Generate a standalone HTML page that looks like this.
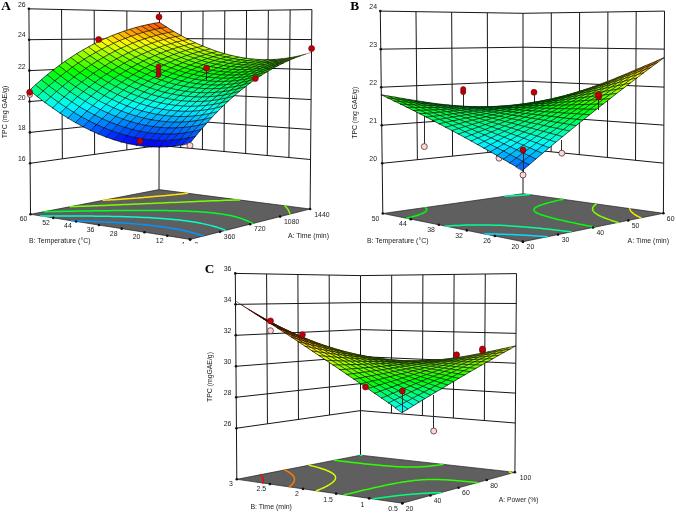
<!DOCTYPE html>
<html><head><meta charset="utf-8"><title>Response surface plots</title>
<style>html,body{margin:0;padding:0;background:#fff}svg{display:block;filter:blur(0.35px)}text{font-family:"Liberation Sans", sans-serif}</style>
</head><body>
<svg width="676" height="513" viewBox="0 0 676 513">
<rect width="676" height="513" fill="#fff"/>
<g><line x1="30.50" y1="214.30" x2="28.90" y2="8.80" stroke="#161616" stroke-width="1.00"/><line x1="62.36" y1="158.85" x2="61.55" y2="9.53" stroke="#161616" stroke-width="1.00"/><line x1="94.61" y1="154.39" x2="94.20" y2="10.25" stroke="#161616" stroke-width="1.00"/><line x1="126.87" y1="149.92" x2="126.85" y2="10.97" stroke="#161616" stroke-width="1.00"/><line x1="159.00" y1="189.60" x2="159.50" y2="11.70" stroke="#161616" stroke-width="1.00"/><line x1="180.76" y1="147.47" x2="181.27" y2="11.40" stroke="#161616" stroke-width="1.00"/><line x1="202.39" y1="149.48" x2="203.04" y2="11.10" stroke="#161616" stroke-width="1.00"/><line x1="224.02" y1="151.49" x2="224.81" y2="10.80" stroke="#161616" stroke-width="1.00"/><line x1="245.65" y1="153.50" x2="246.59" y2="10.50" stroke="#161616" stroke-width="1.00"/><line x1="267.28" y1="155.51" x2="268.36" y2="10.20" stroke="#161616" stroke-width="1.00"/><line x1="288.91" y1="157.52" x2="290.13" y2="9.90" stroke="#161616" stroke-width="1.00"/><line x1="310.10" y1="209.00" x2="311.90" y2="9.60" stroke="#161616" stroke-width="1.00"/><line x1="30.10" y1="163.31" x2="159.12" y2="145.46" stroke="#161616" stroke-width="1.00"/><line x1="159.12" y1="145.46" x2="310.55" y2="159.52" stroke="#161616" stroke-width="1.00"/><line x1="29.86" y1="132.41" x2="159.20" y2="118.71" stroke="#161616" stroke-width="1.00"/><line x1="159.20" y1="118.71" x2="310.82" y2="129.54" stroke="#161616" stroke-width="1.00"/><line x1="29.62" y1="101.51" x2="159.27" y2="91.96" stroke="#161616" stroke-width="1.00"/><line x1="159.27" y1="91.96" x2="311.09" y2="99.55" stroke="#161616" stroke-width="1.00"/><line x1="29.38" y1="70.60" x2="159.35" y2="65.20" stroke="#161616" stroke-width="1.00"/><line x1="159.35" y1="65.20" x2="311.36" y2="69.57" stroke="#161616" stroke-width="1.00"/><line x1="29.14" y1="39.70" x2="159.42" y2="38.45" stroke="#161616" stroke-width="1.00"/><line x1="159.42" y1="38.45" x2="311.63" y2="39.58" stroke="#161616" stroke-width="1.00"/><line x1="28.90" y1="8.80" x2="159.50" y2="11.70" stroke="#161616" stroke-width="1.00"/><line x1="159.50" y1="11.70" x2="311.90" y2="9.60" stroke="#161616" stroke-width="1.00"/></g>
<polygon points="30.50,214.30 159.00,189.60 310.10,209.00 190.10,239.40" fill="#5f5f5f" stroke="#222" stroke-width="0.7"/>
<polyline points="203.39,236.03 201.82,235.50 201.57,235.42 199.72,234.81 197.81,234.22 196.78,233.92 195.86,233.64 193.87,233.08 191.83,232.52 190.13,232.09 189.73,231.99 187.59,231.46 185.40,230.95 183.16,230.45 180.86,229.96 178.87,229.56 178.51,229.49 176.11,229.03 173.65,228.59 171.14,228.16 168.57,227.74 165.94,227.34 163.26,226.94 160.52,226.57 157.72,226.20 154.87,225.85 153.47,225.69 151.96,225.51 148.99,225.18 145.96,224.87 142.88,224.57 139.74,224.28 138.36,224.16 136.54,224.00 133.28,223.73 129.97,223.48 127.86,223.33 126.59,223.24 123.17,223.00 119.68,222.78 118.99,222.74 116.15,222.57 112.56,222.37 111.05,222.29 108.91,222.18 105.21,222.00 103.70,221.93 101.46,221.82 97.65,221.66 96.78,221.62 93.80,221.50 90.18,221.37 89.89,221.36 85.94,221.22 83.86,221.15 81.93,221.09 77.88,220.96 77.72,220.96 73.78,220.84 71.78,220.79" fill="none" stroke="#0094ff" stroke-width="1.50" stroke-linecap="round"/>
<polyline points="225.66,230.39 224.95,230.11 224.05,229.75 222.39,229.12 221.47,228.79 220.68,228.50 218.92,227.90 217.24,227.36 217.10,227.32 215.23,226.75 213.31,226.19 211.65,225.74 211.32,225.65 209.28,225.13 207.18,224.62 205.02,224.13 202.79,223.66 202.67,223.63 200.50,223.20 198.14,222.75 195.72,222.32 193.24,221.91 190.68,221.52 188.06,221.14 185.36,220.78 182.60,220.43 179.77,220.10 176.87,219.78 175.69,219.67 173.90,219.48 170.86,219.20 167.75,218.93 164.57,218.67 162.84,218.54 161.32,218.43 158.01,218.20 154.62,217.99 153.42,217.92 151.18,217.79 147.66,217.60 145.34,217.49 144.08,217.42 140.43,217.26 138.02,217.16 136.72,217.11 132.95,216.97 131.23,216.91 129.12,216.84 125.23,216.72 124.78,216.71 121.28,216.61 118.64,216.55 117.27,216.51 113.21,216.42 112.70,216.41 109.09,216.34 106.96,216.30 104.92,216.27 101.35,216.21 100.69,216.20 96.41,216.14 95.88,216.14 92.09,216.09 90.52,216.08 87.72,216.05 85.25,216.03 83.29,216.01 80.06,215.99 78.83,215.98 74.94,215.95 74.31,215.95 69.88,215.93 69.76,215.93 65.16,215.91 64.89,215.91 60.52,215.90 59.95,215.90 55.84,215.89 55.06,215.89 51.12,215.89 50.21,215.89 46.37,215.89 45.39,215.89 41.57,215.89 40.61,215.89" fill="none" stroke="#00ffc9" stroke-width="1.50" stroke-linecap="round"/>
<polyline points="44.17,211.67 46.86,211.63 49.39,211.58 51.20,211.56 54.57,211.50 55.56,211.48 59.72,211.41 59.94,211.41 64.33,211.34 64.85,211.33 68.74,211.26 69.94,211.24 73.17,211.19 75.00,211.16 77.62,211.12 80.02,211.08 82.09,211.05 85.01,211.00 86.58,210.98 89.96,210.93 91.09,210.92 94.87,210.86 95.64,210.85 99.74,210.79 100.21,210.79 104.57,210.73 104.82,210.73 109.36,210.67 109.47,210.67 114.10,210.62 114.17,210.62 118.79,210.57 118.91,210.57 123.44,210.53 123.71,210.53 128.03,210.49 128.57,210.49 132.57,210.47 133.50,210.46 137.05,210.45 138.51,210.45 141.48,210.44 143.62,210.44 145.85,210.43 148.84,210.44 150.15,210.44 154.18,210.46 154.38,210.46 158.55,210.49 159.70,210.50 162.65,210.53 165.43,210.57 166.68,210.59 170.63,210.66 171.42,210.67 174.51,210.74 177.77,210.82 178.30,210.84 182.02,210.95 184.65,211.04 185.65,211.08 189.19,211.22 192.37,211.38 192.64,211.39 196.02,211.57 199.29,211.77 201.88,211.95 202.47,211.99 205.56,212.23 208.56,212.50 211.46,212.78 214.27,213.08 216.98,213.41 219.60,213.75 222.13,214.12 224.56,214.51 226.91,214.93 229.16,215.36 231.33,215.82 233.41,216.29 234.03,216.45 235.41,216.79 237.33,217.31 239.17,217.85 239.68,218.01 240.93,218.41 242.63,218.99 243.57,219.34 244.25,219.58 245.80,220.20 246.61,220.55 247.29,220.84 248.72,221.49 249.13,221.69 250.10,222.16 251.29,222.79 251.41,222.85 252.67,223.55" fill="none" stroke="#00ff27" stroke-width="1.50" stroke-linecap="round"/>
<polyline points="70.14,206.68 72.09,206.61 75.83,206.48 76.05,206.47 80.02,206.32 81.50,206.27 83.98,206.18 87.16,206.06 87.93,206.03 91.89,205.88 92.81,205.84 95.86,205.73 98.44,205.63 99.82,205.58 103.77,205.42 104.06,205.41 107.74,205.26 109.67,205.18 111.70,205.11 115.25,204.96 115.65,204.94 119.62,204.78 120.82,204.73 123.59,204.62 126.37,204.50 127.55,204.45 131.52,204.29 131.90,204.27 135.50,204.12 137.42,204.04 139.47,203.95 142.90,203.80 143.44,203.78 147.43,203.61 148.38,203.57 151.42,203.44 153.82,203.33 155.41,203.26 159.24,203.09 159.40,203.09 163.41,202.91 164.63,202.86 167.43,202.74 169.99,202.62 171.45,202.56 175.32,202.39 175.47,202.38 179.53,202.20 180.62,202.15 183.59,202.03 185.87,201.92 187.66,201.85 191.08,201.70 191.75,201.67 195.86,201.49 196.25,201.47 200.01,201.32 201.37,201.26 204.18,201.15 206.43,201.05 208.38,200.97 211.42,200.85 212.62,200.81 216.34,200.66 216.91,200.64 221.18,200.49 221.25,200.48 225.68,200.33 225.93,200.32 230.21,200.19 230.58,200.18 234.86,200.07 235.12,200.06 239.53,199.96 239.67,199.96" fill="none" stroke="#7aff00" stroke-width="1.50" stroke-linecap="round"/>
<polyline points="284.76,205.75 284.82,205.79 285.64,206.53 285.72,206.62 286.37,207.29 286.51,207.48 287.02,208.08 287.18,208.32 287.60,208.88 287.76,209.16 288.13,209.71 288.26,209.98 288.60,210.55 288.70,210.80 289.02,211.41 289.09,211.62 289.40,212.29 289.45,212.44 289.75,213.17 289.77,213.25 290.07,214.06 290.07,214.07" fill="none" stroke="#7aff00" stroke-width="1.50" stroke-linecap="round"/>
<polyline points="103.16,200.33 103.42,200.32 106.90,200.10 109.88,199.90 110.36,199.87 113.82,199.64 116.67,199.44 117.24,199.40 120.67,199.17 123.54,198.96 124.06,198.93 127.45,198.68 130.50,198.46 130.81,198.43 134.16,198.18 137.48,197.93 137.57,197.92 140.80,197.67 144.08,197.40 144.79,197.34 147.35,197.14 150.60,196.87 152.17,196.73 153.82,196.59 157.02,196.31 159.75,196.06 160.19,196.03 163.35,195.74 166.46,195.44 167.61,195.33 169.56,195.15 172.63,194.85 175.66,194.54 175.82,194.52 178.68,194.23 181.66,193.91 184.56,193.59 184.60,193.59 187.52,193.26" fill="none" stroke="#ffe200" stroke-width="1.50" stroke-linecap="round"/>
<g fill="#111"><circle cx="30.50" cy="214.30" r="1.3"/><circle cx="53.30" cy="217.89" r="1.3"/><circle cx="76.10" cy="221.47" r="1.3"/><circle cx="98.90" cy="225.06" r="1.3"/><circle cx="121.70" cy="228.64" r="1.3"/><circle cx="144.50" cy="232.23" r="1.3"/><circle cx="167.30" cy="235.81" r="1.3"/><circle cx="190.10" cy="239.40" r="1.3"/><circle cx="190.10" cy="239.40" r="1.3"/><circle cx="220.10" cy="231.80" r="1.3"/><circle cx="250.10" cy="224.20" r="1.3"/><circle cx="280.10" cy="216.60" r="1.3"/><circle cx="310.10" cy="209.00" r="1.3"/><circle cx="30.10" cy="163.31" r="1.3"/><circle cx="29.86" cy="132.41" r="1.3"/><circle cx="29.62" cy="101.51" r="1.3"/><circle cx="29.38" cy="70.60" r="1.3"/><circle cx="29.14" cy="39.70" r="1.3"/><circle cx="28.90" cy="8.80" r="1.3"/></g>
<circle cx="29.9" cy="94.8" r="2.6" fill="#ffd6d6" stroke="#3a2020" stroke-width="0.7"/>
<g fill="none" stroke="#000" stroke-width="0.68" stroke-linejoin="round" stroke-linecap="round"><path d="M153.5 23.4L159.5 22.4L166.7 27.1L160.8 28.2Z" fill="#ff5d00" stroke="none"/><path d="M153.5 23.4L159.5 22.4L166.7 27.1"/><path d="M147.6 24.6L153.5 23.4L160.8 28.2L154.9 29.4Z" fill="#ff6800" stroke="none"/><path d="M147.6 24.6L153.5 23.4L160.8 28.2"/><path d="M160.8 28.2L166.7 27.1L173.9 31.5L168.1 32.6Z" fill="#ff8900" stroke="none"/><path d="M160.8 28.2L166.7 27.1L173.9 31.5"/><path d="M141.7 26.0L147.6 24.6L154.9 29.4L149.0 30.8Z" fill="#ff7500" stroke="none"/><path d="M141.7 26.0L147.6 24.6L154.9 29.4"/><path d="M154.9 29.4L160.8 28.2L168.1 32.6L162.2 33.9Z" fill="#ff9500" stroke="none"/><path d="M154.9 29.4L160.8 28.2L168.1 32.6"/><path d="M168.1 32.6L173.9 31.5L181.2 35.6L175.3 36.7Z" fill="#ffb200" stroke="none"/><path d="M168.1 32.6L173.9 31.5L181.2 35.6"/><path d="M135.7 27.5L141.7 26.0L149.0 30.8L143.1 32.4Z" fill="#ff8300" stroke="none"/><path d="M135.7 27.5L141.7 26.0L149.0 30.8"/><path d="M149.0 30.8L154.9 29.4L162.2 33.9L156.3 35.4Z" fill="#ffa100" stroke="none"/><path d="M149.0 30.8L154.9 29.4L162.2 33.9"/><path d="M162.2 33.9L168.1 32.6L175.3 36.7L169.4 38.1Z" fill="#ffbd00" stroke="none"/><path d="M162.2 33.9L168.1 32.6L175.3 36.7"/><path d="M175.3 36.7L181.2 35.6L188.4 39.4L182.6 40.6Z" fill="#ffd700" stroke="none"/><path d="M175.3 36.7L181.2 35.6L188.4 39.4"/><path d="M129.8 29.3L135.7 27.5L143.1 32.4L137.2 34.2Z" fill="#ff9300" stroke="none"/><path d="M129.8 29.3L135.7 27.5L143.1 32.4"/><path d="M143.1 32.4L149.0 30.8L156.3 35.4L150.4 37.0Z" fill="#ffb000" stroke="none"/><path d="M143.1 32.4L149.0 30.8L156.3 35.4"/><path d="M156.3 35.4L162.2 33.9L169.4 38.1L163.6 39.6Z" fill="#ffca00" stroke="none"/><path d="M156.3 35.4L162.2 33.9L169.4 38.1"/><path d="M169.4 38.1L175.3 36.7L182.6 40.6L176.7 42.0Z" fill="#ffe300" stroke="none"/><path d="M169.4 38.1L175.3 36.7L182.6 40.6"/><path d="M182.6 40.6L188.4 39.4L195.6 42.9L189.8 44.1Z" fill="#fffa00" stroke="none"/><path d="M182.6 40.6L188.4 39.4L195.6 42.9"/><path d="M123.9 31.2L129.8 29.3L137.2 34.2L131.3 36.2Z" fill="#ffa400" stroke="none"/><path d="M123.9 31.2L129.8 29.3L137.2 34.2"/><path d="M137.2 34.2L143.1 32.4L150.4 37.0L144.5 38.9Z" fill="#ffc000" stroke="none"/><path d="M137.2 34.2L143.1 32.4L150.4 37.0"/><path d="M150.4 37.0L156.3 35.4L163.6 39.6L157.7 41.3Z" fill="#ffd900" stroke="none"/><path d="M150.4 37.0L156.3 35.4L163.6 39.6"/><path d="M163.6 39.6L169.4 38.1L176.7 42.0L170.9 43.6Z" fill="#fff000" stroke="none"/><path d="M163.6 39.6L169.4 38.1L176.7 42.0"/><path d="M176.7 42.0L182.6 40.6L189.8 44.1L184.0 45.6Z" fill="#f9ff00" stroke="none"/><path d="M176.7 42.0L182.6 40.6L189.8 44.1"/><path d="M189.8 44.1L195.6 42.9L202.9 46.1L197.1 47.4Z" fill="#e6ff00" stroke="none"/><path d="M189.8 44.1L195.6 42.9L202.9 46.1"/><path d="M118.0 33.3L123.9 31.2L131.3 36.2L125.3 38.4Z" fill="#ffb700" stroke="none"/><path d="M118.0 33.3L123.9 31.2L131.3 36.2"/><path d="M131.3 36.2L137.2 34.2L144.5 38.9L138.6 40.9Z" fill="#ffd100" stroke="none"/><path d="M131.3 36.2L137.2 34.2L144.5 38.9"/><path d="M144.5 38.9L150.4 37.0L157.7 41.3L151.8 43.2Z" fill="#ffe900" stroke="none"/><path d="M144.5 38.9L150.4 37.0L157.7 41.3"/><path d="M157.7 41.3L163.6 39.6L170.9 43.6L165.0 45.3Z" fill="#ffff00" stroke="none"/><path d="M157.7 41.3L163.6 39.6L170.9 43.6"/><path d="M170.9 43.6L176.7 42.0L184.0 45.6L178.2 47.2Z" fill="#ebff00" stroke="none"/><path d="M170.9 43.6L176.7 42.0L184.0 45.6"/><path d="M184.0 45.6L189.8 44.1L197.1 47.4L191.3 48.8Z" fill="#daff00" stroke="none"/><path d="M184.0 45.6L189.8 44.1L197.1 47.4"/><path d="M197.1 47.4L202.9 46.1L210.1 48.9L204.3 50.3Z" fill="#caff00" stroke="none"/><path d="M197.1 47.4L202.9 46.1L210.1 48.9"/><path d="M112.0 35.6L118.0 33.3L125.3 38.4L119.4 40.7Z" fill="#ffcc00" stroke="none"/><path d="M112.0 35.6L118.0 33.3L125.3 38.4"/><path d="M125.3 38.4L131.3 36.2L138.6 40.9L132.7 43.1Z" fill="#ffe400" stroke="none"/><path d="M125.3 38.4L131.3 36.2L138.6 40.9"/><path d="M138.6 40.9L144.5 38.9L151.8 43.2L146.0 45.3Z" fill="#fffb00" stroke="none"/><path d="M138.6 40.9L144.5 38.9L151.8 43.2"/><path d="M151.8 43.2L157.7 41.3L165.0 45.3L159.2 47.3Z" fill="#efff00" stroke="none"/><path d="M151.8 43.2L157.7 41.3L165.0 45.3"/><path d="M165.0 45.3L170.9 43.6L178.2 47.2L172.3 49.0Z" fill="#ddff00" stroke="none"/><path d="M165.0 45.3L170.9 43.6L178.2 47.2"/><path d="M178.2 47.2L184.0 45.6L191.3 48.8L185.4 50.5Z" fill="#ccff00" stroke="none"/><path d="M178.2 47.2L184.0 45.6L191.3 48.8"/><path d="M191.3 48.8L197.1 47.4L204.3 50.3L198.5 51.8Z" fill="#beff00" stroke="none"/><path d="M191.3 48.8L197.1 47.4L204.3 50.3"/><path d="M204.3 50.3L210.1 48.9L217.3 51.5L211.6 52.8Z" fill="#b2ff00" stroke="none"/><path d="M204.3 50.3L210.1 48.9L217.3 51.5"/><path d="M106.1 38.1L112.0 35.6L119.4 40.7L113.5 43.3Z" fill="#ffe100" stroke="none"/><path d="M106.1 38.1L112.0 35.6L119.4 40.7"/><path d="M119.4 40.7L125.3 38.4L132.7 43.1L126.8 45.6Z" fill="#fff900" stroke="none"/><path d="M119.4 40.7L125.3 38.4L132.7 43.1"/><path d="M132.7 43.1L138.6 40.9L146.0 45.3L140.1 47.6Z" fill="#f0ff00" stroke="none"/><path d="M132.7 43.1L138.6 40.9L146.0 45.3"/><path d="M146.0 45.3L151.8 43.2L159.2 47.3L153.3 49.4Z" fill="#ddff00" stroke="none"/><path d="M146.0 45.3L151.8 43.2L159.2 47.3"/><path d="M159.2 47.3L165.0 45.3L172.3 49.0L166.5 51.0Z" fill="#ccff00" stroke="none"/><path d="M159.2 47.3L165.0 45.3L172.3 49.0"/><path d="M172.3 49.0L178.2 47.2L185.4 50.5L179.6 52.4Z" fill="#bdff00" stroke="none"/><path d="M172.3 49.0L178.2 47.2L185.4 50.5"/><path d="M185.4 50.5L191.3 48.8L198.5 51.8L192.7 53.5Z" fill="#b0ff00" stroke="none"/><path d="M185.4 50.5L191.3 48.8L198.5 51.8"/><path d="M198.5 51.8L204.3 50.3L211.6 52.8L205.8 54.4Z" fill="#a6ff00" stroke="none"/><path d="M198.5 51.8L204.3 50.3L211.6 52.8"/><path d="M211.6 52.8L217.3 51.5L224.6 53.7L218.8 55.1Z" fill="#9dff00" stroke="none"/><path d="M211.6 52.8L217.3 51.5L224.6 53.7"/><path d="M100.2 40.8L106.1 38.1L113.5 43.3L107.7 46.1Z" fill="#fff900" stroke="none"/><path d="M100.2 40.8L106.1 38.1L113.5 43.3"/><path d="M113.5 43.3L119.4 40.7L126.8 45.6L121.0 48.2Z" fill="#efff00" stroke="none"/><path d="M113.5 43.3L119.4 40.7L126.8 45.6"/><path d="M126.8 45.6L132.7 43.1L140.1 47.6L134.2 50.1Z" fill="#dcff00" stroke="none"/><path d="M126.8 45.6L132.7 43.1L140.1 47.6"/><path d="M140.1 47.6L146.0 45.3L153.3 49.4L147.5 51.8Z" fill="#caff00" stroke="none"/><path d="M140.1 47.6L146.0 45.3L153.3 49.4"/><path d="M153.3 49.4L159.2 47.3L166.5 51.0L160.7 53.2Z" fill="#baff00" stroke="none"/><path d="M153.3 49.4L159.2 47.3L166.5 51.0"/><path d="M166.5 51.0L172.3 49.0L179.6 52.4L173.8 54.4Z" fill="#adff00" stroke="none"/><path d="M166.5 51.0L172.3 49.0L179.6 52.4"/><path d="M179.6 52.4L185.4 50.5L192.7 53.5L186.9 55.4Z" fill="#a1ff00" stroke="none"/><path d="M179.6 52.4L185.4 50.5L192.7 53.5"/><path d="M192.7 53.5L198.5 51.8L205.8 54.4L200.0 56.2Z" fill="#98ff00" stroke="none"/><path d="M192.7 53.5L198.5 51.8L205.8 54.4"/><path d="M205.8 54.4L211.6 52.8L218.8 55.1L213.1 56.7Z" fill="#90ff00" stroke="none"/><path d="M205.8 54.4L211.6 52.8L218.8 55.1"/><path d="M218.8 55.1L224.6 53.7L231.8 55.5L226.1 57.0Z" fill="#8bff00" stroke="none"/><path d="M218.8 55.1L224.6 53.7L231.8 55.5"/><path d="M94.3 43.7L100.2 40.8L107.7 46.1L101.8 49.1Z" fill="#ecff00" stroke="none"/><path d="M94.3 43.7L100.2 40.8L107.7 46.1"/><path d="M107.7 46.1L113.5 43.3L121.0 48.2L115.1 51.0Z" fill="#d8ff00" stroke="none"/><path d="M107.7 46.1L113.5 43.3L121.0 48.2"/><path d="M121.0 48.2L126.8 45.6L134.2 50.1L128.4 52.8Z" fill="#c5ff00" stroke="none"/><path d="M121.0 48.2L126.8 45.6L134.2 50.1"/><path d="M134.2 50.1L140.1 47.6L147.5 51.8L141.6 54.3Z" fill="#b5ff00" stroke="none"/><path d="M134.2 50.1L140.1 47.6L147.5 51.8"/><path d="M147.5 51.8L153.3 49.4L160.7 53.2L154.8 55.6Z" fill="#a7ff00" stroke="none"/><path d="M147.5 51.8L153.3 49.4L160.7 53.2"/><path d="M160.7 53.2L166.5 51.0L173.8 54.4L168.0 56.7Z" fill="#9bff00" stroke="none"/><path d="M160.7 53.2L166.5 51.0L173.8 54.4"/><path d="M173.8 54.4L179.6 52.4L186.9 55.4L181.1 57.5Z" fill="#91ff00" stroke="none"/><path d="M173.8 54.4L179.6 52.4L186.9 55.4"/><path d="M186.9 55.4L192.7 53.5L200.0 56.2L194.2 58.1Z" fill="#89ff00" stroke="none"/><path d="M186.9 55.4L192.7 53.5L200.0 56.2"/><path d="M200.0 56.2L205.8 54.4L213.1 56.7L207.3 58.5Z" fill="#83ff00" stroke="none"/><path d="M200.0 56.2L205.8 54.4L213.1 56.7"/><path d="M213.1 56.7L218.8 55.1L226.1 57.0L220.3 58.6Z" fill="#7fff00" stroke="none"/><path d="M213.1 56.7L218.8 55.1L226.1 57.0"/><path d="M226.1 57.0L231.8 55.5L239.0 57.1L233.3 58.6Z" fill="#7dff00" stroke="none"/><path d="M226.1 57.0L231.8 55.5L239.0 57.1"/><path d="M88.4 46.9L94.3 43.7L101.8 49.1L95.9 52.3Z" fill="#d2ff00" stroke="none"/><path d="M88.4 46.9L94.3 43.7L101.8 49.1"/><path d="M101.8 49.1L107.7 46.1L115.1 51.0L109.2 54.1Z" fill="#bfff00" stroke="none"/><path d="M101.8 49.1L107.7 46.1L115.1 51.0"/><path d="M115.1 51.0L121.0 48.2L128.4 52.8L122.5 55.7Z" fill="#aeff00" stroke="none"/><path d="M115.1 51.0L121.0 48.2L128.4 52.8"/><path d="M128.4 52.8L134.2 50.1L141.6 54.3L135.8 57.1Z" fill="#9fff00" stroke="none"/><path d="M128.4 52.8L134.2 50.1L141.6 54.3"/><path d="M141.6 54.3L147.5 51.8L154.8 55.6L149.0 58.2Z" fill="#92ff00" stroke="none"/><path d="M141.6 54.3L147.5 51.8L154.8 55.6"/><path d="M154.8 55.6L160.7 53.2L168.0 56.7L162.2 59.1Z" fill="#87ff00" stroke="none"/><path d="M154.8 55.6L160.7 53.2L168.0 56.7"/><path d="M168.0 56.7L173.8 54.4L181.1 57.5L175.4 59.8Z" fill="#7eff00" stroke="none"/><path d="M168.0 56.7L173.8 54.4L181.1 57.5"/><path d="M181.1 57.5L186.9 55.4L194.2 58.1L188.5 60.3Z" fill="#78ff00" stroke="none"/><path d="M181.1 57.5L186.9 55.4L194.2 58.1"/><path d="M194.2 58.1L200.0 56.2L207.3 58.5L201.6 60.5Z" fill="#73ff00" stroke="none"/><path d="M194.2 58.1L200.0 56.2L207.3 58.5"/><path d="M207.3 58.5L213.1 56.7L220.3 58.6L214.6 60.5Z" fill="#71ff00" stroke="none"/><path d="M207.3 58.5L213.1 56.7L220.3 58.6"/><path d="M220.3 58.6L226.1 57.0L233.3 58.6L227.6 60.2Z" fill="#70ff00" stroke="none"/><path d="M220.3 58.6L226.1 57.0L233.3 58.6"/><path d="M233.3 58.6L239.0 57.1L246.3 58.3L240.6 59.8Z" fill="#72ff00" stroke="none"/><path d="M233.3 58.6L239.0 57.1L246.3 58.3"/><path d="M82.5 50.2L88.4 46.9L95.9 52.3L90.0 55.7Z" fill="#b6ff00" stroke="none"/><path d="M82.5 50.2L88.4 46.9L95.9 52.3"/><path d="M95.9 52.3L101.8 49.1L109.2 54.1L103.3 57.4Z" fill="#a4ff00" stroke="none"/><path d="M95.9 52.3L101.8 49.1L109.2 54.1"/><path d="M109.2 54.1L115.1 51.0L122.5 55.7L116.7 58.8Z" fill="#94ff00" stroke="none"/><path d="M109.2 54.1L115.1 51.0L122.5 55.7"/><path d="M122.5 55.7L128.4 52.8L135.8 57.1L130.0 60.0Z" fill="#87ff00" stroke="none"/><path d="M122.5 55.7L128.4 52.8L135.8 57.1"/><path d="M135.8 57.1L141.6 54.3L149.0 58.2L143.2 61.0Z" fill="#7bff00" stroke="none"/><path d="M135.8 57.1L141.6 54.3L149.0 58.2"/><path d="M149.0 58.2L154.8 55.6L162.2 59.1L156.4 61.8Z" fill="#72ff00" stroke="none"/><path d="M149.0 58.2L154.8 55.6L162.2 59.1"/><path d="M162.2 59.1L168.0 56.7L175.4 59.8L169.6 62.3Z" fill="#6bff00" stroke="none"/><path d="M162.2 59.1L168.0 56.7L175.4 59.8"/><path d="M175.4 59.8L181.1 57.5L188.5 60.3L182.7 62.6Z" fill="#65ff00" stroke="none"/><path d="M175.4 59.8L181.1 57.5L188.5 60.3"/><path d="M188.5 60.3L194.2 58.1L201.6 60.5L195.8 62.7Z" fill="#62ff00" stroke="none"/><path d="M188.5 60.3L194.2 58.1L201.6 60.5"/><path d="M201.6 60.5L207.3 58.5L214.6 60.5L208.9 62.5Z" fill="#61ff00" stroke="none"/><path d="M201.6 60.5L207.3 58.5L214.6 60.5"/><path d="M214.6 60.5L220.3 58.6L227.6 60.2L221.9 62.1Z" fill="#62ff00" stroke="none"/><path d="M214.6 60.5L220.3 58.6L227.6 60.2"/><path d="M227.6 60.2L233.3 58.6L240.6 59.8L234.9 61.5Z" fill="#65ff00" stroke="none"/><path d="M227.6 60.2L233.3 58.6L240.6 59.8"/><path d="M240.6 59.8L246.3 58.3L253.5 59.1L247.8 60.6Z" fill="#6aff00" stroke="none"/><path d="M240.6 59.8L246.3 58.3L253.5 59.1"/><path d="M76.6 53.7L82.5 50.2L90.0 55.7L84.1 59.3Z" fill="#98ff00" stroke="none"/><path d="M76.6 53.7L82.5 50.2L90.0 55.7"/><path d="M90.0 55.7L95.9 52.3L103.3 57.4L97.5 60.8Z" fill="#88ff00" stroke="none"/><path d="M90.0 55.7L95.9 52.3L103.3 57.4"/><path d="M103.3 57.4L109.2 54.1L116.7 58.8L110.8 62.1Z" fill="#7aff00" stroke="none"/><path d="M103.3 57.4L109.2 54.1L116.7 58.8"/><path d="M116.7 58.8L122.5 55.7L130.0 60.0L124.1 63.2Z" fill="#6eff00" stroke="none"/><path d="M116.7 58.8L122.5 55.7L130.0 60.0"/><path d="M130.0 60.0L135.8 57.1L143.2 61.0L137.4 64.1Z" fill="#63ff00" stroke="none"/><path d="M130.0 60.0L135.8 57.1L143.2 61.0"/><path d="M143.2 61.0L149.0 58.2L156.4 61.8L150.6 64.7Z" fill="#5bff00" stroke="none"/><path d="M143.2 61.0L149.0 58.2L156.4 61.8"/><path d="M156.4 61.8L162.2 59.1L169.6 62.3L163.8 65.0Z" fill="#55ff00" stroke="none"/><path d="M156.4 61.8L162.2 59.1L169.6 62.3"/><path d="M169.6 62.3L175.4 59.8L182.7 62.6L176.9 65.2Z" fill="#52ff00" stroke="none"/><path d="M169.6 62.3L175.4 59.8L182.7 62.6"/><path d="M182.7 62.6L188.5 60.3L195.8 62.7L190.1 65.1Z" fill="#50ff00" stroke="none"/><path d="M182.7 62.6L188.5 60.3L195.8 62.7"/><path d="M195.8 62.7L201.6 60.5L208.9 62.5L203.1 64.7Z" fill="#50ff00" stroke="none"/><path d="M195.8 62.7L201.6 60.5L208.9 62.5"/><path d="M208.9 62.5L214.6 60.5L221.9 62.1L216.2 64.2Z" fill="#52ff00" stroke="none"/><path d="M208.9 62.5L214.6 60.5L221.9 62.1"/><path d="M221.9 62.1L227.6 60.2L234.9 61.5L229.2 63.4Z" fill="#56ff00" stroke="none"/><path d="M221.9 62.1L227.6 60.2L234.9 61.5"/><path d="M234.9 61.5L240.6 59.8L247.8 60.6L242.1 62.4Z" fill="#5dff00" stroke="none"/><path d="M234.9 61.5L240.6 59.8L247.8 60.6"/><path d="M247.8 60.6L253.5 59.1L260.7 59.6L255.1 61.1Z" fill="#65ff00" stroke="none"/><path d="M247.8 60.6L253.5 59.1L260.7 59.6"/><path d="M70.7 57.5L76.6 53.7L84.1 59.3L78.2 63.1Z" fill="#79ff00" stroke="none"/><path d="M70.7 57.5L76.6 53.7L84.1 59.3"/><path d="M84.1 59.3L90.0 55.7L97.5 60.8L91.6 64.5Z" fill="#6aff00" stroke="none"/><path d="M84.1 59.3L90.0 55.7L97.5 60.8"/><path d="M97.5 60.8L103.3 57.4L110.8 62.1L105.0 65.7Z" fill="#5dff00" stroke="none"/><path d="M97.5 60.8L103.3 57.4L110.8 62.1"/><path d="M110.8 62.1L116.7 58.8L124.1 63.2L118.3 66.6Z" fill="#53ff00" stroke="none"/><path d="M110.8 62.1L116.7 58.8L124.1 63.2"/><path d="M124.1 63.2L130.0 60.0L137.4 64.1L131.6 67.3Z" fill="#4aff00" stroke="none"/><path d="M124.1 63.2L130.0 60.0L137.4 64.1"/><path d="M137.4 64.1L143.2 61.0L150.6 64.7L144.8 67.7Z" fill="#43ff00" stroke="none"/><path d="M137.4 64.1L143.2 61.0L150.6 64.7"/><path d="M150.6 64.7L156.4 61.8L163.8 65.0L158.0 68.0Z" fill="#3fff00" stroke="none"/><path d="M150.6 64.7L156.4 61.8L163.8 65.0"/><path d="M163.8 65.0L169.6 62.3L176.9 65.2L171.2 67.9Z" fill="#3cff00" stroke="none"/><path d="M163.8 65.0L169.6 62.3L176.9 65.2"/><path d="M176.9 65.2L182.7 62.6L190.1 65.1L184.3 67.7Z" fill="#3cff00" stroke="none"/><path d="M176.9 65.2L182.7 62.6L190.1 65.1"/><path d="M190.1 65.1L195.8 62.7L203.1 64.7L197.4 67.2Z" fill="#3dff00" stroke="none"/><path d="M190.1 65.1L195.8 62.7L203.1 64.7"/><path d="M203.1 64.7L208.9 62.5L216.2 64.2L210.5 66.5Z" fill="#41ff00" stroke="none"/><path d="M203.1 64.7L208.9 62.5L216.2 64.2"/><path d="M216.2 64.2L221.9 62.1L229.2 63.4L223.5 65.5Z" fill="#47ff00" stroke="none"/><path d="M216.2 64.2L221.9 62.1L229.2 63.4"/><path d="M229.2 63.4L234.9 61.5L242.1 62.4L236.5 64.3Z" fill="#4eff00" stroke="none"/><path d="M229.2 63.4L234.9 61.5L242.1 62.4"/><path d="M242.1 62.4L247.8 60.6L255.1 61.1L249.4 62.9Z" fill="#58ff00" stroke="none"/><path d="M242.1 62.4L247.8 60.6L255.1 61.1"/><path d="M255.1 61.1L260.7 59.6L268.0 59.7L262.3 61.3Z" fill="#64ff00" stroke="none"/><path d="M255.1 61.1L260.7 59.6L268.0 59.7"/><path d="M64.8 61.5L70.7 57.5L78.2 63.1L72.3 67.2Z" fill="#58ff00" stroke="none"/><path d="M64.8 61.5L70.7 57.5L78.2 63.1"/><path d="M78.2 63.1L84.1 59.3L91.6 64.5L85.8 68.4Z" fill="#4bff00" stroke="none"/><path d="M78.2 63.1L84.1 59.3L91.6 64.5"/><path d="M91.6 64.5L97.5 60.8L105.0 65.7L99.1 69.5Z" fill="#3fff00" stroke="none"/><path d="M91.6 64.5L97.5 60.8L105.0 65.7"/><path d="M105.0 65.7L110.8 62.1L118.3 66.6L112.5 70.2Z" fill="#36ff00" stroke="none"/><path d="M105.0 65.7L110.8 62.1L118.3 66.6"/><path d="M118.3 66.6L124.1 63.2L131.6 67.3L125.8 70.8Z" fill="#2fff00" stroke="none"/><path d="M118.3 66.6L124.1 63.2L131.6 67.3"/><path d="M131.6 67.3L137.4 64.1L144.8 67.7L139.0 71.0Z" fill="#2aff00" stroke="none"/><path d="M131.6 67.3L137.4 64.1L144.8 67.7"/><path d="M144.8 67.7L150.6 64.7L158.0 68.0L152.2 71.1Z" fill="#26ff00" stroke="none"/><path d="M144.8 67.7L150.6 64.7L158.0 68.0"/><path d="M158.0 68.0L163.8 65.0L171.2 67.9L165.4 70.9Z" fill="#25ff00" stroke="none"/><path d="M158.0 68.0L163.8 65.0L171.2 67.9"/><path d="M171.2 67.9L176.9 65.2L184.3 67.7L178.6 70.5Z" fill="#26ff00" stroke="none"/><path d="M171.2 67.9L176.9 65.2L184.3 67.7"/><path d="M184.3 67.7L190.1 65.1L197.4 67.2L191.7 69.8Z" fill="#29ff00" stroke="none"/><path d="M184.3 67.7L190.1 65.1L197.4 67.2"/><path d="M197.4 67.2L203.1 64.7L210.5 66.5L204.7 68.9Z" fill="#2eff00" stroke="none"/><path d="M197.4 67.2L203.1 64.7L210.5 66.5"/><path d="M210.5 66.5L216.2 64.2L223.5 65.5L217.8 67.8Z" fill="#35ff00" stroke="none"/><path d="M210.5 66.5L216.2 64.2L223.5 65.5"/><path d="M223.5 65.5L229.2 63.4L236.5 64.3L230.8 66.5Z" fill="#3eff00" stroke="none"/><path d="M223.5 65.5L229.2 63.4L236.5 64.3"/><path d="M236.5 64.3L242.1 62.4L249.4 62.9L243.8 64.9Z" fill="#4aff00" stroke="none"/><path d="M236.5 64.3L242.1 62.4L249.4 62.9"/><path d="M249.4 62.9L255.1 61.1L262.3 61.3L256.7 63.1Z" fill="#57ff00" stroke="none"/><path d="M249.4 62.9L255.1 61.1L262.3 61.3"/><path d="M262.3 61.3L268.0 59.7L275.2 59.4L269.6 61.0Z" fill="#66ff00" stroke="none"/><path d="M262.3 61.3L268.0 59.7L275.2 59.4"/><path d="M58.9 65.7L64.8 61.5L72.3 67.2L66.5 71.5Z" fill="#36ff00" stroke="none"/><path d="M58.9 65.7L64.8 61.5L72.3 67.2"/><path d="M72.3 67.2L78.2 63.1L85.8 68.4L79.9 72.6Z" fill="#2aff00" stroke="none"/><path d="M72.3 67.2L78.2 63.1L85.8 68.4"/><path d="M85.8 68.4L91.6 64.5L99.1 69.5L93.3 73.4Z" fill="#20ff00" stroke="none"/><path d="M85.8 68.4L91.6 64.5L99.1 69.5"/><path d="M99.1 69.5L105.0 65.7L112.5 70.2L106.6 74.1Z" fill="#18ff00" stroke="none"/><path d="M99.1 69.5L105.0 65.7L112.5 70.2"/><path d="M112.5 70.2L118.3 66.6L125.8 70.8L119.9 74.4Z" fill="#12ff00" stroke="none"/><path d="M112.5 70.2L118.3 66.6L125.8 70.8"/><path d="M125.8 70.8L131.6 67.3L139.0 71.0L133.2 74.6Z" fill="#0eff00" stroke="none"/><path d="M125.8 70.8L131.6 67.3L139.0 71.0"/><path d="M139.0 71.0L144.8 67.7L152.2 71.1L146.5 74.4Z" fill="#0dff00" stroke="none"/><path d="M139.0 71.0L144.8 67.7L152.2 71.1"/><path d="M152.2 71.1L158.0 68.0L165.4 70.9L159.7 74.1Z" fill="#0dff00" stroke="none"/><path d="M152.2 71.1L158.0 68.0L165.4 70.9"/><path d="M165.4 70.9L171.2 67.9L178.6 70.5L172.8 73.5Z" fill="#0fff00" stroke="none"/><path d="M165.4 70.9L171.2 67.9L178.6 70.5"/><path d="M178.6 70.5L184.3 67.7L191.7 69.8L185.9 72.7Z" fill="#13ff00" stroke="none"/><path d="M178.6 70.5L184.3 67.7L191.7 69.8"/><path d="M191.7 69.8L197.4 67.2L204.7 68.9L199.0 71.6Z" fill="#1aff00" stroke="none"/><path d="M191.7 69.8L197.4 67.2L204.7 68.9"/><path d="M204.7 68.9L210.5 66.5L217.8 67.8L212.1 70.3Z" fill="#22ff00" stroke="none"/><path d="M204.7 68.9L210.5 66.5L217.8 67.8"/><path d="M217.8 67.8L223.5 65.5L230.8 66.5L225.1 68.8Z" fill="#2dff00" stroke="none"/><path d="M217.8 67.8L223.5 65.5L230.8 66.5"/><path d="M230.8 66.5L236.5 64.3L243.8 64.9L238.1 67.0Z" fill="#39ff00" stroke="none"/><path d="M230.8 66.5L236.5 64.3L243.8 64.9"/><path d="M243.8 64.9L249.4 62.9L256.7 63.1L251.1 65.0Z" fill="#48ff00" stroke="none"/><path d="M243.8 64.9L249.4 62.9L256.7 63.1"/><path d="M256.7 63.1L262.3 61.3L269.6 61.0L264.0 62.8Z" fill="#59ff00" stroke="none"/><path d="M256.7 63.1L262.3 61.3L269.6 61.0"/><path d="M269.6 61.0L275.2 59.4L282.5 58.7L276.9 60.4Z" fill="#6bff00" stroke="none"/><path d="M269.6 61.0L275.2 59.4L282.5 58.7"/><path d="M53.0 70.2L58.9 65.7L66.5 71.5L60.6 76.0Z" fill="#12ff00" stroke="none"/><path d="M53.0 70.2L58.9 65.7L66.5 71.5"/><path d="M66.5 71.5L72.3 67.2L79.9 72.6L74.1 77.0Z" fill="#08ff00" stroke="none"/><path d="M66.5 71.5L72.3 67.2L79.9 72.6"/><path d="M79.9 72.6L85.8 68.4L93.3 73.4L87.5 77.7Z" fill="#00ff01" stroke="none"/><path d="M79.9 72.6L85.8 68.4L93.3 73.4"/><path d="M93.3 73.4L99.1 69.5L106.6 74.1L100.8 78.1Z" fill="#00ff07" stroke="none"/><path d="M93.3 73.4L99.1 69.5L106.6 74.1"/><path d="M106.6 74.1L112.5 70.2L119.9 74.4L114.1 78.3Z" fill="#00ff0c" stroke="none"/><path d="M106.6 74.1L112.5 70.2L119.9 74.4"/><path d="M119.9 74.4L125.8 70.8L133.2 74.6L127.4 78.3Z" fill="#00ff0e" stroke="none"/><path d="M119.9 74.4L125.8 70.8L133.2 74.6"/><path d="M133.2 74.6L139.0 71.0L146.5 74.4L140.7 78.0Z" fill="#00ff0f" stroke="none"/><path d="M133.2 74.6L139.0 71.0L146.5 74.4"/><path d="M146.5 74.4L152.2 71.1L159.7 74.1L153.9 77.5Z" fill="#00ff0d" stroke="none"/><path d="M146.5 74.4L152.2 71.1L159.7 74.1"/><path d="M159.7 74.1L165.4 70.9L172.8 73.5L167.1 76.8Z" fill="#00ff0a" stroke="none"/><path d="M159.7 74.1L165.4 70.9L172.8 73.5"/><path d="M172.8 73.5L178.6 70.5L185.9 72.7L180.2 75.8Z" fill="#00ff04" stroke="none"/><path d="M172.8 73.5L178.6 70.5L185.9 72.7"/><path d="M185.9 72.7L191.7 69.8L199.0 71.6L193.3 74.5Z" fill="#04ff00" stroke="none"/><path d="M185.9 72.7L191.7 69.8L199.0 71.6"/><path d="M199.0 71.6L204.7 68.9L212.1 70.3L206.4 73.1Z" fill="#0eff00" stroke="none"/><path d="M199.0 71.6L204.7 68.9L212.1 70.3"/><path d="M212.1 70.3L217.8 67.8L225.1 68.8L219.4 71.4Z" fill="#1aff00" stroke="none"/><path d="M212.1 70.3L217.8 67.8L225.1 68.8"/><path d="M225.1 68.8L230.8 66.5L238.1 67.0L232.4 69.4Z" fill="#28ff00" stroke="none"/><path d="M225.1 68.8L230.8 66.5L238.1 67.0"/><path d="M238.1 67.0L243.8 64.9L251.1 65.0L245.4 67.2Z" fill="#38ff00" stroke="none"/><path d="M238.1 67.0L243.8 64.9L251.1 65.0"/><path d="M251.1 65.0L256.7 63.1L264.0 62.8L258.4 64.8Z" fill="#4aff00" stroke="none"/><path d="M251.1 65.0L256.7 63.1L264.0 62.8"/><path d="M264.0 62.8L269.6 61.0L276.9 60.4L271.3 62.2Z" fill="#5eff00" stroke="none"/><path d="M264.0 62.8L269.6 61.0L276.9 60.4"/><path d="M276.9 60.4L282.5 58.7L289.7 57.7L284.1 59.4Z" fill="#74ff00" stroke="none"/><path d="M276.9 60.4L282.5 58.7L289.7 57.7" stroke-width="0.57"/><path d="M47.1 74.8L53.0 70.2L60.6 76.0L54.8 80.8Z" fill="#00ff13" stroke="none"/><path d="M47.1 74.8L53.0 70.2L60.6 76.0"/><path d="M60.6 76.0L66.5 71.5L74.1 77.0L68.2 81.6Z" fill="#00ff1c" stroke="none"/><path d="M60.6 76.0L66.5 71.5L74.1 77.0"/><path d="M74.1 77.0L79.9 72.6L87.5 77.7L81.6 82.1Z" fill="#00ff23" stroke="none"/><path d="M74.1 77.0L79.9 72.6L87.5 77.7"/><path d="M87.5 77.7L93.3 73.4L100.8 78.1L95.0 82.4Z" fill="#00ff29" stroke="none"/><path d="M87.5 77.7L93.3 73.4L100.8 78.1"/><path d="M100.8 78.1L106.6 74.1L114.1 78.3L108.3 82.5Z" fill="#00ff2c" stroke="none"/><path d="M100.8 78.1L106.6 74.1L114.1 78.3"/><path d="M114.1 78.3L119.9 74.4L127.4 78.3L121.6 82.3Z" fill="#00ff2d" stroke="none"/><path d="M114.1 78.3L119.9 74.4L127.4 78.3"/><path d="M127.4 78.3L133.2 74.6L140.7 78.0L134.9 81.8Z" fill="#00ff2c" stroke="none"/><path d="M127.4 78.3L133.2 74.6L140.7 78.0"/><path d="M140.7 78.0L146.5 74.4L153.9 77.5L148.1 81.1Z" fill="#00ff29" stroke="none"/><path d="M140.7 78.0L146.5 74.4L153.9 77.5"/><path d="M153.9 77.5L159.7 74.1L167.1 76.8L161.3 80.2Z" fill="#00ff24" stroke="none"/><path d="M153.9 77.5L159.7 74.1L167.1 76.8"/><path d="M167.1 76.8L172.8 73.5L180.2 75.8L174.5 79.1Z" fill="#00ff1d" stroke="none"/><path d="M167.1 76.8L172.8 73.5L180.2 75.8"/><path d="M180.2 75.8L185.9 72.7L193.3 74.5L187.6 77.6Z" fill="#00ff13" stroke="none"/><path d="M180.2 75.8L185.9 72.7L193.3 74.5"/><path d="M193.3 74.5L199.0 71.6L206.4 73.1L200.7 76.0Z" fill="#00ff08" stroke="none"/><path d="M193.3 74.5L199.0 71.6L206.4 73.1"/><path d="M206.4 73.1L212.1 70.3L219.4 71.4L213.8 74.1Z" fill="#05ff00" stroke="none"/><path d="M206.4 73.1L212.1 70.3L219.4 71.4"/><path d="M219.4 71.4L225.1 68.8L232.4 69.4L226.8 72.0Z" fill="#15ff00" stroke="none"/><path d="M219.4 71.4L225.1 68.8L232.4 69.4"/><path d="M232.4 69.4L238.1 67.0L245.4 67.2L239.8 69.7Z" fill="#26ff00" stroke="none"/><path d="M232.4 69.4L238.1 67.0L245.4 67.2"/><path d="M245.4 67.2L251.1 65.0L258.4 64.8L252.7 67.1Z" fill="#39ff00" stroke="none"/><path d="M245.4 67.2L251.1 65.0L258.4 64.8"/><path d="M258.4 64.8L264.0 62.8L271.3 62.2L265.7 64.3Z" fill="#4fff00" stroke="none"/><path d="M258.4 64.8L264.0 62.8L271.3 62.2"/><path d="M271.3 62.2L276.9 60.4L284.1 59.4L278.5 61.2Z" fill="#67ff00" stroke="none"/><path d="M271.3 62.2L276.9 60.4L284.1 59.4" stroke-width="0.63"/><path d="M284.1 59.4L289.7 57.7L297.0 56.3L291.4 58.0Z" fill="#80ff00" stroke="none"/><path d="M284.1 59.4L289.7 57.7L297.0 56.3" stroke-width="0.46"/><path d="M41.3 79.8L47.1 74.8L54.8 80.8L48.9 85.8Z" fill="#00ff3a" stroke="none"/><path d="M41.3 79.8L47.1 74.8L54.8 80.8"/><path d="M54.8 80.8L60.6 76.0L68.2 81.6L62.4 86.4Z" fill="#00ff41" stroke="none"/><path d="M54.8 80.8L60.6 76.0L68.2 81.6"/><path d="M68.2 81.6L74.1 77.0L81.6 82.1L75.8 86.8Z" fill="#00ff47" stroke="none"/><path d="M68.2 81.6L74.1 77.0L81.6 82.1"/><path d="M81.6 82.1L87.5 77.7L95.0 82.4L89.2 86.9Z" fill="#00ff4b" stroke="none"/><path d="M81.6 82.1L87.5 77.7L95.0 82.4"/><path d="M95.0 82.4L100.8 78.1L108.3 82.5L102.5 86.8Z" fill="#00ff4d" stroke="none"/><path d="M95.0 82.4L100.8 78.1L108.3 82.5"/><path d="M108.3 82.5L114.1 78.3L121.6 82.3L115.9 86.5Z" fill="#00ff4d" stroke="none"/><path d="M108.3 82.5L114.1 78.3L121.6 82.3"/><path d="M121.6 82.3L127.4 78.3L134.9 81.8L129.1 85.9Z" fill="#00ff4a" stroke="none"/><path d="M121.6 82.3L127.4 78.3L134.9 81.8"/><path d="M134.9 81.8L140.7 78.0L148.1 81.1L142.4 85.0Z" fill="#00ff46" stroke="none"/><path d="M134.9 81.8L140.7 78.0L148.1 81.1"/><path d="M148.1 81.1L153.9 77.5L161.3 80.2L155.6 83.9Z" fill="#00ff3f" stroke="none"/><path d="M148.1 81.1L153.9 77.5L161.3 80.2"/><path d="M161.3 80.2L167.1 76.8L174.5 79.1L168.8 82.6Z" fill="#00ff37" stroke="none"/><path d="M161.3 80.2L167.1 76.8L174.5 79.1"/><path d="M174.5 79.1L180.2 75.8L187.6 77.6L181.9 81.0Z" fill="#00ff2c" stroke="none"/><path d="M174.5 79.1L180.2 75.8L187.6 77.6"/><path d="M187.6 77.6L193.3 74.5L200.7 76.0L195.0 79.2Z" fill="#00ff20" stroke="none"/><path d="M187.6 77.6L193.3 74.5L200.7 76.0"/><path d="M200.7 76.0L206.4 73.1L213.8 74.1L208.1 77.1Z" fill="#00ff11" stroke="none"/><path d="M200.7 76.0L206.4 73.1L213.8 74.1"/><path d="M213.8 74.1L219.4 71.4L226.8 72.0L221.1 74.8Z" fill="#00ff00" stroke="none"/><path d="M213.8 74.1L219.4 71.4L226.8 72.0"/><path d="M226.8 72.0L232.4 69.4L239.8 69.7L234.1 72.3Z" fill="#13ff00" stroke="none"/><path d="M226.8 72.0L232.4 69.4L239.8 69.7"/><path d="M239.8 69.7L245.4 67.2L252.7 67.1L247.1 69.5Z" fill="#27ff00" stroke="none"/><path d="M239.8 69.7L245.4 67.2L252.7 67.1"/><path d="M252.7 67.1L258.4 64.8L265.7 64.3L260.0 66.5Z" fill="#3eff00" stroke="none"/><path d="M252.7 67.1L258.4 64.8L265.7 64.3"/><path d="M265.7 64.3L271.3 62.2L278.5 61.2L273.0 63.3Z" fill="#57ff00" stroke="none"/><path d="M265.7 64.3L271.3 62.2L278.5 61.2"/><path d="M278.5 61.2L284.1 59.4L291.4 58.0L285.8 59.8Z" fill="#72ff00" stroke="none"/><path d="M278.5 61.2L284.1 59.4L291.4 58.0" stroke-width="0.54"/><path d="M291.4 58.0L297.0 56.3L304.3 54.5L298.7 56.2Z" fill="#8fff00" stroke="none"/><path d="M291.4 58.0L297.0 56.3L304.3 54.5" stroke-width="0.33"/><path d="M35.4 84.9L41.3 79.8L48.9 85.8L43.1 91.0Z" fill="#00ff62" stroke="none"/><path d="M35.4 84.9L41.3 79.8L48.9 85.8"/><path d="M48.9 85.8L54.8 80.8L62.4 86.4L56.5 91.5Z" fill="#00ff68" stroke="none"/><path d="M48.9 85.8L54.8 80.8L62.4 86.4"/><path d="M62.4 86.4L68.2 81.6L75.8 86.8L70.0 91.7Z" fill="#00ff6d" stroke="none"/><path d="M62.4 86.4L68.2 81.6L75.8 86.8"/><path d="M75.8 86.8L81.6 82.1L89.2 86.9L83.4 91.7Z" fill="#00ff6f" stroke="none"/><path d="M75.8 86.8L81.6 82.1L89.2 86.9"/><path d="M89.2 86.9L95.0 82.4L102.5 86.8L96.8 91.4Z" fill="#00ff70" stroke="none"/><path d="M89.2 86.9L95.0 82.4L102.5 86.8"/><path d="M102.5 86.8L108.3 82.5L115.9 86.5L110.1 90.9Z" fill="#00ff6e" stroke="none"/><path d="M102.5 86.8L108.3 82.5L115.9 86.5"/><path d="M115.9 86.5L121.6 82.3L129.1 85.9L123.4 90.1Z" fill="#00ff6a" stroke="none"/><path d="M115.9 86.5L121.6 82.3L129.1 85.9"/><path d="M129.1 85.9L134.9 81.8L142.4 85.0L136.6 89.1Z" fill="#00ff64" stroke="none"/><path d="M129.1 85.9L134.9 81.8L142.4 85.0"/><path d="M142.4 85.0L148.1 81.1L155.6 83.9L149.9 87.8Z" fill="#00ff5d" stroke="none"/><path d="M142.4 85.0L148.1 81.1L155.6 83.9"/><path d="M155.6 83.9L161.3 80.2L168.8 82.6L163.1 86.3Z" fill="#00ff53" stroke="none"/><path d="M155.6 83.9L161.3 80.2L168.8 82.6"/><path d="M168.8 82.6L174.5 79.1L181.9 81.0L176.2 84.6Z" fill="#00ff47" stroke="none"/><path d="M168.8 82.6L174.5 79.1L181.9 81.0"/><path d="M181.9 81.0L187.6 77.6L195.0 79.2L189.3 82.6Z" fill="#00ff39" stroke="none"/><path d="M181.9 81.0L187.6 77.6L195.0 79.2"/><path d="M195.0 79.2L200.7 76.0L208.1 77.1L202.4 80.3Z" fill="#00ff29" stroke="none"/><path d="M195.0 79.2L200.7 76.0L208.1 77.1"/><path d="M208.1 77.1L213.8 74.1L221.1 74.8L215.5 77.8Z" fill="#00ff16" stroke="none"/><path d="M208.1 77.1L213.8 74.1L221.1 74.8"/><path d="M221.1 74.8L226.8 72.0L234.1 72.3L228.5 75.1Z" fill="#00ff02" stroke="none"/><path d="M221.1 74.8L226.8 72.0L234.1 72.3"/><path d="M234.1 72.3L239.8 69.7L247.1 69.5L241.5 72.2Z" fill="#14ff00" stroke="none"/><path d="M234.1 72.3L239.8 69.7L247.1 69.5"/><path d="M247.1 69.5L252.7 67.1L260.0 66.5L254.4 69.0Z" fill="#2cff00" stroke="none"/><path d="M247.1 69.5L252.7 67.1L260.0 66.5"/><path d="M260.0 66.5L265.7 64.3L273.0 63.3L267.4 65.6Z" fill="#47ff00" stroke="none"/><path d="M260.0 66.5L265.7 64.3L273.0 63.3"/><path d="M273.0 63.3L278.5 61.2L285.8 59.8L280.3 61.9Z" fill="#63ff00" stroke="none"/><path d="M273.0 63.3L278.5 61.2L285.8 59.8" stroke-width="0.61"/><path d="M285.8 59.8L291.4 58.0L298.7 56.2L293.1 58.1Z" fill="#81ff00" stroke="none"/><path d="M285.8 59.8L291.4 58.0L298.7 56.2" stroke-width="0.43"/><path d="M298.7 56.2L304.3 54.5L311.5 52.3L306.0 54.0Z" fill="#a2ff00" stroke="none"/><path d="M298.7 56.2L304.3 54.5L311.5 52.3L306.0 54.0" stroke-width="0.20"/><path d="M29.5 90.3L35.4 84.9L43.1 91.0L37.2 96.5Z" fill="#00ff8c" stroke="none"/><path d="M29.5 90.3L35.4 84.9L43.1 91.0M37.2 96.5L29.5 90.3"/><path d="M43.1 91.0L48.9 85.8L56.5 91.5L50.7 96.8Z" fill="#00ff91" stroke="none"/><path d="M43.1 91.0L48.9 85.8L56.5 91.5"/><path d="M56.5 91.5L62.4 86.4L70.0 91.7L64.2 96.9Z" fill="#00ff94" stroke="none"/><path d="M56.5 91.5L62.4 86.4L70.0 91.7"/><path d="M70.0 91.7L75.8 86.8L83.4 91.7L77.6 96.7Z" fill="#00ff95" stroke="none"/><path d="M70.0 91.7L75.8 86.8L83.4 91.7"/><path d="M83.4 91.7L89.2 86.9L96.8 91.4L91.0 96.2Z" fill="#00ff94" stroke="none"/><path d="M83.4 91.7L89.2 86.9L96.8 91.4"/><path d="M96.8 91.4L102.5 86.8L110.1 90.9L104.3 95.6Z" fill="#00ff91" stroke="none"/><path d="M96.8 91.4L102.5 86.8L110.1 90.9"/><path d="M110.1 90.9L115.9 86.5L123.4 90.1L117.6 94.6Z" fill="#00ff8c" stroke="none"/><path d="M110.1 90.9L115.9 86.5L123.4 90.1"/><path d="M123.4 90.1L129.1 85.9L136.6 89.1L130.9 93.4Z" fill="#00ff85" stroke="none"/><path d="M123.4 90.1L129.1 85.9L136.6 89.1"/><path d="M136.6 89.1L142.4 85.0L149.9 87.8L144.1 92.0Z" fill="#00ff7b" stroke="none"/><path d="M136.6 89.1L142.4 85.0L149.9 87.8"/><path d="M149.9 87.8L155.6 83.9L163.1 86.3L157.3 90.3Z" fill="#00ff70" stroke="none"/><path d="M149.9 87.8L155.6 83.9L163.1 86.3"/><path d="M163.1 86.3L168.8 82.6L176.2 84.6L170.5 88.3Z" fill="#00ff63" stroke="none"/><path d="M163.1 86.3L168.8 82.6L176.2 84.6"/><path d="M176.2 84.6L181.9 81.0L189.3 82.6L183.6 86.2Z" fill="#00ff53" stroke="none"/><path d="M176.2 84.6L181.9 81.0L189.3 82.6"/><path d="M189.3 82.6L195.0 79.2L202.4 80.3L196.7 83.7Z" fill="#00ff42" stroke="none"/><path d="M189.3 82.6L195.0 79.2L202.4 80.3"/><path d="M202.4 80.3L208.1 77.1L215.5 77.8L209.8 81.1Z" fill="#00ff2e" stroke="none"/><path d="M202.4 80.3L208.1 77.1L215.5 77.8"/><path d="M215.5 77.8L221.1 74.8L228.5 75.1L222.8 78.2Z" fill="#00ff19" stroke="none"/><path d="M215.5 77.8L221.1 74.8L228.5 75.1"/><path d="M228.5 75.1L234.1 72.3L241.5 72.2L235.9 75.0Z" fill="#00ff01" stroke="none"/><path d="M228.5 75.1L234.1 72.3L241.5 72.2"/><path d="M241.5 72.2L247.1 69.5L254.4 69.0L248.8 71.6Z" fill="#19ff00" stroke="none"/><path d="M241.5 72.2L247.1 69.5L254.4 69.0"/><path d="M254.4 69.0L260.0 66.5L267.4 65.6L261.8 68.0Z" fill="#34ff00" stroke="none"/><path d="M254.4 69.0L260.0 66.5L267.4 65.6"/><path d="M267.4 65.6L273.0 63.3L280.3 61.9L274.7 64.2Z" fill="#52ff00" stroke="none"/><path d="M267.4 65.6L273.0 63.3L280.3 61.9"/><path d="M280.3 61.9L285.8 59.8L293.1 58.1L287.6 60.1Z" fill="#72ff00" stroke="none"/><path d="M280.3 61.9L285.8 59.8L293.1 58.1" stroke-width="0.52"/><path d="M293.1 58.1L298.7 56.2L306.0 54.0L300.4 55.9Z" fill="#94ff00" stroke="none"/><path d="M293.1 58.1L298.7 56.2L306.0 54.0L300.4 55.9" stroke-width="0.28"/><path d="M37.2 96.5L43.1 91.0L50.7 96.8L44.9 102.4Z" fill="#00ffbb" stroke="none"/><path d="M37.2 96.5L43.1 91.0L50.7 96.8M44.9 102.4L37.2 96.5"/><path d="M50.7 96.8L56.5 91.5L64.2 96.9L58.4 102.3Z" fill="#00ffbd" stroke="none"/><path d="M50.7 96.8L56.5 91.5L64.2 96.9"/><path d="M64.2 96.9L70.0 91.7L77.6 96.7L71.8 101.9Z" fill="#00ffbc" stroke="none"/><path d="M64.2 96.9L70.0 91.7L77.6 96.7"/><path d="M77.6 96.7L83.4 91.7L91.0 96.2L85.2 101.3Z" fill="#00ffba" stroke="none"/><path d="M77.6 96.7L83.4 91.7L91.0 96.2"/><path d="M91.0 96.2L96.8 91.4L104.3 95.6L98.5 100.5Z" fill="#00ffb5" stroke="none"/><path d="M91.0 96.2L96.8 91.4L104.3 95.6"/><path d="M104.3 95.6L110.1 90.9L117.6 94.6L111.9 99.4Z" fill="#00ffaf" stroke="none"/><path d="M104.3 95.6L110.1 90.9L117.6 94.6"/><path d="M117.6 94.6L123.4 90.1L130.9 93.4L125.2 98.0Z" fill="#00ffa6" stroke="none"/><path d="M117.6 94.6L123.4 90.1L130.9 93.4"/><path d="M130.9 93.4L136.6 89.1L144.1 92.0L138.4 96.4Z" fill="#00ff9c" stroke="none"/><path d="M130.9 93.4L136.6 89.1L144.1 92.0"/><path d="M144.1 92.0L149.9 87.8L157.3 90.3L151.6 94.5Z" fill="#00ff8f" stroke="none"/><path d="M144.1 92.0L149.9 87.8L157.3 90.3"/><path d="M157.3 90.3L163.1 86.3L170.5 88.3L164.8 92.4Z" fill="#00ff80" stroke="none"/><path d="M157.3 90.3L163.1 86.3L170.5 88.3"/><path d="M170.5 88.3L176.2 84.6L183.6 86.2L178.0 90.0Z" fill="#00ff6f" stroke="none"/><path d="M170.5 88.3L176.2 84.6L183.6 86.2"/><path d="M183.6 86.2L189.3 82.6L196.7 83.7L191.1 87.4Z" fill="#00ff5d" stroke="none"/><path d="M183.6 86.2L189.3 82.6L196.7 83.7"/><path d="M196.7 83.7L202.4 80.3L209.8 81.1L204.2 84.5Z" fill="#00ff48" stroke="none"/><path d="M196.7 83.7L202.4 80.3L209.8 81.1"/><path d="M209.8 81.1L215.5 77.8L222.8 78.2L217.2 81.4Z" fill="#00ff31" stroke="none"/><path d="M209.8 81.1L215.5 77.8L222.8 78.2"/><path d="M222.8 78.2L228.5 75.1L235.9 75.0L230.2 78.1Z" fill="#00ff18" stroke="none"/><path d="M222.8 78.2L228.5 75.1L235.9 75.0"/><path d="M235.9 75.0L241.5 72.2L248.8 71.6L243.2 74.5Z" fill="#03ff00" stroke="none"/><path d="M235.9 75.0L241.5 72.2L248.8 71.6"/><path d="M248.8 71.6L254.4 69.0L261.8 68.0L256.2 70.7Z" fill="#21ff00" stroke="none"/><path d="M248.8 71.6L254.4 69.0L261.8 68.0"/><path d="M261.8 68.0L267.4 65.6L274.7 64.2L269.1 66.7Z" fill="#40ff00" stroke="none"/><path d="M261.8 68.0L267.4 65.6L274.7 64.2"/><path d="M274.7 64.2L280.3 61.9L287.6 60.1L282.0 62.4Z" fill="#61ff00" stroke="none"/><path d="M274.7 64.2L280.3 61.9L287.6 60.1" stroke-width="0.60"/><path d="M287.6 60.1L293.1 58.1L300.4 55.9L294.9 57.9Z" fill="#84ff00" stroke="none"/><path d="M287.6 60.1L293.1 58.1L300.4 55.9L294.9 57.9" stroke-width="0.40"/><path d="M44.9 102.4L50.7 96.8L58.4 102.3L52.6 107.9Z" fill="#00ffe7" stroke="none"/><path d="M44.9 102.4L50.7 96.8L58.4 102.3M52.6 107.9L44.9 102.4"/><path d="M58.4 102.3L64.2 96.9L71.8 101.9L66.0 107.4Z" fill="#00ffe5" stroke="none"/><path d="M58.4 102.3L64.2 96.9L71.8 101.9"/><path d="M71.8 101.9L77.6 96.7L85.2 101.3L79.4 106.7Z" fill="#00ffe1" stroke="none"/><path d="M71.8 101.9L77.6 96.7L85.2 101.3"/><path d="M85.2 101.3L91.0 96.2L98.5 100.5L92.8 105.6Z" fill="#00ffdb" stroke="none"/><path d="M85.2 101.3L91.0 96.2L98.5 100.5"/><path d="M98.5 100.5L104.3 95.6L111.9 99.4L106.1 104.3Z" fill="#00ffd3" stroke="none"/><path d="M98.5 100.5L104.3 95.6L111.9 99.4"/><path d="M111.9 99.4L117.6 94.6L125.2 98.0L119.4 102.8Z" fill="#00ffc9" stroke="none"/><path d="M111.9 99.4L117.6 94.6L125.2 98.0"/><path d="M125.2 98.0L130.9 93.4L138.4 96.4L132.7 101.0Z" fill="#00ffbd" stroke="none"/><path d="M125.2 98.0L130.9 93.4L138.4 96.4"/><path d="M138.4 96.4L144.1 92.0L151.6 94.5L145.9 98.9Z" fill="#00ffaf" stroke="none"/><path d="M138.4 96.4L144.1 92.0L151.6 94.5"/><path d="M151.6 94.5L157.3 90.3L164.8 92.4L159.1 96.6Z" fill="#00ff9f" stroke="none"/><path d="M151.6 94.5L157.3 90.3L164.8 92.4"/><path d="M164.8 92.4L170.5 88.3L178.0 90.0L172.3 94.1Z" fill="#00ff8d" stroke="none"/><path d="M164.8 92.4L170.5 88.3L178.0 90.0"/><path d="M178.0 90.0L183.6 86.2L191.1 87.4L185.4 91.3Z" fill="#00ff79" stroke="none"/><path d="M178.0 90.0L183.6 86.2L191.1 87.4"/><path d="M191.1 87.4L196.7 83.7L204.2 84.5L198.5 88.2Z" fill="#00ff63" stroke="none"/><path d="M191.1 87.4L196.7 83.7L204.2 84.5"/><path d="M204.2 84.5L209.8 81.1L217.2 81.4L211.6 85.0Z" fill="#00ff4a" stroke="none"/><path d="M204.2 84.5L209.8 81.1L217.2 81.4"/><path d="M217.2 81.4L222.8 78.2L230.2 78.1L224.6 81.4Z" fill="#00ff30" stroke="none"/><path d="M217.2 81.4L222.8 78.2L230.2 78.1"/><path d="M230.2 78.1L235.9 75.0L243.2 74.5L237.6 77.7Z" fill="#00ff13" stroke="none"/><path d="M230.2 78.1L235.9 75.0L243.2 74.5"/><path d="M243.2 74.5L248.8 71.6L256.2 70.7L250.6 73.6Z" fill="#0bff00" stroke="none"/><path d="M243.2 74.5L248.8 71.6L256.2 70.7"/><path d="M256.2 70.7L261.8 68.0L269.1 66.7L263.5 69.4Z" fill="#2cff00" stroke="none"/><path d="M256.2 70.7L261.8 68.0L269.1 66.7"/><path d="M269.1 66.7L274.7 64.2L282.0 62.4L276.5 64.9Z" fill="#4eff00" stroke="none"/><path d="M269.1 66.7L274.7 64.2L282.0 62.4"/><path d="M282.0 62.4L287.6 60.1L294.9 57.9L289.3 60.3Z" fill="#73ff00" stroke="none"/><path d="M282.0 62.4L287.6 60.1L294.9 57.9L289.3 60.3" stroke-width="0.49"/><path d="M52.6 107.9L58.4 102.3L66.0 107.4L60.2 113.2Z" fill="#00efff" stroke="none"/><path d="M52.6 107.9L58.4 102.3L66.0 107.4M60.2 113.2L52.6 107.9"/><path d="M66.0 107.4L71.8 101.9L79.4 106.7L73.6 112.2Z" fill="#00f4ff" stroke="none"/><path d="M66.0 107.4L71.8 101.9L79.4 106.7"/><path d="M79.4 106.7L85.2 101.3L92.8 105.6L87.0 111.0Z" fill="#00fbff" stroke="none"/><path d="M79.4 106.7L85.2 101.3L92.8 105.6"/><path d="M92.8 105.6L98.5 100.5L106.1 104.3L100.4 109.6Z" fill="#00fff9" stroke="none"/><path d="M92.8 105.6L98.5 100.5L106.1 104.3"/><path d="M106.1 104.3L111.9 99.4L119.4 102.8L113.7 107.8Z" fill="#00ffee" stroke="none"/><path d="M106.1 104.3L111.9 99.4L119.4 102.8"/><path d="M119.4 102.8L125.2 98.0L132.7 101.0L127.0 105.9Z" fill="#00ffe1" stroke="none"/><path d="M119.4 102.8L125.2 98.0L132.7 101.0"/><path d="M132.7 101.0L138.4 96.4L145.9 98.9L140.2 103.6Z" fill="#00ffd1" stroke="none"/><path d="M132.7 101.0L138.4 96.4L145.9 98.9"/><path d="M145.9 98.9L151.6 94.5L159.1 96.6L153.4 101.1Z" fill="#00ffc0" stroke="none"/><path d="M145.9 98.9L151.6 94.5L159.1 96.6"/><path d="M159.1 96.6L164.8 92.4L172.3 94.1L166.6 98.4Z" fill="#00ffac" stroke="none"/><path d="M159.1 96.6L164.8 92.4L172.3 94.1"/><path d="M172.3 94.1L178.0 90.0L185.4 91.3L179.8 95.4Z" fill="#00ff97" stroke="none"/><path d="M172.3 94.1L178.0 90.0L185.4 91.3"/><path d="M185.4 91.3L191.1 87.4L198.5 88.2L192.9 92.2Z" fill="#00ff7f" stroke="none"/><path d="M185.4 91.3L191.1 87.4L198.5 88.2"/><path d="M198.5 88.2L204.2 84.5L211.6 85.0L205.9 88.7Z" fill="#00ff65" stroke="none"/><path d="M198.5 88.2L204.2 84.5L211.6 85.0"/><path d="M211.6 85.0L217.2 81.4L224.6 81.4L219.0 85.0Z" fill="#00ff49" stroke="none"/><path d="M211.6 85.0L217.2 81.4L224.6 81.4"/><path d="M224.6 81.4L230.2 78.1L237.6 77.7L232.0 81.0Z" fill="#00ff2c" stroke="none"/><path d="M224.6 81.4L230.2 78.1L237.6 77.7"/><path d="M237.6 77.7L243.2 74.5L250.6 73.6L245.0 76.8Z" fill="#00ff0c" stroke="none"/><path d="M237.6 77.7L243.2 74.5L250.6 73.6"/><path d="M250.6 73.6L256.2 70.7L263.5 69.4L258.0 72.3Z" fill="#16ff00" stroke="none"/><path d="M250.6 73.6L256.2 70.7L263.5 69.4"/><path d="M263.5 69.4L269.1 66.7L276.5 64.9L270.9 67.7Z" fill="#3aff00" stroke="none"/><path d="M263.5 69.4L269.1 66.7L276.5 64.9"/><path d="M276.5 64.9L282.0 62.4L289.3 60.3L283.8 62.8Z" fill="#60ff00" stroke="none"/><path d="M276.5 64.9L282.0 62.4L289.3 60.3L283.8 62.8" stroke-width="0.57"/><path d="M60.2 113.2L66.0 107.4L73.6 112.2L67.9 118.1Z" fill="#00caff" stroke="none"/><path d="M60.2 113.2L66.0 107.4L73.6 112.2M67.9 118.1L60.2 113.2"/><path d="M73.6 112.2L79.4 106.7L87.0 111.0L81.3 116.7Z" fill="#00d2ff" stroke="none"/><path d="M73.6 112.2L79.4 106.7L87.0 111.0"/><path d="M87.0 111.0L92.8 105.6L100.4 109.6L94.6 115.0Z" fill="#00ddff" stroke="none"/><path d="M87.0 111.0L92.8 105.6L100.4 109.6"/><path d="M100.4 109.6L106.1 104.3L113.7 107.8L108.0 113.1Z" fill="#00eaff" stroke="none"/><path d="M100.4 109.6L106.1 104.3L113.7 107.8"/><path d="M113.7 107.8L119.4 102.8L127.0 105.9L121.3 111.0Z" fill="#00f8ff" stroke="none"/><path d="M113.7 107.8L119.4 102.8L127.0 105.9"/><path d="M127.0 105.9L132.7 101.0L140.2 103.6L134.5 108.6Z" fill="#00fff5" stroke="none"/><path d="M127.0 105.9L132.7 101.0L140.2 103.6"/><path d="M140.2 103.6L145.9 98.9L153.4 101.1L147.7 105.9Z" fill="#00ffe2" stroke="none"/><path d="M140.2 103.6L145.9 98.9L153.4 101.1"/><path d="M153.4 101.1L159.1 96.6L166.6 98.4L160.9 103.0Z" fill="#00ffcd" stroke="none"/><path d="M153.4 101.1L159.1 96.6L166.6 98.4"/><path d="M166.6 98.4L172.3 94.1L179.8 95.4L174.1 99.8Z" fill="#00ffb6" stroke="none"/><path d="M166.6 98.4L172.3 94.1L179.8 95.4"/><path d="M179.8 95.4L185.4 91.3L192.9 92.2L187.2 96.3Z" fill="#00ff9d" stroke="none"/><path d="M179.8 95.4L185.4 91.3L192.9 92.2"/><path d="M192.9 92.2L198.5 88.2L205.9 88.7L200.3 92.7Z" fill="#00ff82" stroke="none"/><path d="M192.9 92.2L198.5 88.2L205.9 88.7"/><path d="M205.9 88.7L211.6 85.0L219.0 85.0L213.4 88.7Z" fill="#00ff65" stroke="none"/><path d="M205.9 88.7L211.6 85.0L219.0 85.0"/><path d="M219.0 85.0L224.6 81.4L232.0 81.0L226.4 84.6Z" fill="#00ff45" stroke="none"/><path d="M219.0 85.0L224.6 81.4L232.0 81.0"/><path d="M232.0 81.0L237.6 77.7L245.0 76.8L239.4 80.2Z" fill="#00ff24" stroke="none"/><path d="M232.0 81.0L237.6 77.7L245.0 76.8"/><path d="M245.0 76.8L250.6 73.6L258.0 72.3L252.4 75.5Z" fill="#00ff01" stroke="none"/><path d="M245.0 76.8L250.6 73.6L258.0 72.3"/><path d="M258.0 72.3L263.5 69.4L270.9 67.7L265.3 70.6Z" fill="#25ff00" stroke="none"/><path d="M258.0 72.3L263.5 69.4L270.9 67.7"/><path d="M270.9 67.7L276.5 64.9L283.8 62.8L278.3 65.5Z" fill="#4cff00" stroke="none"/><path d="M270.9 67.7L276.5 64.9L283.8 62.8L278.3 65.5"/><path d="M67.9 118.1L73.6 112.2L81.3 116.7L75.5 122.6Z" fill="#00a8ff" stroke="none"/><path d="M67.9 118.1L73.6 112.2L81.3 116.7M75.5 122.6L67.9 118.1"/><path d="M81.3 116.7L87.0 111.0L94.6 115.0L88.9 120.8Z" fill="#00b4ff" stroke="none"/><path d="M81.3 116.7L87.0 111.0L94.6 115.0"/><path d="M94.6 115.0L100.4 109.6L108.0 113.1L102.2 118.7Z" fill="#00c2ff" stroke="none"/><path d="M94.6 115.0L100.4 109.6L108.0 113.1"/><path d="M108.0 113.1L113.7 107.8L121.3 111.0L115.6 116.3Z" fill="#00d2ff" stroke="none"/><path d="M108.0 113.1L113.7 107.8L121.3 111.0"/><path d="M121.3 111.0L127.0 105.9L134.5 108.6L128.8 113.7Z" fill="#00e4ff" stroke="none"/><path d="M121.3 111.0L127.0 105.9L134.5 108.6"/><path d="M134.5 108.6L140.2 103.6L147.7 105.9L142.1 110.9Z" fill="#00f8ff" stroke="none"/><path d="M134.5 108.6L140.2 103.6L147.7 105.9"/><path d="M147.7 105.9L153.4 101.1L160.9 103.0L155.3 107.8Z" fill="#00ffef" stroke="none"/><path d="M147.7 105.9L153.4 101.1L160.9 103.0"/><path d="M160.9 103.0L166.6 98.4L174.1 99.8L168.4 104.4Z" fill="#00ffd7" stroke="none"/><path d="M160.9 103.0L166.6 98.4L174.1 99.8"/><path d="M174.1 99.8L179.8 95.4L187.2 96.3L181.6 100.8Z" fill="#00ffbc" stroke="none"/><path d="M174.1 99.8L179.8 95.4L187.2 96.3"/><path d="M187.2 96.3L192.9 92.2L200.3 92.7L194.7 96.9Z" fill="#00ffa0" stroke="none"/><path d="M187.2 96.3L192.9 92.2L200.3 92.7"/><path d="M200.3 92.7L205.9 88.7L213.4 88.7L207.8 92.8Z" fill="#00ff81" stroke="none"/><path d="M200.3 92.7L205.9 88.7L213.4 88.7"/><path d="M213.4 88.7L219.0 85.0L226.4 84.6L220.8 88.4Z" fill="#00ff61" stroke="none"/><path d="M213.4 88.7L219.0 85.0L226.4 84.6"/><path d="M226.4 84.6L232.0 81.0L239.4 80.2L233.8 83.8Z" fill="#00ff3e" stroke="none"/><path d="M226.4 84.6L232.0 81.0L239.4 80.2"/><path d="M239.4 80.2L245.0 76.8L252.4 75.5L246.8 78.9Z" fill="#00ff19" stroke="none"/><path d="M239.4 80.2L245.0 76.8L252.4 75.5"/><path d="M252.4 75.5L258.0 72.3L265.3 70.6L259.8 73.8Z" fill="#0dff00" stroke="none"/><path d="M252.4 75.5L258.0 72.3L265.3 70.6"/><path d="M265.3 70.6L270.9 67.7L278.3 65.5L272.7 68.5Z" fill="#36ff00" stroke="none"/><path d="M265.3 70.6L270.9 67.7L278.3 65.5L272.7 68.5"/><path d="M75.5 122.6L81.3 116.7L88.9 120.8L83.2 126.8Z" fill="#0089ff" stroke="none"/><path d="M75.5 122.6L81.3 116.7L88.9 120.8M83.2 126.8L75.5 122.6"/><path d="M88.9 120.8L94.6 115.0L102.2 118.7L96.5 124.5Z" fill="#0098ff" stroke="none"/><path d="M88.9 120.8L94.6 115.0L102.2 118.7"/><path d="M102.2 118.7L108.0 113.1L115.6 116.3L109.9 122.0Z" fill="#00aaff" stroke="none"/><path d="M102.2 118.7L108.0 113.1L115.6 116.3"/><path d="M115.6 116.3L121.3 111.0L128.8 113.7L123.1 119.2Z" fill="#00beff" stroke="none"/><path d="M115.6 116.3L121.3 111.0L128.8 113.7"/><path d="M128.8 113.7L134.5 108.6L142.1 110.9L136.4 116.1Z" fill="#00d3ff" stroke="none"/><path d="M128.8 113.7L134.5 108.6L142.1 110.9"/><path d="M142.1 110.9L147.7 105.9L155.3 107.8L149.6 112.8Z" fill="#00ebff" stroke="none"/><path d="M142.1 110.9L147.7 105.9L155.3 107.8"/><path d="M155.3 107.8L160.9 103.0L168.4 104.4L162.8 109.3Z" fill="#00fff9" stroke="none"/><path d="M155.3 107.8L160.9 103.0L168.4 104.4"/><path d="M168.4 104.4L174.1 99.8L181.6 100.8L175.9 105.4Z" fill="#00ffdd" stroke="none"/><path d="M168.4 104.4L174.1 99.8L181.6 100.8"/><path d="M181.6 100.8L187.2 96.3L194.7 96.9L189.1 101.3Z" fill="#00ffbf" stroke="none"/><path d="M181.6 100.8L187.2 96.3L194.7 96.9"/><path d="M194.7 96.9L200.3 92.7L207.8 92.8L202.2 97.0Z" fill="#00ffa0" stroke="none"/><path d="M194.7 96.9L200.3 92.7L207.8 92.8"/><path d="M207.8 92.8L213.4 88.7L220.8 88.4L215.2 92.4Z" fill="#00ff7e" stroke="none"/><path d="M207.8 92.8L213.4 88.7L220.8 88.4"/><path d="M220.8 88.4L226.4 84.6L233.8 83.8L228.3 87.6Z" fill="#00ff59" stroke="none"/><path d="M220.8 88.4L226.4 84.6L233.8 83.8"/><path d="M233.8 83.8L239.4 80.2L246.8 78.9L241.3 82.5Z" fill="#00ff33" stroke="none"/><path d="M233.8 83.8L239.4 80.2L246.8 78.9"/><path d="M246.8 78.9L252.4 75.5L259.8 73.8L254.2 77.2Z" fill="#00ff0b" stroke="none"/><path d="M246.8 78.9L252.4 75.5L259.8 73.8"/><path d="M259.8 73.8L265.3 70.6L272.7 68.5L267.2 71.7Z" fill="#1fff00" stroke="none"/><path d="M259.8 73.8L265.3 70.6L272.7 68.5L267.2 71.7"/><path d="M83.2 126.8L88.9 120.8L96.5 124.5L90.8 130.6Z" fill="#006eff" stroke="none"/><path d="M83.2 126.8L88.9 120.8L96.5 124.5M90.8 130.6L83.2 126.8"/><path d="M96.5 124.5L102.2 118.7L109.9 122.0L104.2 127.9Z" fill="#0081ff" stroke="none"/><path d="M96.5 124.5L102.2 118.7L109.9 122.0"/><path d="M109.9 122.0L115.6 116.3L123.1 119.2L117.5 124.9Z" fill="#0096ff" stroke="none"/><path d="M109.9 122.0L115.6 116.3L123.1 119.2"/><path d="M123.1 119.2L128.8 113.7L136.4 116.1L130.7 121.6Z" fill="#00adff" stroke="none"/><path d="M123.1 119.2L128.8 113.7L136.4 116.1"/><path d="M136.4 116.1L142.1 110.9L149.6 112.8L143.9 118.1Z" fill="#00c6ff" stroke="none"/><path d="M136.4 116.1L142.1 110.9L149.6 112.8"/><path d="M149.6 112.8L155.3 107.8L162.8 109.3L157.1 114.4Z" fill="#00e1ff" stroke="none"/><path d="M149.6 112.8L155.3 107.8L162.8 109.3"/><path d="M162.8 109.3L168.4 104.4L175.9 105.4L170.3 110.3Z" fill="#00feff" stroke="none"/><path d="M162.8 109.3L168.4 104.4L175.9 105.4"/><path d="M175.9 105.4L181.6 100.8L189.1 101.3L183.5 106.1Z" fill="#00ffe1" stroke="none"/><path d="M175.9 105.4L181.6 100.8L189.1 101.3"/><path d="M189.1 101.3L194.7 96.9L202.2 97.0L196.6 101.5Z" fill="#00ffbf" stroke="none"/><path d="M189.1 101.3L194.7 96.9L202.2 97.0"/><path d="M202.2 97.0L207.8 92.8L215.2 92.4L209.6 96.7Z" fill="#00ff9c" stroke="none"/><path d="M202.2 97.0L207.8 92.8L215.2 92.4"/><path d="M215.2 92.4L220.8 88.4L228.3 87.6L222.7 91.7Z" fill="#00ff76" stroke="none"/><path d="M215.2 92.4L220.8 88.4L228.3 87.6"/><path d="M228.3 87.6L233.8 83.8L241.3 82.5L235.7 86.4Z" fill="#00ff4f" stroke="none"/><path d="M228.3 87.6L233.8 83.8L241.3 82.5"/><path d="M241.3 82.5L246.8 78.9L254.2 77.2L248.7 80.9Z" fill="#00ff25" stroke="none"/><path d="M241.3 82.5L246.8 78.9L254.2 77.2"/><path d="M254.2 77.2L259.8 73.8L267.2 71.7L261.7 75.1Z" fill="#06ff00" stroke="none"/><path d="M254.2 77.2L259.8 73.8L267.2 71.7L261.7 75.1"/><path d="M90.8 130.6L96.5 124.5L104.2 127.9L98.5 134.0Z" fill="#0055ff" stroke="none"/><path d="M90.8 130.6L96.5 124.5L104.2 127.9M98.5 134.0L90.8 130.6"/><path d="M104.2 127.9L109.9 122.0L117.5 124.9L111.8 130.8Z" fill="#006cff" stroke="none"/><path d="M104.2 127.9L109.9 122.0L117.5 124.9"/><path d="M117.5 124.9L123.1 119.2L130.7 121.6L125.1 127.4Z" fill="#0084ff" stroke="none"/><path d="M117.5 124.9L123.1 119.2L130.7 121.6"/><path d="M130.7 121.6L136.4 116.1L143.9 118.1L138.3 123.7Z" fill="#009fff" stroke="none"/><path d="M130.7 121.6L136.4 116.1L143.9 118.1"/><path d="M143.9 118.1L149.6 112.8L157.1 114.4L151.5 119.7Z" fill="#00bbff" stroke="none"/><path d="M143.9 118.1L149.6 112.8L157.1 114.4"/><path d="M157.1 114.4L162.8 109.3L170.3 110.3L164.7 115.5Z" fill="#00daff" stroke="none"/><path d="M157.1 114.4L162.8 109.3L170.3 110.3"/><path d="M170.3 110.3L175.9 105.4L183.5 106.1L177.8 111.0Z" fill="#00fbff" stroke="none"/><path d="M170.3 110.3L175.9 105.4L183.5 106.1"/><path d="M183.5 106.1L189.1 101.3L196.6 101.5L191.0 106.3Z" fill="#00ffe1" stroke="none"/><path d="M183.5 106.1L189.1 101.3L196.6 101.5"/><path d="M196.6 101.5L202.2 97.0L209.6 96.7L204.0 101.3Z" fill="#00ffbc" stroke="none"/><path d="M196.6 101.5L202.2 97.0L209.6 96.7"/><path d="M209.6 96.7L215.2 92.4L222.7 91.7L217.1 96.0Z" fill="#00ff95" stroke="none"/><path d="M209.6 96.7L215.2 92.4L222.7 91.7"/><path d="M222.7 91.7L228.3 87.6L235.7 86.4L230.1 90.5Z" fill="#00ff6c" stroke="none"/><path d="M222.7 91.7L228.3 87.6L235.7 86.4"/><path d="M235.7 86.4L241.3 82.5L248.7 80.9L243.1 84.8Z" fill="#00ff41" stroke="none"/><path d="M235.7 86.4L241.3 82.5L248.7 80.9"/><path d="M248.7 80.9L254.2 77.2L261.7 75.1L256.1 78.8Z" fill="#00ff14" stroke="none"/><path d="M248.7 80.9L254.2 77.2L261.7 75.1L256.1 78.8"/><path d="M98.5 134.0L104.2 127.9L111.8 130.8L106.1 137.1Z" fill="#0041ff" stroke="none"/><path d="M98.5 134.0L104.2 127.9L111.8 130.8M106.1 137.1L98.5 134.0"/><path d="M111.8 130.8L117.5 124.9L125.1 127.4L119.4 133.4Z" fill="#005bff" stroke="none"/><path d="M111.8 130.8L117.5 124.9L125.1 127.4"/><path d="M125.1 127.4L130.7 121.6L138.3 123.7L132.6 129.5Z" fill="#0076ff" stroke="none"/><path d="M125.1 127.4L130.7 121.6L138.3 123.7"/><path d="M138.3 123.7L143.9 118.1L151.5 119.7L145.9 125.4Z" fill="#0094ff" stroke="none"/><path d="M138.3 123.7L143.9 118.1L151.5 119.7"/><path d="M151.5 119.7L157.1 114.4L164.7 115.5L159.1 120.9Z" fill="#00b4ff" stroke="none"/><path d="M151.5 119.7L157.1 114.4L164.7 115.5"/><path d="M164.7 115.5L170.3 110.3L177.8 111.0L172.2 116.2Z" fill="#00d6ff" stroke="none"/><path d="M164.7 115.5L170.3 110.3L177.8 111.0"/><path d="M177.8 111.0L183.5 106.1L191.0 106.3L185.4 111.3Z" fill="#00fbff" stroke="none"/><path d="M177.8 111.0L183.5 106.1L191.0 106.3"/><path d="M191.0 106.3L196.6 101.5L204.0 101.3L198.5 106.1Z" fill="#00ffdd" stroke="none"/><path d="M191.0 106.3L196.6 101.5L204.0 101.3"/><path d="M204.0 101.3L209.6 96.7L217.1 96.0L211.5 100.6Z" fill="#00ffb5" stroke="none"/><path d="M204.0 101.3L209.6 96.7L217.1 96.0"/><path d="M217.1 96.0L222.7 91.7L230.1 90.5L224.6 94.9Z" fill="#00ff8b" stroke="none"/><path d="M217.1 96.0L222.7 91.7L230.1 90.5"/><path d="M230.1 90.5L235.7 86.4L243.1 84.8L237.6 88.9Z" fill="#00ff5f" stroke="none"/><path d="M230.1 90.5L235.7 86.4L243.1 84.8"/><path d="M243.1 84.8L248.7 80.9L256.1 78.8L250.6 82.7Z" fill="#00ff30" stroke="none"/><path d="M243.1 84.8L248.7 80.9L256.1 78.8L250.6 82.7"/><path d="M106.1 137.1L111.8 130.8L119.4 133.4L113.7 139.7Z" fill="#002fff" stroke="none"/><path d="M106.1 137.1L111.8 130.8L119.4 133.4M113.7 139.7L106.1 137.1"/><path d="M119.4 133.4L125.1 127.4L132.6 129.5L127.0 135.6Z" fill="#004cff" stroke="none"/><path d="M119.4 133.4L125.1 127.4L132.6 129.5"/><path d="M132.6 129.5L138.3 123.7L145.9 125.4L140.2 131.2Z" fill="#006cff" stroke="none"/><path d="M132.6 129.5L138.3 123.7L145.9 125.4"/><path d="M145.9 125.4L151.5 119.7L159.1 120.9L153.4 126.6Z" fill="#008dff" stroke="none"/><path d="M145.9 125.4L151.5 119.7L159.1 120.9"/><path d="M159.1 120.9L164.7 115.5L172.2 116.2L166.6 121.7Z" fill="#00b1ff" stroke="none"/><path d="M159.1 120.9L164.7 115.5L172.2 116.2"/><path d="M172.2 116.2L177.8 111.0L185.4 111.3L179.8 116.5Z" fill="#00d6ff" stroke="none"/><path d="M172.2 116.2L177.8 111.0L185.4 111.3"/><path d="M185.4 111.3L191.0 106.3L198.5 106.1L192.9 111.1Z" fill="#00feff" stroke="none"/><path d="M185.4 111.3L191.0 106.3L198.5 106.1"/><path d="M198.5 106.1L204.0 101.3L211.5 100.6L206.0 105.4Z" fill="#00ffd7" stroke="none"/><path d="M198.5 106.1L204.0 101.3L211.5 100.6"/><path d="M211.5 100.6L217.1 96.0L224.6 94.9L219.0 99.5Z" fill="#00ffab" stroke="none"/><path d="M211.5 100.6L217.1 96.0L224.6 94.9"/><path d="M224.6 94.9L230.1 90.5L237.6 88.9L232.1 93.3Z" fill="#00ff7d" stroke="none"/><path d="M224.6 94.9L230.1 90.5L237.6 88.9"/><path d="M237.6 88.9L243.1 84.8L250.6 82.7L245.1 86.9Z" fill="#00ff4e" stroke="none"/><path d="M237.6 88.9L243.1 84.8L250.6 82.7L245.1 86.9"/><path d="M113.7 139.7L119.4 133.4L127.0 135.6L121.4 142.0Z" fill="#0021ff" stroke="none"/><path d="M113.7 139.7L119.4 133.4L127.0 135.6M121.4 142.0L113.7 139.7"/><path d="M127.0 135.6L132.6 129.5L140.2 131.2L134.6 137.4Z" fill="#0042ff" stroke="none"/><path d="M127.0 135.6L132.6 129.5L140.2 131.2"/><path d="M140.2 131.2L145.9 125.4L153.4 126.6L147.8 132.6Z" fill="#0065ff" stroke="none"/><path d="M140.2 131.2L145.9 125.4L153.4 126.6"/><path d="M153.4 126.6L159.1 120.9L166.6 121.7L161.0 127.5Z" fill="#0089ff" stroke="none"/><path d="M153.4 126.6L159.1 120.9L166.6 121.7"/><path d="M166.6 121.7L172.2 116.2L179.8 116.5L174.2 122.1Z" fill="#00b0ff" stroke="none"/><path d="M166.6 121.7L172.2 116.2L179.8 116.5"/><path d="M179.8 116.5L185.4 111.3L192.9 111.1L187.3 116.4Z" fill="#00d9ff" stroke="none"/><path d="M179.8 116.5L185.4 111.3L192.9 111.1"/><path d="M192.9 111.1L198.5 106.1L206.0 105.4L200.4 110.5Z" fill="#00fffa" stroke="none"/><path d="M192.9 111.1L198.5 106.1L206.0 105.4"/><path d="M206.0 105.4L211.5 100.6L219.0 99.5L213.5 104.4Z" fill="#00ffcd" stroke="none"/><path d="M206.0 105.4L211.5 100.6L219.0 99.5"/><path d="M219.0 99.5L224.6 94.9L232.1 93.3L226.5 98.0Z" fill="#00ff9e" stroke="none"/><path d="M219.0 99.5L224.6 94.9L232.1 93.3"/><path d="M232.1 93.3L237.6 88.9L245.1 86.9L239.5 91.3Z" fill="#00ff6d" stroke="none"/><path d="M232.1 93.3L237.6 88.9L245.1 86.9L239.5 91.3"/><path d="M121.4 142.0L127.0 135.6L134.6 137.4L129.0 143.8Z" fill="#0016ff" stroke="none"/><path d="M121.4 142.0L127.0 135.6L134.6 137.4M129.0 143.8L121.4 142.0"/><path d="M134.6 137.4L140.2 131.2L147.8 132.6L142.2 138.8Z" fill="#003aff" stroke="none"/><path d="M134.6 137.4L140.2 131.2L147.8 132.6"/><path d="M147.8 132.6L153.4 126.6L161.0 127.5L155.4 133.5Z" fill="#0061ff" stroke="none"/><path d="M147.8 132.6L153.4 126.6L161.0 127.5"/><path d="M161.0 127.5L166.6 121.7L174.2 122.1L168.6 127.9Z" fill="#0089ff" stroke="none"/><path d="M161.0 127.5L166.6 121.7L174.2 122.1"/><path d="M174.2 122.1L179.8 116.5L187.3 116.4L181.7 122.0Z" fill="#00b3ff" stroke="none"/><path d="M174.2 122.1L179.8 116.5L187.3 116.4"/><path d="M187.3 116.4L192.9 111.1L200.4 110.5L194.8 115.9Z" fill="#00dfff" stroke="none"/><path d="M187.3 116.4L192.9 111.1L200.4 110.5"/><path d="M200.4 110.5L206.0 105.4L213.5 104.4L207.9 109.5Z" fill="#00fff0" stroke="none"/><path d="M200.4 110.5L206.0 105.4L213.5 104.4"/><path d="M213.5 104.4L219.0 99.5L226.5 98.0L221.0 102.9Z" fill="#00ffc0" stroke="none"/><path d="M213.5 104.4L219.0 99.5L226.5 98.0"/><path d="M226.5 98.0L232.1 93.3L239.5 91.3L234.0 96.0Z" fill="#00ff8d" stroke="none"/><path d="M226.5 98.0L232.1 93.3L239.5 91.3L234.0 96.0"/><path d="M129.0 143.8L134.6 137.4L142.2 138.8L136.6 145.3Z" fill="#000fff" stroke="none"/><path d="M129.0 143.8L134.6 137.4L142.2 138.8M136.6 145.3L129.0 143.8"/><path d="M142.2 138.8L147.8 132.6L155.4 133.5L149.8 139.7Z" fill="#0036ff" stroke="none"/><path d="M142.2 138.8L147.8 132.6L155.4 133.5"/><path d="M155.4 133.5L161.0 127.5L168.6 127.9L163.0 133.9Z" fill="#0060ff" stroke="none"/><path d="M155.4 133.5L161.0 127.5L168.6 127.9"/><path d="M168.6 127.9L174.2 122.1L181.7 122.0L176.2 127.9Z" fill="#008bff" stroke="none"/><path d="M168.6 127.9L174.2 122.1L181.7 122.0"/><path d="M181.7 122.0L187.3 116.4L194.8 115.9L189.3 121.5Z" fill="#00b9ff" stroke="none"/><path d="M181.7 122.0L187.3 116.4L194.8 115.9"/><path d="M194.8 115.9L200.4 110.5L207.9 109.5L202.4 114.9Z" fill="#00e9ff" stroke="none"/><path d="M194.8 115.9L200.4 110.5L207.9 109.5"/><path d="M207.9 109.5L213.5 104.4L221.0 102.9L215.5 108.1Z" fill="#00ffe3" stroke="none"/><path d="M207.9 109.5L213.5 104.4L221.0 102.9"/><path d="M221.0 102.9L226.5 98.0L234.0 96.0L228.5 100.9Z" fill="#00ffaf" stroke="none"/><path d="M221.0 102.9L226.5 98.0L234.0 96.0L228.5 100.9"/><path d="M136.6 145.3L142.2 138.8L149.8 139.7L144.2 146.3Z" fill="#000aff" stroke="none"/><path d="M136.6 145.3L142.2 138.8L149.8 139.7M144.2 146.3L136.6 145.3"/><path d="M149.8 139.7L155.4 133.5L163.0 133.9L157.4 140.3Z" fill="#0035ff" stroke="none"/><path d="M149.8 139.7L155.4 133.5L163.0 133.9"/><path d="M163.0 133.9L168.6 127.9L176.2 127.9L170.6 134.0Z" fill="#0062ff" stroke="none"/><path d="M163.0 133.9L168.6 127.9L176.2 127.9"/><path d="M176.2 127.9L181.7 122.0L189.3 121.5L183.7 127.4Z" fill="#0092ff" stroke="none"/><path d="M176.2 127.9L181.7 122.0L189.3 121.5"/><path d="M189.3 121.5L194.8 115.9L202.4 114.9L196.8 120.6Z" fill="#00c3ff" stroke="none"/><path d="M189.3 121.5L194.8 115.9L202.4 114.9"/><path d="M202.4 114.9L207.9 109.5L215.5 108.1L209.9 113.5Z" fill="#00f6ff" stroke="none"/><path d="M202.4 114.9L207.9 109.5L215.5 108.1"/><path d="M215.5 108.1L221.0 102.9L228.5 100.9L223.0 106.1Z" fill="#00ffd3" stroke="none"/><path d="M215.5 108.1L221.0 102.9L228.5 100.9L223.0 106.1"/><path d="M144.2 146.3L149.8 139.7L157.4 140.3L151.9 146.9Z" fill="#0009ff" stroke="none"/><path d="M144.2 146.3L149.8 139.7L157.4 140.3M151.9 146.9L144.2 146.3"/><path d="M157.4 140.3L163.0 133.9L170.6 134.0L165.0 140.4Z" fill="#0038ff" stroke="none"/><path d="M157.4 140.3L163.0 133.9L170.6 134.0"/><path d="M170.6 134.0L176.2 127.9L183.7 127.4L178.2 133.6Z" fill="#0068ff" stroke="none"/><path d="M170.6 134.0L176.2 127.9L183.7 127.4"/><path d="M183.7 127.4L189.3 121.5L196.8 120.6L191.3 126.5Z" fill="#009bff" stroke="none"/><path d="M183.7 127.4L189.3 121.5L196.8 120.6"/><path d="M196.8 120.6L202.4 114.9L209.9 113.5L204.4 119.2Z" fill="#00cfff" stroke="none"/><path d="M196.8 120.6L202.4 114.9L209.9 113.5"/><path d="M209.9 113.5L215.5 108.1L223.0 106.1L217.5 111.6Z" fill="#00fff8" stroke="none"/><path d="M209.9 113.5L215.5 108.1L223.0 106.1L217.5 111.6"/><path d="M151.9 146.9L157.4 140.3L165.0 140.4L159.5 147.1Z" fill="#000bff" stroke="none"/><path d="M151.9 146.9L157.4 140.3L165.0 140.4M159.5 147.1L151.9 146.9"/><path d="M165.0 140.4L170.6 134.0L178.2 133.6L172.6 140.0Z" fill="#003dff" stroke="none"/><path d="M165.0 140.4L170.6 134.0L178.2 133.6"/><path d="M178.2 133.6L183.7 127.4L191.3 126.5L185.8 132.7Z" fill="#0071ff" stroke="none"/><path d="M178.2 133.6L183.7 127.4L191.3 126.5"/><path d="M191.3 126.5L196.8 120.6L204.4 119.2L198.9 125.2Z" fill="#00a7ff" stroke="none"/><path d="M191.3 126.5L196.8 120.6L204.4 119.2"/><path d="M204.4 119.2L209.9 113.5L217.5 111.6L212.0 117.3Z" fill="#00e0ff" stroke="none"/><path d="M204.4 119.2L209.9 113.5L217.5 111.6L212.0 117.3"/><path d="M159.5 147.1L165.0 140.4L172.6 140.0L167.1 146.8Z" fill="#0011ff" stroke="none"/><path d="M159.5 147.1L165.0 140.4L172.6 140.0M167.1 146.8L159.5 147.1"/><path d="M172.6 140.0L178.2 133.6L185.8 132.7L180.3 139.2Z" fill="#0046ff" stroke="none"/><path d="M172.6 140.0L178.2 133.6L185.8 132.7"/><path d="M185.8 132.7L191.3 126.5L198.9 125.2L193.4 131.4Z" fill="#007eff" stroke="none"/><path d="M185.8 132.7L191.3 126.5L198.9 125.2"/><path d="M198.9 125.2L204.4 119.2L212.0 117.3L206.5 123.4Z" fill="#00b7ff" stroke="none"/><path d="M198.9 125.2L204.4 119.2L212.0 117.3L206.5 123.4"/><path d="M167.1 146.8L172.6 140.0L180.3 139.2L174.7 146.0Z" fill="#001aff" stroke="none"/><path d="M167.1 146.8L172.6 140.0L180.3 139.2M174.7 146.0L167.1 146.8"/><path d="M180.3 139.2L185.8 132.7L193.4 131.4L187.9 138.0Z" fill="#0053ff" stroke="none"/><path d="M180.3 139.2L185.8 132.7L193.4 131.4"/><path d="M193.4 131.4L198.9 125.2L206.5 123.4L201.0 129.7Z" fill="#008eff" stroke="none"/><path d="M193.4 131.4L198.9 125.2L206.5 123.4L201.0 129.7"/><path d="M174.7 146.0L180.3 139.2L187.9 138.0L182.4 144.8Z" fill="#0026ff" stroke="none"/><path d="M174.7 146.0L180.3 139.2L187.9 138.0M182.4 144.8L174.7 146.0"/><path d="M187.9 138.0L193.4 131.4L201.0 129.7L195.5 136.3Z" fill="#0062ff" stroke="none"/><path d="M187.9 138.0L193.4 131.4L201.0 129.7L195.5 136.3"/><path d="M182.4 144.8L187.9 138.0L195.5 136.3L190.0 143.1Z" fill="#0036ff" stroke="none"/><path d="M182.4 144.8L187.9 138.0L195.5 136.3L190.0 143.1Z"/></g>
<circle cx="98.6" cy="39.5" r="3.0" fill="#c00008" stroke="#5a0a0a" stroke-width="0.6"/>
<circle cx="159.0" cy="16.9" r="3.0" fill="#c00008" stroke="#5a0a0a" stroke-width="0.6"/>
<circle cx="311.6" cy="48.5" r="3.0" fill="#c00008" stroke="#5a0a0a" stroke-width="0.6"/>
<circle cx="190.0" cy="145.5" r="3.0" fill="#ffd6d6" stroke="#3a2020" stroke-width="0.7"/>
<circle cx="29.7" cy="92.3" r="3.0" fill="#c00008" stroke="#5a0a0a" stroke-width="0.6"/>
<circle cx="158.5" cy="75.0" r="2.5" fill="#c00008" stroke="#5a0a0a" stroke-width="0.6"/>
<circle cx="158.5" cy="71.3" r="2.5" fill="#c00008" stroke="#5a0a0a" stroke-width="0.6"/>
<circle cx="158.5" cy="66.6" r="2.6" fill="#c00008" stroke="#5a0a0a" stroke-width="0.6"/>
<line x1="206.5" y1="68.0" x2="206.5" y2="80.5" stroke="#2a2a2a" stroke-width="1"/>
<circle cx="206.5" cy="68.2" r="3.0" fill="#c00008" stroke="#5a0a0a" stroke-width="0.6"/>
<circle cx="255.3" cy="78.5" r="3.0" fill="#c00008" stroke="#5a0a0a" stroke-width="0.6"/>
<circle cx="140.0" cy="141.1" r="3.0" fill="#c00008" stroke="#5a0a0a" stroke-width="0.6"/>
<text x="1.2" y="9.8" style="font-family:'Liberation Serif',serif" font-weight="bold" font-size="13.3" fill="#000">A</text>
<text x="25.6" y="6.5" font-size="6.9" text-anchor="end" fill="#222" >26</text>
<text x="25.6" y="37.4" font-size="6.9" text-anchor="end" fill="#222" >24</text>
<text x="25.6" y="68.6" font-size="6.9" text-anchor="end" fill="#222" >22</text>
<text x="25.6" y="99.6" font-size="6.9" text-anchor="end" fill="#222" >20</text>
<text x="25.6" y="130.0" font-size="6.9" text-anchor="end" fill="#222" >18</text>
<text x="25.6" y="160.9" font-size="6.9" text-anchor="end" fill="#222" >16</text>
<text transform="translate(6.5,112.0) rotate(-90)" font-size="6.6" text-anchor="middle" fill="#222" textLength="52.5" lengthAdjust="spacingAndGlyphs">TPC (mg GAE/g)</text>
<text x="23.6" y="221.2" font-size="6.9" text-anchor="middle" fill="#222" >60</text>
<text x="46.0" y="224.9" font-size="6.9" text-anchor="middle" fill="#222" >52</text>
<text x="67.9" y="228.1" font-size="6.9" text-anchor="middle" fill="#222" >44</text>
<text x="90.5" y="231.9" font-size="6.9" text-anchor="middle" fill="#222" >36</text>
<text x="113.7" y="235.6" font-size="6.9" text-anchor="middle" fill="#222" >28</text>
<text x="136.6" y="239.4" font-size="6.9" text-anchor="middle" fill="#222" >20</text>
<text x="159.7" y="242.6" font-size="6.9" text-anchor="middle" fill="#222" >12</text>
<text x="29.0" y="243.1" font-size="6.6" text-anchor="start" fill="#222" textLength="61.5" lengthAdjust="spacingAndGlyphs" >B: Temperature (°C)</text>
<text x="229.6" y="239.4" font-size="6.9" text-anchor="middle" fill="#222" >360</text>
<text x="259.8" y="231.2" font-size="6.9" text-anchor="middle" fill="#222" >720</text>
<text x="291.7" y="223.6" font-size="6.9" text-anchor="middle" fill="#222" >1080</text>
<text x="321.9" y="216.5" font-size="6.9" text-anchor="middle" fill="#222" >1440</text>
<text x="288.0" y="238.1" font-size="6.6" text-anchor="start" fill="#222" textLength="41.0" lengthAdjust="spacingAndGlyphs" >A: Time (min)</text>
<clipPath id="cutA"><rect x="170" y="236" width="40" height="7.4"/></clipPath>
<g clip-path="url(#cutA)"><text x="183.0" y="247.2" font-size="6.9" text-anchor="middle" fill="#222" >4</text><text x="196.3" y="247.2" font-size="6.9" text-anchor="middle" fill="#222" >0</text></g>
<g><line x1="382.80" y1="213.50" x2="380.30" y2="11.10" stroke="#161616" stroke-width="1.00"/><line x1="417.38" y1="159.70" x2="415.98" y2="11.65" stroke="#161616" stroke-width="1.00"/><line x1="452.59" y1="156.11" x2="451.65" y2="12.20" stroke="#161616" stroke-width="1.00"/><line x1="487.79" y1="152.52" x2="487.32" y2="12.75" stroke="#161616" stroke-width="1.00"/><line x1="523.00" y1="193.70" x2="523.00" y2="13.30" stroke="#161616" stroke-width="1.00"/><line x1="551.13" y1="151.78" x2="551.30" y2="12.86" stroke="#161616" stroke-width="1.00"/><line x1="579.27" y1="154.62" x2="579.60" y2="12.42" stroke="#161616" stroke-width="1.00"/><line x1="607.40" y1="157.45" x2="607.90" y2="11.98" stroke="#161616" stroke-width="1.00"/><line x1="635.54" y1="160.29" x2="636.20" y2="11.54" stroke="#161616" stroke-width="1.00"/><line x1="663.40" y1="213.30" x2="664.50" y2="11.10" stroke="#161616" stroke-width="1.00"/><line x1="382.18" y1="163.28" x2="523.00" y2="148.94" stroke="#161616" stroke-width="1.00"/><line x1="523.00" y1="148.94" x2="663.67" y2="163.13" stroke="#161616" stroke-width="1.00"/><line x1="381.71" y1="125.24" x2="523.00" y2="115.03" stroke="#161616" stroke-width="1.00"/><line x1="523.00" y1="115.03" x2="663.88" y2="125.12" stroke="#161616" stroke-width="1.00"/><line x1="381.24" y1="87.19" x2="523.00" y2="81.12" stroke="#161616" stroke-width="1.00"/><line x1="523.00" y1="81.12" x2="664.09" y2="87.12" stroke="#161616" stroke-width="1.00"/><line x1="380.77" y1="49.15" x2="523.00" y2="47.21" stroke="#161616" stroke-width="1.00"/><line x1="523.00" y1="47.21" x2="664.29" y2="49.11" stroke="#161616" stroke-width="1.00"/><line x1="380.30" y1="11.10" x2="523.00" y2="13.30" stroke="#161616" stroke-width="1.00"/><line x1="523.00" y1="13.30" x2="664.50" y2="11.10" stroke="#161616" stroke-width="1.00"/></g>
<polygon points="382.80,213.50 523.00,193.70 663.40,213.30 522.90,241.70" fill="#5f5f5f" stroke="#222" stroke-width="0.7"/>
<polyline points="547.30,236.77 544.03,236.51 543.86,236.50 540.71,236.26 537.35,236.02 536.13,235.93 533.93,235.79 530.46,235.56 528.96,235.47 526.93,235.34 523.33,235.14 522.25,235.08 519.66,234.94 515.95,234.76 515.92,234.76 512.09,234.59 510.00,234.51 508.17,234.44 504.37,234.31 504.15,234.30 500.02,234.18 499.00,234.15 495.77,234.08 493.87,234.04 491.38,234.00 488.96,233.96 486.84,233.94 484.24,233.92" fill="none" stroke="#00dcff" stroke-width="1.50" stroke-linecap="round"/>
<polyline points="571.29,231.92 568.57,231.58 565.83,231.23 563.08,230.90 560.81,230.62 560.31,230.56 557.51,230.23 554.69,229.90 551.85,229.58 548.98,229.26 547.52,229.10 546.08,228.94 543.15,228.63 540.18,228.32 537.18,228.02 536.46,227.95 534.13,227.73 531.04,227.45 527.90,227.17 527.01,227.09 524.70,226.90 521.44,226.64 518.77,226.44 518.11,226.39 514.71,226.15 511.46,225.95 511.22,225.93 507.63,225.72 504.88,225.58 503.93,225.53 500.10,225.36 498.89,225.31 496.13,225.22 493.37,225.13 491.99,225.10 488.23,225.02 487.65,225.01 483.42,224.96 483.07,224.95 478.89,224.94 478.22,224.94 474.58,224.97 473.02,224.99 470.47,225.03 467.41,225.10 466.54,225.12 462.75,225.24 461.28,225.29 459.09,225.38 455.54,225.54 454.49,225.59 452.10,225.71 448.74,225.91 446.81,226.03 445.47,226.11" fill="none" stroke="#00ff95" stroke-width="1.50" stroke-linecap="round"/>
<polyline points="505.14,196.22 507.36,196.12 510.75,195.94 512.69,195.83 514.05,195.75 517.27,195.54 520.43,195.32 521.37,195.26 523.54,195.10 526.58,194.86 529.58,194.62" fill="none" stroke="#00ff95" stroke-width="1.50" stroke-linecap="round"/>
<polyline points="425.29,207.50 425.52,207.68 426.03,208.15 426.39,208.60 426.54,208.84 426.72,209.43 426.74,209.58 426.64,210.18 426.57,210.38 426.24,210.89 425.92,211.25 425.59,211.54 424.73,212.17 424.65,212.22 423.71,212.76 422.57,213.31 422.54,213.33 421.26,213.88 419.88,214.41 419.41,214.58 418.42,214.93 416.88,215.43 415.28,215.93 414.77,216.08 413.63,216.41 411.92,216.89 410.18,217.36 408.39,217.83 408.07,217.91 406.57,218.29" fill="none" stroke="#00ff08" stroke-width="1.50" stroke-linecap="round"/>
<polyline points="562.92,199.27 560.99,199.70 559.07,200.13 557.18,200.57 555.31,201.01 553.64,201.41 553.48,201.45 551.67,201.90 549.90,202.36 548.16,202.82 546.62,203.25 546.48,203.29 544.84,203.77 543.26,204.27 541.75,204.77 541.74,204.77 540.30,205.28 538.95,205.81 538.41,206.04 537.71,206.36 536.59,206.93 536.21,207.15 535.61,207.53 534.86,208.12 534.82,208.16 534.24,208.82 534.13,209.00 533.94,209.53 533.91,209.80 533.98,210.31 534.06,210.54 534.47,211.16 534.53,211.23 535.25,211.89 535.55,212.11 536.16,212.51 537.25,213.11 537.44,213.20 538.48,213.68 539.82,214.24 540.48,214.49 541.27,214.78 542.80,215.31 544.41,215.83 545.23,216.08 546.08,216.33 547.81,216.83 549.59,217.32 551.41,217.81 552.69,218.13 553.27,218.28 555.17,218.76 557.10,219.22 559.06,219.68 561.04,220.14 563.04,220.60 564.83,221.00 565.07,221.05 567.11,221.50 569.18,221.95 571.25,222.39 573.35,222.83 575.45,223.27 577.57,223.71 579.70,224.14 581.84,224.58 583.99,225.01 586.15,225.44 586.29,225.47 588.32,225.87 590.50,226.30 592.68,226.73 594.87,227.15" fill="none" stroke="#00ff08" stroke-width="1.50" stroke-linecap="round"/>
<polyline points="596.34,203.94 595.47,204.55 595.44,204.58 594.70,205.18 594.34,205.51 594.03,205.82 593.54,206.39 593.46,206.49 593.03,207.18 592.99,207.24 592.73,207.89 592.68,208.05 592.58,208.62 592.57,208.83 592.61,209.39 592.65,209.58 592.84,210.20 592.89,210.31 593.27,211.01 593.29,211.04 593.79,211.69 594.00,211.92 594.43,212.36 595.00,212.86 595.18,213.01 596.03,213.64 596.34,213.85 596.96,214.26 597.98,214.86 598.08,214.92 599.08,215.46 600.24,216.04 600.28,216.06 601.47,216.62 602.76,217.18 603.04,217.30 604.10,217.74 605.49,218.29 606.46,218.66 606.93,218.83 608.42,219.37 609.94,219.90 610.69,220.15 611.50,220.42 613.09,220.94 614.72,221.45 615.91,221.82 616.38,221.96 618.07,222.46" fill="none" stroke="#85ff00" stroke-width="1.50" stroke-linecap="round"/>
<polyline points="629.83,208.61 629.88,208.87 630.04,209.41 630.11,209.60 630.42,210.24 630.45,210.30 630.90,211.00 630.97,211.10 631.44,211.68 631.73,211.99 632.07,212.34 632.70,212.92 632.79,212.99 633.58,213.63 633.93,213.89 634.45,214.26 635.38,214.88 635.43,214.91 636.37,215.49 637.24,215.99 637.43,216.09 638.54,216.69 639.41,217.13 639.70,217.27 640.91,217.85" fill="none" stroke="#ffec00" stroke-width="1.50" stroke-linecap="round"/>
<g fill="#111"><circle cx="382.80" cy="213.50" r="1.3"/><circle cx="410.82" cy="219.14" r="1.3"/><circle cx="438.84" cy="224.78" r="1.3"/><circle cx="466.86" cy="230.42" r="1.3"/><circle cx="494.88" cy="236.06" r="1.3"/><circle cx="522.90" cy="241.70" r="1.3"/><circle cx="522.90" cy="241.70" r="1.3"/><circle cx="558.02" cy="234.60" r="1.3"/><circle cx="593.15" cy="227.50" r="1.3"/><circle cx="628.27" cy="220.40" r="1.3"/><circle cx="663.40" cy="213.30" r="1.3"/><circle cx="382.18" cy="163.28" r="1.3"/><circle cx="381.71" cy="125.24" r="1.3"/><circle cx="381.24" cy="87.19" r="1.3"/><circle cx="380.77" cy="49.15" r="1.3"/><circle cx="380.30" cy="11.10" r="1.3"/></g>
<line x1="424.5" y1="112.0" x2="424.5" y2="146.6" stroke="#2a2a2a" stroke-width="1"/>
<circle cx="424.3" cy="146.6" r="3.0" fill="#ffd6d6" stroke="#3a2020" stroke-width="0.7"/>
<line x1="499.5" y1="150.0" x2="499.5" y2="158.2" stroke="#2a2a2a" stroke-width="1"/>
<circle cx="499.0" cy="158.2" r="3.0" fill="#ffd6d6" stroke="#3a2020" stroke-width="0.7"/>
<line x1="561.5" y1="140.0" x2="561.5" y2="153.2" stroke="#2a2a2a" stroke-width="1"/>
<circle cx="561.8" cy="153.2" r="3.0" fill="#ffd6d6" stroke="#3a2020" stroke-width="0.7"/>
<line x1="523.5" y1="169.0" x2="523.5" y2="175.0" stroke="#2a2a2a" stroke-width="1"/>
<circle cx="523.0" cy="175.0" r="3.0" fill="#ffd6d6" stroke="#3a2020" stroke-width="0.7"/>
<line x1="463.5" y1="90.0" x2="463.5" y2="106.0" stroke="#2a2a2a" stroke-width="1"/>
<line x1="534.5" y1="92.0" x2="534.5" y2="104.0" stroke="#2a2a2a" stroke-width="1"/>
<g fill="none" stroke="#000" stroke-width="0.68" stroke-linejoin="round" stroke-linecap="round"><path d="M516.3 112.4L523.0 112.9L529.4 110.7L522.7 110.4Z" fill="#00ff9f" stroke="none"/><path d="M516.3 112.4L523.0 112.9L529.4 110.7"/><path d="M522.7 110.4L529.4 110.7L535.8 108.4L529.1 108.3Z" fill="#00ff85" stroke="none"/><path d="M522.7 110.4L529.4 110.7L535.8 108.4"/><path d="M509.5 111.8L516.3 112.4L522.7 110.4L515.9 110.0Z" fill="#00ff96" stroke="none"/><path d="M509.5 111.8L516.3 112.4L522.7 110.4"/><path d="M529.1 108.3L535.8 108.4L542.2 106.1L535.5 106.3Z" fill="#00ff6b" stroke="none"/><path d="M529.1 108.3L535.8 108.4L542.2 106.1"/><path d="M515.9 110.0L522.7 110.4L529.1 108.3L522.3 108.2Z" fill="#00ff7e" stroke="none"/><path d="M515.9 110.0L522.7 110.4L529.1 108.3"/><path d="M502.8 111.2L509.5 111.8L515.9 110.0L509.2 109.7Z" fill="#00ff8c" stroke="none"/><path d="M502.8 111.2L509.5 111.8L515.9 110.0"/><path d="M535.5 106.3L542.2 106.1L548.6 103.8L541.9 104.2Z" fill="#00ff51" stroke="none"/><path d="M535.5 106.3L542.2 106.1L548.6 103.8"/><path d="M522.3 108.2L529.1 108.3L535.5 106.3L528.7 106.4Z" fill="#00ff67" stroke="none"/><path d="M522.3 108.2L529.1 108.3L535.5 106.3"/><path d="M509.2 109.7L515.9 110.0L522.3 108.2L515.6 108.1Z" fill="#00ff77" stroke="none"/><path d="M509.2 109.7L515.9 110.0L522.3 108.2"/><path d="M496.1 110.6L502.8 111.2L509.2 109.7L502.5 109.3Z" fill="#00ff83" stroke="none"/><path d="M496.1 110.6L502.8 111.2L509.2 109.7"/><path d="M541.9 104.2L548.6 103.8L555.0 101.5L548.3 102.1Z" fill="#00ff38" stroke="none"/><path d="M541.9 104.2L548.6 103.8L555.0 101.5"/><path d="M528.7 106.4L535.5 106.3L541.9 104.2L535.2 104.6Z" fill="#00ff4f" stroke="none"/><path d="M528.7 106.4L535.5 106.3L541.9 104.2"/><path d="M515.6 108.1L522.3 108.2L528.7 106.4L522.0 106.5Z" fill="#00ff62" stroke="none"/><path d="M515.6 108.1L522.3 108.2L528.7 106.4"/><path d="M502.5 109.3L509.2 109.7L515.6 108.1L508.9 107.9Z" fill="#00ff70" stroke="none"/><path d="M502.5 109.3L509.2 109.7L515.6 108.1"/><path d="M489.3 109.9L496.1 110.6L502.5 109.3L495.7 108.8Z" fill="#00ff79" stroke="none"/><path d="M489.3 109.9L496.1 110.6L502.5 109.3"/><path d="M548.3 102.1L555.0 101.5L561.5 99.1L554.7 100.0Z" fill="#00ff1e" stroke="none"/><path d="M548.3 102.1L555.0 101.5L561.5 99.1"/><path d="M535.2 104.6L541.9 104.2L548.3 102.1L541.6 102.7Z" fill="#00ff38" stroke="none"/><path d="M535.2 104.6L541.9 104.2L548.3 102.1"/><path d="M522.0 106.5L528.7 106.4L535.2 104.6L528.4 104.9Z" fill="#00ff4d" stroke="none"/><path d="M522.0 106.5L528.7 106.4L535.2 104.6"/><path d="M508.9 107.9L515.6 108.1L522.0 106.5L515.3 106.6Z" fill="#00ff5e" stroke="none"/><path d="M508.9 107.9L515.6 108.1L522.0 106.5"/><path d="M495.7 108.8L502.5 109.3L508.9 107.9L502.1 107.8Z" fill="#00ff69" stroke="none"/><path d="M495.7 108.8L502.5 109.3L508.9 107.9"/><path d="M482.6 109.2L489.3 109.9L495.7 108.8L489.0 108.4Z" fill="#00ff6f" stroke="none"/><path d="M482.6 109.2L489.3 109.9L495.7 108.8"/><path d="M554.7 100.0L561.5 99.1L567.9 96.8L561.1 97.9Z" fill="#00ff04" stroke="none"/><path d="M554.7 100.0L561.5 99.1L567.9 96.8"/><path d="M541.6 102.7L548.3 102.1L554.7 100.0L548.0 100.9Z" fill="#00ff21" stroke="none"/><path d="M541.6 102.7L548.3 102.1L554.7 100.0"/><path d="M528.4 104.9L535.2 104.6L541.6 102.7L534.8 103.3Z" fill="#00ff38" stroke="none"/><path d="M528.4 104.9L535.2 104.6L541.6 102.7"/><path d="M515.3 106.6L522.0 106.5L528.4 104.9L521.7 105.3Z" fill="#00ff4b" stroke="none"/><path d="M515.3 106.6L522.0 106.5L528.4 104.9"/><path d="M502.1 107.8L508.9 107.9L515.3 106.6L508.5 106.7Z" fill="#00ff59" stroke="none"/><path d="M502.1 107.8L508.9 107.9L515.3 106.6"/><path d="M489.0 108.4L495.7 108.8L502.1 107.8L495.4 107.6Z" fill="#00ff61" stroke="none"/><path d="M489.0 108.4L495.7 108.8L502.1 107.8"/><path d="M475.9 108.5L482.6 109.2L489.0 108.4L482.3 107.9Z" fill="#00ff65" stroke="none"/><path d="M475.9 108.5L482.6 109.2L489.0 108.4"/><path d="M561.1 97.9L567.9 96.8L574.3 94.3L567.5 95.7Z" fill="#16ff00" stroke="none"/><path d="M561.1 97.9L567.9 96.8L574.3 94.3" stroke-width="0.63"/><path d="M548.0 100.9L554.7 100.0L561.1 97.9L554.4 99.0Z" fill="#00ff09" stroke="none"/><path d="M548.0 100.9L554.7 100.0L561.1 97.9" stroke-width="0.62"/><path d="M534.8 103.3L541.6 102.7L548.0 100.9L541.2 101.7Z" fill="#00ff23" stroke="none"/><path d="M534.8 103.3L541.6 102.7L548.0 100.9" stroke-width="0.61"/><path d="M521.7 105.3L528.4 104.9L534.8 103.3L528.1 103.9Z" fill="#00ff38" stroke="none"/><path d="M521.7 105.3L528.4 104.9L534.8 103.3" stroke-width="0.61"/><path d="M508.5 106.7L515.3 106.6L521.7 105.3L514.9 105.6Z" fill="#00ff48" stroke="none"/><path d="M508.5 106.7L515.3 106.6L521.7 105.3" stroke-width="0.60"/><path d="M495.4 107.6L502.1 107.8L508.5 106.7L501.8 106.7Z" fill="#00ff53" stroke="none"/><path d="M495.4 107.6L502.1 107.8L508.5 106.7" stroke-width="0.60"/><path d="M482.3 107.9L489.0 108.4L495.4 107.6L488.7 107.3Z" fill="#00ff5a" stroke="none"/><path d="M482.3 107.9L489.0 108.4L495.4 107.6" stroke-width="0.60"/><path d="M469.1 107.7L475.9 108.5L482.3 107.9L475.5 107.4Z" fill="#00ff5b" stroke="none"/><path d="M469.1 107.7L475.9 108.5L482.3 107.9" stroke-width="0.60"/><path d="M567.5 95.7L574.3 94.3L580.7 91.9L573.9 93.5Z" fill="#30ff00" stroke="none"/><path d="M567.5 95.7L574.3 94.3L580.7 91.9" stroke-width="0.57"/><path d="M554.4 99.0L561.1 97.9L567.5 95.7L560.8 97.0Z" fill="#0eff00" stroke="none"/><path d="M554.4 99.0L561.1 97.9L567.5 95.7" stroke-width="0.56"/><path d="M541.2 101.7L548.0 100.9L554.4 99.0L547.6 100.0Z" fill="#00ff0e" stroke="none"/><path d="M541.2 101.7L548.0 100.9L554.4 99.0" stroke-width="0.55"/><path d="M528.1 103.9L534.8 103.3L541.2 101.7L534.5 102.5Z" fill="#00ff26" stroke="none"/><path d="M528.1 103.9L534.8 103.3L541.2 101.7" stroke-width="0.54"/><path d="M514.9 105.6L521.7 105.3L528.1 103.9L521.3 104.5Z" fill="#00ff38" stroke="none"/><path d="M514.9 105.6L521.7 105.3L528.1 103.9" stroke-width="0.54"/><path d="M501.8 106.7L508.5 106.7L514.9 105.6L508.2 105.9Z" fill="#00ff45" stroke="none"/><path d="M501.8 106.7L508.5 106.7L514.9 105.6" stroke-width="0.54"/><path d="M488.7 107.3L495.4 107.6L501.8 106.7L495.1 106.7Z" fill="#00ff4e" stroke="none"/><path d="M488.7 107.3L495.4 107.6L501.8 106.7" stroke-width="0.53"/><path d="M475.5 107.4L482.3 107.9L488.7 107.3L481.9 107.0Z" fill="#00ff52" stroke="none"/><path d="M475.5 107.4L482.3 107.9L488.7 107.3" stroke-width="0.54"/><path d="M462.4 106.9L469.1 107.7L475.5 107.4L468.8 106.8Z" fill="#00ff50" stroke="none"/><path d="M462.4 106.9L469.1 107.7L475.5 107.4" stroke-width="0.54"/><path d="M573.9 93.5L580.7 91.9L587.1 89.4L580.4 91.3Z" fill="#49ff00" stroke="none"/><path d="M573.9 93.5L580.7 91.9L587.1 89.4" stroke-width="0.50"/><path d="M560.8 97.0L567.5 95.7L573.9 93.5L567.2 95.1Z" fill="#26ff00" stroke="none"/><path d="M560.8 97.0L567.5 95.7L573.9 93.5" stroke-width="0.49"/><path d="M547.6 100.0L554.4 99.0L560.8 97.0L554.0 98.4Z" fill="#07ff00" stroke="none"/><path d="M547.6 100.0L554.4 99.0L560.8 97.0" stroke-width="0.48"/><path d="M534.5 102.5L541.2 101.7L547.6 100.0L540.9 101.1Z" fill="#00ff13" stroke="none"/><path d="M534.5 102.5L541.2 101.7L547.6 100.0" stroke-width="0.47"/><path d="M521.3 104.5L528.1 103.9L534.5 102.5L527.7 103.3Z" fill="#00ff28" stroke="none"/><path d="M521.3 104.5L528.1 103.9L534.5 102.5" stroke-width="0.46"/><path d="M508.2 105.9L514.9 105.6L521.3 104.5L514.6 105.0Z" fill="#00ff38" stroke="none"/><path d="M508.2 105.9L514.9 105.6L521.3 104.5" stroke-width="0.46"/><path d="M495.1 106.7L501.8 106.7L508.2 105.9L501.5 106.1Z" fill="#00ff43" stroke="none"/><path d="M495.1 106.7L501.8 106.7L508.2 105.9" stroke-width="0.46"/><path d="M481.9 107.0L488.7 107.3L495.1 106.7L488.3 106.7Z" fill="#00ff49" stroke="none"/><path d="M481.9 107.0L488.7 107.3L495.1 106.7" stroke-width="0.46"/><path d="M468.8 106.8L475.5 107.4L481.9 107.0L475.2 106.8Z" fill="#00ff4a" stroke="none"/><path d="M468.8 106.8L475.5 107.4L481.9 107.0" stroke-width="0.46"/><path d="M455.6 106.1L462.4 106.9L468.8 106.8L462.0 106.3Z" fill="#00ff46" stroke="none"/><path d="M455.6 106.1L462.4 106.9L468.8 106.8" stroke-width="0.46"/><path d="M580.4 91.3L587.1 89.4L593.5 86.9L586.8 89.0Z" fill="#63ff00" stroke="none"/><path d="M580.4 91.3L587.1 89.4L593.5 86.9" stroke-width="0.42"/><path d="M567.2 95.1L573.9 93.5L580.4 91.3L573.6 93.1Z" fill="#3dff00" stroke="none"/><path d="M567.2 95.1L573.9 93.5L580.4 91.3" stroke-width="0.40"/><path d="M554.0 98.4L560.8 97.0L567.2 95.1L560.4 96.7Z" fill="#1cff00" stroke="none"/><path d="M554.0 98.4L560.8 97.0L567.2 95.1" stroke-width="0.39"/><path d="M540.9 101.1L547.6 100.0L554.0 98.4L547.3 99.7Z" fill="#00ff00" stroke="none"/><path d="M540.9 101.1L547.6 100.0L554.0 98.4" stroke-width="0.38"/><path d="M527.7 103.3L534.5 102.5L540.9 101.1L534.1 102.2Z" fill="#00ff17" stroke="none"/><path d="M527.7 103.3L534.5 102.5L540.9 101.1" stroke-width="0.37"/><path d="M514.6 105.0L521.3 104.5L527.7 103.3L521.0 104.1Z" fill="#00ff2a" stroke="none"/><path d="M514.6 105.0L521.3 104.5L527.7 103.3" stroke-width="0.36"/><path d="M501.5 106.1L508.2 105.9L514.6 105.0L507.9 105.5Z" fill="#00ff37" stroke="none"/><path d="M501.5 106.1L508.2 105.9L514.6 105.0" stroke-width="0.36"/><path d="M488.3 106.7L495.1 106.7L501.5 106.1L494.7 106.4Z" fill="#00ff3f" stroke="none"/><path d="M488.3 106.7L495.1 106.7L501.5 106.1" stroke-width="0.36"/><path d="M475.2 106.8L481.9 107.0L488.3 106.7L481.6 106.7Z" fill="#00ff43" stroke="none"/><path d="M475.2 106.8L481.9 107.0L488.3 106.7" stroke-width="0.36"/><path d="M462.0 106.3L468.8 106.8L475.2 106.8L468.4 106.4Z" fill="#00ff41" stroke="none"/><path d="M462.0 106.3L468.8 106.8L475.2 106.8" stroke-width="0.36"/><path d="M448.9 105.2L455.6 106.1L462.0 106.3L455.3 105.7Z" fill="#00ff3b" stroke="none"/><path d="M448.9 105.2L455.6 106.1L462.0 106.3" stroke-width="0.37"/><path d="M586.8 89.0L593.5 86.9L600.0 84.4L593.2 86.7Z" fill="#7dff00" stroke="none"/><path d="M586.8 89.0L593.5 86.9L600.0 84.4" stroke-width="0.32"/><path d="M573.6 93.1L580.4 91.3L586.8 89.0L580.0 91.1Z" fill="#54ff00" stroke="none"/><path d="M573.6 93.1L580.4 91.3L586.8 89.0" stroke-width="0.30"/><path d="M560.4 96.7L567.2 95.1L573.6 93.1L566.9 94.9Z" fill="#31ff00" stroke="none"/><path d="M560.4 96.7L567.2 95.1L573.6 93.1" stroke-width="0.28"/><path d="M547.3 99.7L554.0 98.4L560.4 96.7L553.7 98.2Z" fill="#12ff00" stroke="none"/><path d="M547.3 99.7L554.0 98.4L560.4 96.7" stroke-width="0.26"/><path d="M534.1 102.2L540.9 101.1L547.3 99.7L540.5 101.0Z" fill="#00ff07" stroke="none"/><path d="M534.1 102.2L540.9 101.1L547.3 99.7" stroke-width="0.24"/><path d="M521.0 104.1L527.7 103.3L534.1 102.2L527.4 103.2Z" fill="#00ff1c" stroke="none"/><path d="M521.0 104.1L527.7 103.3L534.1 102.2" stroke-width="0.23"/><path d="M507.9 105.5L514.6 105.0L521.0 104.1L514.3 104.9Z" fill="#00ff2c" stroke="none"/><path d="M507.9 105.5L514.6 105.0L521.0 104.1" stroke-width="0.22"/><path d="M494.7 106.4L501.5 106.1L507.9 105.5L501.1 106.0Z" fill="#00ff36" stroke="none"/><path d="M494.7 106.4L501.5 106.1L507.9 105.5" stroke-width="0.22"/><path d="M481.6 106.7L488.3 106.7L494.7 106.4L488.0 106.6Z" fill="#00ff3c" stroke="none"/><path d="M481.6 106.7L488.3 106.7L494.7 106.4" stroke-width="0.22"/><path d="M468.4 106.4L475.2 106.8L481.6 106.7L474.8 106.6Z" fill="#00ff3d" stroke="none"/><path d="M468.4 106.4L475.2 106.8L481.6 106.7" stroke-width="0.22"/><path d="M455.3 105.7L462.0 106.3L468.4 106.4L461.7 106.1Z" fill="#00ff39" stroke="none"/><path d="M455.3 105.7L462.0 106.3L468.4 106.4" stroke-width="0.23"/><path d="M442.1 104.3L448.9 105.2L455.3 105.7L448.5 105.0Z" fill="#00ff30" stroke="none"/><path d="M442.1 104.3L448.9 105.2L455.3 105.7" stroke-width="0.24"/><path d="M593.2 86.7L600.0 84.4L606.4 81.8L599.6 84.4Z" fill="#97ff00" stroke="none"/><path d="M593.2 86.7L600.0 84.4L606.4 81.8" stroke-width="0.20"/><path d="M580.0 91.1L586.8 89.0L593.2 86.7L586.4 89.1Z" fill="#6cff00" stroke="none"/><path d="M580.0 91.1L586.8 89.0L593.2 86.7" stroke-width="0.20"/><path d="M566.9 94.9L573.6 93.1L580.0 91.1L573.3 93.2Z" fill="#46ff00" stroke="none"/><path d="M566.9 94.9L573.6 93.1L580.0 91.1" stroke-width="0.20"/><path d="M553.7 98.2L560.4 96.7L566.9 94.9L560.1 96.8Z" fill="#25ff00" stroke="none"/><path d="M553.7 98.2L560.4 96.7L566.9 94.9" stroke-width="0.20"/><path d="M540.5 101.0L547.3 99.7L553.7 98.2L546.9 99.8Z" fill="#09ff00" stroke="none"/><path d="M540.5 101.0L547.3 99.7L553.7 98.2" stroke-width="0.20"/><path d="M527.4 103.2L534.1 102.2L540.5 101.0L533.8 102.3Z" fill="#00ff0e" stroke="none"/><path d="M527.4 103.2L534.1 102.2L540.5 101.0" stroke-width="0.20"/><path d="M514.3 104.9L521.0 104.1L527.4 103.2L520.7 104.2Z" fill="#00ff20" stroke="none"/><path d="M514.3 104.9L521.0 104.1L527.4 103.2" stroke-width="0.20"/><path d="M501.1 106.0L507.9 105.5L514.3 104.9L507.5 105.6Z" fill="#00ff2d" stroke="none"/><path d="M501.1 106.0L507.9 105.5L514.3 104.9" stroke-width="0.20"/><path d="M488.0 106.6L494.7 106.4L501.1 106.0L494.4 106.5Z" fill="#00ff35" stroke="none"/><path d="M488.0 106.6L494.7 106.4L501.1 106.0" stroke-width="0.20"/><path d="M474.8 106.6L481.6 106.7L488.0 106.6L481.2 106.8Z" fill="#00ff39" stroke="none"/><path d="M474.8 106.6L481.6 106.7L488.0 106.6" stroke-width="0.20"/><path d="M461.7 106.1L468.4 106.4L474.8 106.6L468.1 106.5Z" fill="#00ff37" stroke="none"/><path d="M461.7 106.1L468.4 106.4L474.8 106.6" stroke-width="0.20"/><path d="M448.5 105.0L455.3 105.7L461.7 106.1L454.9 105.7Z" fill="#00ff30" stroke="none"/><path d="M448.5 105.0L455.3 105.7L461.7 106.1" stroke-width="0.20"/><path d="M435.4 103.4L442.1 104.3L448.5 105.0L441.8 104.4Z" fill="#00ff25" stroke="none"/><path d="M435.4 103.4L442.1 104.3L448.5 105.0" stroke-width="0.20"/><path d="M599.6 84.4L606.4 81.8L612.8 79.3L606.0 82.1Z" fill="#b0ff00" stroke="none"/><path d="M599.6 84.4L606.4 81.8L612.8 79.3" stroke-width="0.22"/><path d="M586.4 89.1L593.2 86.7L599.6 84.4L592.8 87.0Z" fill="#83ff00" stroke="none"/><path d="M586.4 89.1L593.2 86.7L599.6 84.4" stroke-width="0.25"/><path d="M573.3 93.2L580.0 91.1L586.4 89.1L579.7 91.4Z" fill="#5bff00" stroke="none"/><path d="M573.3 93.2L580.0 91.1L586.4 89.1" stroke-width="0.28"/><path d="M560.1 96.8L566.9 94.9L573.3 93.2L566.5 95.3Z" fill="#38ff00" stroke="none"/><path d="M560.1 96.8L566.9 94.9L573.3 93.2" stroke-width="0.30"/><path d="M546.9 99.8L553.7 98.2L560.1 96.8L553.4 98.6Z" fill="#19ff00" stroke="none"/><path d="M546.9 99.8L553.7 98.2L560.1 96.8" stroke-width="0.31"/><path d="M533.8 102.3L540.5 101.0L546.9 99.8L540.2 101.4Z" fill="#00ff00" stroke="none"/><path d="M533.8 102.3L540.5 101.0L546.9 99.8" stroke-width="0.33"/><path d="M520.7 104.2L527.4 103.2L533.8 102.3L527.1 103.6Z" fill="#00ff15" stroke="none"/><path d="M520.7 104.2L527.4 103.2L533.8 102.3" stroke-width="0.34"/><path d="M507.5 105.6L514.3 104.9L520.7 104.2L513.9 105.3Z" fill="#00ff24" stroke="none"/><path d="M507.5 105.6L514.3 104.9L520.7 104.2" stroke-width="0.34"/><path d="M494.4 106.5L501.1 106.0L507.5 105.6L500.8 106.4Z" fill="#00ff2f" stroke="none"/><path d="M494.4 106.5L501.1 106.0L507.5 105.6" stroke-width="0.34"/><path d="M481.2 106.8L488.0 106.6L494.4 106.5L487.6 106.9Z" fill="#00ff34" stroke="none"/><path d="M481.2 106.8L488.0 106.6L494.4 106.5" stroke-width="0.34"/><path d="M468.1 106.5L474.8 106.6L481.2 106.8L474.5 106.9Z" fill="#00ff35" stroke="none"/><path d="M468.1 106.5L474.8 106.6L481.2 106.8" stroke-width="0.34"/><path d="M454.9 105.7L461.7 106.1L468.1 106.5L461.3 106.4Z" fill="#00ff31" stroke="none"/><path d="M454.9 105.7L461.7 106.1L468.1 106.5" stroke-width="0.33"/><path d="M441.8 104.4L448.5 105.0L454.9 105.7L448.2 105.3Z" fill="#00ff27" stroke="none"/><path d="M441.8 104.4L448.5 105.0L454.9 105.7" stroke-width="0.33"/><path d="M428.6 102.5L435.4 103.4L441.8 104.4L435.0 103.7Z" fill="#00ff19" stroke="none"/><path d="M428.6 102.5L435.4 103.4L441.8 104.4" stroke-width="0.31"/><path d="M606.0 82.1L612.8 79.3L619.2 76.6L612.5 79.8Z" fill="#caff00" stroke="none"/><path d="M606.0 82.1L612.8 79.3L619.2 76.6" stroke-width="0.35"/><path d="M592.8 87.0L599.6 84.4L606.0 82.1L599.3 85.0Z" fill="#9aff00" stroke="none"/><path d="M592.8 87.0L599.6 84.4L606.0 82.1" stroke-width="0.37"/><path d="M579.7 91.4L586.4 89.1L592.8 87.0L586.1 89.7Z" fill="#70ff00" stroke="none"/><path d="M579.7 91.4L586.4 89.1L592.8 87.0" stroke-width="0.39"/><path d="M566.5 95.3L573.3 93.2L579.7 91.4L572.9 93.8Z" fill="#4aff00" stroke="none"/><path d="M566.5 95.3L573.3 93.2L579.7 91.4" stroke-width="0.41"/><path d="M553.4 98.6L560.1 96.8L566.5 95.3L559.8 97.4Z" fill="#29ff00" stroke="none"/><path d="M553.4 98.6L560.1 96.8L566.5 95.3" stroke-width="0.42"/><path d="M540.2 101.4L546.9 99.8L553.4 98.6L546.6 100.4Z" fill="#0eff00" stroke="none"/><path d="M540.2 101.4L546.9 99.8L553.4 98.6" stroke-width="0.43"/><path d="M527.1 103.6L533.8 102.3L540.2 101.4L533.5 102.9Z" fill="#00ff09" stroke="none"/><path d="M527.1 103.6L533.8 102.3L540.2 101.4" stroke-width="0.44"/><path d="M513.9 105.3L520.7 104.2L527.1 103.6L520.3 104.9Z" fill="#00ff1b" stroke="none"/><path d="M513.9 105.3L520.7 104.2L527.1 103.6" stroke-width="0.45"/><path d="M500.8 106.4L507.5 105.6L513.9 105.3L507.2 106.3Z" fill="#00ff28" stroke="none"/><path d="M500.8 106.4L507.5 105.6L513.9 105.3" stroke-width="0.45"/><path d="M487.6 106.9L494.4 106.5L500.8 106.4L494.0 107.1Z" fill="#00ff30" stroke="none"/><path d="M487.6 106.9L494.4 106.5L500.8 106.4" stroke-width="0.45"/><path d="M474.5 106.9L481.2 106.8L487.6 106.9L480.9 107.4Z" fill="#00ff33" stroke="none"/><path d="M474.5 106.9L481.2 106.8L487.6 106.9" stroke-width="0.45"/><path d="M461.3 106.4L468.1 106.5L474.5 106.9L467.7 107.1Z" fill="#00ff31" stroke="none"/><path d="M461.3 106.4L468.1 106.5L474.5 106.9" stroke-width="0.45"/><path d="M448.2 105.3L454.9 105.7L461.3 106.4L454.6 106.3Z" fill="#00ff2a" stroke="none"/><path d="M448.2 105.3L454.9 105.7L461.3 106.4" stroke-width="0.44"/><path d="M435.0 103.7L441.8 104.4L448.2 105.3L441.5 104.9Z" fill="#00ff1e" stroke="none"/><path d="M435.0 103.7L441.8 104.4L448.2 105.3" stroke-width="0.43"/><path d="M421.9 101.5L428.6 102.5L435.0 103.7L428.3 102.9Z" fill="#00ff0d" stroke="none"/><path d="M421.9 101.5L428.6 102.5L435.0 103.7" stroke-width="0.42"/><path d="M612.5 79.8L619.2 76.6L625.7 74.0L618.9 77.4Z" fill="#e4ff00" stroke="none"/><path d="M612.5 79.8L619.2 76.6L625.7 74.0" stroke-width="0.45"/><path d="M599.3 85.0L606.0 82.1L612.5 79.8L605.7 82.9Z" fill="#b2ff00" stroke="none"/><path d="M599.3 85.0L606.0 82.1L612.5 79.8" stroke-width="0.47"/><path d="M586.1 89.7L592.8 87.0L599.3 85.0L592.5 87.9Z" fill="#85ff00" stroke="none"/><path d="M586.1 89.7L592.8 87.0L599.3 85.0" stroke-width="0.48"/><path d="M572.9 93.8L579.7 91.4L586.1 89.7L579.3 92.3Z" fill="#5dff00" stroke="none"/><path d="M572.9 93.8L579.7 91.4L586.1 89.7" stroke-width="0.50"/><path d="M559.8 97.4L566.5 95.3L572.9 93.8L566.2 96.2Z" fill="#3aff00" stroke="none"/><path d="M559.8 97.4L566.5 95.3L572.9 93.8" stroke-width="0.51"/><path d="M546.6 100.4L553.4 98.6L559.8 97.4L553.0 99.5Z" fill="#1cff00" stroke="none"/><path d="M546.6 100.4L553.4 98.6L559.8 97.4" stroke-width="0.52"/><path d="M533.5 102.9L540.2 101.4L546.6 100.4L539.9 102.3Z" fill="#02ff00" stroke="none"/><path d="M533.5 102.9L540.2 101.4L546.6 100.4" stroke-width="0.53"/><path d="M520.3 104.9L527.1 103.6L533.5 102.9L526.7 104.5Z" fill="#00ff12" stroke="none"/><path d="M520.3 104.9L527.1 103.6L533.5 102.9" stroke-width="0.53"/><path d="M507.2 106.3L513.9 105.3L520.3 104.9L513.6 106.1Z" fill="#00ff21" stroke="none"/><path d="M507.2 106.3L513.9 105.3L520.3 104.9" stroke-width="0.54"/><path d="M494.0 107.1L500.8 106.4L507.2 106.3L500.4 107.2Z" fill="#00ff2c" stroke="none"/><path d="M494.0 107.1L500.8 106.4L507.2 106.3" stroke-width="0.54"/><path d="M480.9 107.4L487.6 106.9L494.0 107.1L487.3 107.8Z" fill="#00ff31" stroke="none"/><path d="M480.9 107.4L487.6 106.9L494.0 107.1" stroke-width="0.54"/><path d="M467.7 107.1L474.5 106.9L480.9 107.4L474.1 107.8Z" fill="#00ff31" stroke="none"/><path d="M467.7 107.1L474.5 106.9L480.9 107.4" stroke-width="0.54"/><path d="M454.6 106.3L461.3 106.4L467.7 107.1L461.0 107.2Z" fill="#00ff2d" stroke="none"/><path d="M454.6 106.3L461.3 106.4L467.7 107.1" stroke-width="0.53"/><path d="M441.5 104.9L448.2 105.3L454.6 106.3L447.9 106.1Z" fill="#00ff23" stroke="none"/><path d="M441.5 104.9L448.2 105.3L454.6 106.3" stroke-width="0.53"/><path d="M428.3 102.9L435.0 103.7L441.5 104.9L434.7 104.4Z" fill="#00ff15" stroke="none"/><path d="M428.3 102.9L435.0 103.7L441.5 104.9" stroke-width="0.52"/><path d="M415.1 100.4L421.9 101.5L428.3 102.9L421.5 102.2Z" fill="#00ff02" stroke="none"/><path d="M415.1 100.4L421.9 101.5L428.3 102.9" stroke-width="0.51"/><path d="M618.9 77.4L625.7 74.0L632.1 71.3L625.3 75.0Z" fill="#fdff00" stroke="none"/><path d="M618.9 77.4L625.7 74.0L632.1 71.3" stroke-width="0.53"/><path d="M605.7 82.9L612.5 79.8L618.9 77.4L612.1 80.8Z" fill="#c9ff00" stroke="none"/><path d="M605.7 82.9L612.5 79.8L618.9 77.4" stroke-width="0.54"/><path d="M592.5 87.9L599.3 85.0L605.7 82.9L598.9 86.0Z" fill="#9aff00" stroke="none"/><path d="M592.5 87.9L599.3 85.0L605.7 82.9" stroke-width="0.56"/><path d="M579.3 92.3L586.1 89.7L592.5 87.9L585.7 90.7Z" fill="#6fff00" stroke="none"/><path d="M579.3 92.3L586.1 89.7L592.5 87.9" stroke-width="0.57"/><path d="M566.2 96.2L572.9 93.8L579.3 92.3L572.6 94.9Z" fill="#4aff00" stroke="none"/><path d="M566.2 96.2L572.9 93.8L579.3 92.3" stroke-width="0.58"/><path d="M553.0 99.5L559.8 97.4L566.2 96.2L559.4 98.5Z" fill="#29ff00" stroke="none"/><path d="M553.0 99.5L559.8 97.4L566.2 96.2" stroke-width="0.59"/><path d="M539.9 102.3L546.6 100.4L553.0 99.5L546.3 101.6Z" fill="#0eff00" stroke="none"/><path d="M539.9 102.3L546.6 100.4L553.0 99.5" stroke-width="0.60"/><path d="M526.7 104.5L533.5 102.9L539.9 102.3L533.1 104.1Z" fill="#00ff09" stroke="none"/><path d="M526.7 104.5L533.5 102.9L539.9 102.3" stroke-width="0.61"/><path d="M513.6 106.1L520.3 104.9L526.7 104.5L520.0 106.0Z" fill="#00ff1a" stroke="none"/><path d="M513.6 106.1L520.3 104.9L526.7 104.5" stroke-width="0.61"/><path d="M500.4 107.2L507.2 106.3L513.6 106.1L506.8 107.4Z" fill="#00ff27" stroke="none"/><path d="M500.4 107.2L507.2 106.3L513.6 106.1" stroke-width="0.61"/><path d="M487.3 107.8L494.0 107.1L500.4 107.2L493.7 108.2Z" fill="#00ff2f" stroke="none"/><path d="M487.3 107.8L494.0 107.1L500.4 107.2" stroke-width="0.61"/><path d="M474.1 107.8L480.9 107.4L487.3 107.8L480.5 108.5Z" fill="#00ff32" stroke="none"/><path d="M474.1 107.8L480.9 107.4L487.3 107.8" stroke-width="0.61"/><path d="M461.0 107.2L467.7 107.1L474.1 107.8L467.4 108.2Z" fill="#00ff30" stroke="none"/><path d="M461.0 107.2L467.7 107.1L474.1 107.8" stroke-width="0.61"/><path d="M447.9 106.1L454.6 106.3L461.0 107.2L454.3 107.3Z" fill="#00ff29" stroke="none"/><path d="M447.9 106.1L454.6 106.3L461.0 107.2" stroke-width="0.61"/><path d="M434.7 104.4L441.5 104.9L447.9 106.1L441.1 105.9Z" fill="#00ff1d" stroke="none"/><path d="M434.7 104.4L441.5 104.9L447.9 106.1" stroke-width="0.60"/><path d="M421.5 102.2L428.3 102.9L434.7 104.4L428.0 103.9Z" fill="#00ff0c" stroke="none"/><path d="M421.5 102.2L428.3 102.9L434.7 104.4" stroke-width="0.59"/><path d="M408.4 99.4L415.1 100.4L421.5 102.2L414.8 101.4Z" fill="#0aff00" stroke="none"/><path d="M408.4 99.4L415.1 100.4L421.5 102.2" stroke-width="0.58"/><path d="M625.3 75.0L632.1 71.3L638.5 68.6L631.7 72.5Z" fill="#ffe700" stroke="none"/><path d="M625.3 75.0L632.1 71.3L638.5 68.6" stroke-width="0.59"/><path d="M612.1 80.8L618.9 77.4L625.3 75.0L618.5 78.6Z" fill="#e0ff00" stroke="none"/><path d="M612.1 80.8L618.9 77.4L625.3 75.0" stroke-width="0.61"/><path d="M598.9 86.0L605.7 82.9L612.1 80.8L605.3 84.2Z" fill="#afff00" stroke="none"/><path d="M598.9 86.0L605.7 82.9L612.1 80.8" stroke-width="0.63"/><path d="M585.7 90.7L592.5 87.9L598.9 86.0L592.2 89.2Z" fill="#82ff00" stroke="none"/><path d="M585.7 90.7L592.5 87.9L598.9 86.0" stroke-width="0.64"/><path d="M572.6 94.9L579.3 92.3L585.7 90.7L579.0 93.6Z" fill="#5aff00" stroke="none"/><path d="M572.6 94.9L579.3 92.3L585.7 90.7"/><path d="M559.4 98.5L566.2 96.2L572.6 94.9L565.8 97.5Z" fill="#37ff00" stroke="none"/><path d="M559.4 98.5L566.2 96.2L572.6 94.9"/><path d="M546.3 101.6L553.0 99.5L559.4 98.5L552.7 100.9Z" fill="#19ff00" stroke="none"/><path d="M546.3 101.6L553.0 99.5L559.4 98.5"/><path d="M533.1 104.1L539.9 102.3L546.3 101.6L539.5 103.7Z" fill="#00ff00" stroke="none"/><path d="M533.1 104.1L539.9 102.3L546.3 101.6"/><path d="M520.0 106.0L526.7 104.5L533.1 104.1L526.4 105.9Z" fill="#00ff14" stroke="none"/><path d="M520.0 106.0L526.7 104.5L533.1 104.1"/><path d="M506.8 107.4L513.6 106.1L520.0 106.0L513.2 107.6Z" fill="#00ff23" stroke="none"/><path d="M506.8 107.4L513.6 106.1L520.0 106.0"/><path d="M493.7 108.2L500.4 107.2L506.8 107.4L500.1 108.7Z" fill="#00ff2d" stroke="none"/><path d="M493.7 108.2L500.4 107.2L506.8 107.4"/><path d="M480.5 108.5L487.3 107.8L493.7 108.2L486.9 109.2Z" fill="#00ff32" stroke="none"/><path d="M480.5 108.5L487.3 107.8L493.7 108.2"/><path d="M467.4 108.2L474.1 107.8L480.5 108.5L473.8 109.1Z" fill="#00ff32" stroke="none"/><path d="M467.4 108.2L474.1 107.8L480.5 108.5"/><path d="M454.3 107.3L461.0 107.2L467.4 108.2L460.7 108.6Z" fill="#00ff2e" stroke="none"/><path d="M454.3 107.3L461.0 107.2L467.4 108.2"/><path d="M441.1 105.9L447.9 106.1L454.3 107.3L447.5 107.4Z" fill="#00ff24" stroke="none"/><path d="M441.1 105.9L447.9 106.1L454.3 107.3"/><path d="M428.0 103.9L434.7 104.4L441.1 105.9L434.4 105.7Z" fill="#00ff16" stroke="none"/><path d="M428.0 103.9L434.7 104.4L441.1 105.9"/><path d="M414.8 101.4L421.5 102.2L428.0 103.9L421.2 103.4Z" fill="#00ff02" stroke="none"/><path d="M414.8 101.4L421.5 102.2L428.0 103.9"/><path d="M401.6 98.3L408.4 99.4L414.8 101.4L408.0 100.5Z" fill="#17ff00" stroke="none"/><path d="M401.6 98.3L408.4 99.4L414.8 101.4"/><path d="M631.7 72.5L638.5 68.6L644.9 65.9L638.2 70.1Z" fill="#ffcd00" stroke="none"/><path d="M631.7 72.5L638.5 68.6L644.9 65.9"/><path d="M618.5 78.6L625.3 75.0L631.7 72.5L624.9 76.5Z" fill="#f8ff00" stroke="none"/><path d="M618.5 78.6L625.3 75.0L631.7 72.5"/><path d="M605.3 84.2L612.1 80.8L618.5 78.6L611.7 82.3Z" fill="#c4ff00" stroke="none"/><path d="M605.3 84.2L612.1 80.8L618.5 78.6"/><path d="M592.2 89.2L598.9 86.0L605.3 84.2L598.6 87.6Z" fill="#94ff00" stroke="none"/><path d="M592.2 89.2L598.9 86.0L605.3 84.2"/><path d="M579.0 93.6L585.7 90.7L592.2 89.2L585.4 92.4Z" fill="#6aff00" stroke="none"/><path d="M579.0 93.6L585.7 90.7L592.2 89.2"/><path d="M565.8 97.5L572.6 94.9L579.0 93.6L572.2 96.6Z" fill="#45ff00" stroke="none"/><path d="M565.8 97.5L572.6 94.9L579.0 93.6"/><path d="M552.7 100.9L559.4 98.5L565.8 97.5L559.1 100.2Z" fill="#25ff00" stroke="none"/><path d="M552.7 100.9L559.4 98.5L565.8 97.5"/><path d="M539.5 103.7L546.3 101.6L552.7 100.9L545.9 103.3Z" fill="#09ff00" stroke="none"/><path d="M539.5 103.7L546.3 101.6L552.7 100.9"/><path d="M526.4 105.9L533.1 104.1L539.5 103.7L532.8 105.8Z" fill="#00ff0d" stroke="none"/><path d="M526.4 105.9L533.1 104.1L539.5 103.7"/><path d="M513.2 107.6L520.0 106.0L526.4 105.9L519.6 107.7Z" fill="#00ff1f" stroke="none"/><path d="M513.2 107.6L520.0 106.0L526.4 105.9"/><path d="M500.1 108.7L506.8 107.4L513.2 107.6L506.5 109.1Z" fill="#00ff2b" stroke="none"/><path d="M500.1 108.7L506.8 107.4L513.2 107.6"/><path d="M486.9 109.2L493.7 108.2L500.1 108.7L493.3 109.9Z" fill="#00ff33" stroke="none"/><path d="M486.9 109.2L493.7 108.2L500.1 108.7"/><path d="M473.8 109.1L480.5 108.5L486.9 109.2L480.2 110.1Z" fill="#00ff35" stroke="none"/><path d="M473.8 109.1L480.5 108.5L486.9 109.2"/><path d="M460.7 108.6L467.4 108.2L473.8 109.1L467.1 109.8Z" fill="#00ff33" stroke="none"/><path d="M460.7 108.6L467.4 108.2L473.8 109.1"/><path d="M447.5 107.4L454.3 107.3L460.7 108.6L453.9 108.9Z" fill="#00ff2c" stroke="none"/><path d="M447.5 107.4L454.3 107.3L460.7 108.6"/><path d="M434.4 105.7L441.1 105.9L447.5 107.4L440.8 107.4Z" fill="#00ff1f" stroke="none"/><path d="M434.4 105.7L441.1 105.9L447.5 107.4"/><path d="M421.2 103.4L428.0 103.9L434.4 105.7L427.6 105.4Z" fill="#00ff0e" stroke="none"/><path d="M421.2 103.4L428.0 103.9L434.4 105.7"/><path d="M408.0 100.5L414.8 101.4L421.2 103.4L414.5 102.8Z" fill="#08ff00" stroke="none"/><path d="M408.0 100.5L414.8 101.4L421.2 103.4"/><path d="M394.9 97.1L401.6 98.3L408.0 100.5L401.3 99.7Z" fill="#23ff00" stroke="none"/><path d="M394.9 97.1L401.6 98.3L408.0 100.5"/><path d="M638.2 70.1L644.9 65.9L651.4 63.2L644.6 67.6Z" fill="#ffb400" stroke="none"/><path d="M638.2 70.1L644.9 65.9L651.4 63.2"/><path d="M624.9 76.5L631.7 72.5L638.2 70.1L631.4 74.3Z" fill="#ffef00" stroke="none"/><path d="M624.9 76.5L631.7 72.5L638.2 70.1"/><path d="M611.7 82.3L618.5 78.6L624.9 76.5L618.2 80.4Z" fill="#d8ff00" stroke="none"/><path d="M611.7 82.3L618.5 78.6L624.9 76.5"/><path d="M598.6 87.6L605.3 84.2L611.7 82.3L605.0 86.0Z" fill="#a7ff00" stroke="none"/><path d="M598.6 87.6L605.3 84.2L611.7 82.3"/><path d="M585.4 92.4L592.2 89.2L598.6 87.6L591.8 91.1Z" fill="#7aff00" stroke="none"/><path d="M585.4 92.4L592.2 89.2L598.6 87.6"/><path d="M572.2 96.6L579.0 93.6L585.4 92.4L578.6 95.6Z" fill="#53ff00" stroke="none"/><path d="M572.2 96.6L579.0 93.6L585.4 92.4"/><path d="M559.1 100.2L565.8 97.5L572.2 96.6L565.5 99.5Z" fill="#30ff00" stroke="none"/><path d="M559.1 100.2L565.8 97.5L572.2 96.6"/><path d="M545.9 103.3L552.7 100.9L559.1 100.2L552.3 102.8Z" fill="#12ff00" stroke="none"/><path d="M545.9 103.3L552.7 100.9L559.1 100.2"/><path d="M532.8 105.8L539.5 103.7L545.9 103.3L539.2 105.6Z" fill="#00ff06" stroke="none"/><path d="M532.8 105.8L539.5 103.7L545.9 103.3"/><path d="M519.6 107.7L526.4 105.9L532.8 105.8L526.0 107.8Z" fill="#00ff1a" stroke="none"/><path d="M519.6 107.7L526.4 105.9L532.8 105.8"/><path d="M506.5 109.1L513.2 107.6L519.6 107.7L512.9 109.5Z" fill="#00ff29" stroke="none"/><path d="M506.5 109.1L513.2 107.6L519.6 107.7"/><path d="M493.3 109.9L500.1 108.7L506.5 109.1L499.7 110.6Z" fill="#00ff33" stroke="none"/><path d="M493.3 109.9L500.1 108.7L506.5 109.1"/><path d="M480.2 110.1L486.9 109.2L493.3 109.9L486.6 111.1Z" fill="#00ff38" stroke="none"/><path d="M480.2 110.1L486.9 109.2L493.3 109.9"/><path d="M467.1 109.8L473.8 109.1L480.2 110.1L473.5 111.1Z" fill="#00ff38" stroke="none"/><path d="M467.1 109.8L473.8 109.1L480.2 110.1"/><path d="M453.9 108.9L460.7 108.6L467.1 109.8L460.3 110.4Z" fill="#00ff33" stroke="none"/><path d="M453.9 108.9L460.7 108.6L467.1 109.8"/><path d="M440.8 107.4L447.5 107.4L453.9 108.9L447.2 109.2Z" fill="#00ff29" stroke="none"/><path d="M440.8 107.4L447.5 107.4L453.9 108.9"/><path d="M427.6 105.4L434.4 105.7L440.8 107.4L434.0 107.5Z" fill="#00ff1b" stroke="none"/><path d="M427.6 105.4L434.4 105.7L440.8 107.4"/><path d="M414.5 102.8L421.2 103.4L427.6 105.4L420.9 105.1Z" fill="#00ff07" stroke="none"/><path d="M414.5 102.8L421.2 103.4L427.6 105.4"/><path d="M401.3 99.7L408.0 100.5L414.5 102.8L407.7 102.2Z" fill="#12ff00" stroke="none"/><path d="M401.3 99.7L408.0 100.5L414.5 102.8"/><path d="M388.1 96.0L394.9 97.1L401.3 99.7L394.5 98.8Z" fill="#2fff00" stroke="none"/><path d="M388.1 96.0L394.9 97.1L401.3 99.7"/><path d="M644.6 67.6L651.4 63.2L657.8 60.4L651.0 65.1Z" fill="#ff9a00" stroke="none"/><path d="M644.6 67.6L651.4 63.2L657.8 60.4"/><path d="M631.4 74.3L638.2 70.1L644.6 67.6L637.8 72.1Z" fill="#ffd800" stroke="none"/><path d="M631.4 74.3L638.2 70.1L644.6 67.6"/><path d="M618.2 80.4L624.9 76.5L631.4 74.3L624.6 78.5Z" fill="#edff00" stroke="none"/><path d="M618.2 80.4L624.9 76.5L631.4 74.3"/><path d="M605.0 86.0L611.7 82.3L618.2 80.4L611.4 84.4Z" fill="#b9ff00" stroke="none"/><path d="M605.0 86.0L611.7 82.3L618.2 80.4"/><path d="M591.8 91.1L598.6 87.6L605.0 86.0L598.2 89.8Z" fill="#8bff00" stroke="none"/><path d="M591.8 91.1L598.6 87.6L605.0 86.0"/><path d="M578.6 95.6L585.4 92.4L591.8 91.1L585.0 94.5Z" fill="#60ff00" stroke="none"/><path d="M578.6 95.6L585.4 92.4L591.8 91.1"/><path d="M565.5 99.5L572.2 96.6L578.6 95.6L571.9 98.7Z" fill="#3bff00" stroke="none"/><path d="M565.5 99.5L572.2 96.6L578.6 95.6"/><path d="M552.3 102.8L559.1 100.2L565.5 99.5L558.7 102.4Z" fill="#1bff00" stroke="none"/><path d="M552.3 102.8L559.1 100.2L565.5 99.5"/><path d="M539.2 105.6L545.9 103.3L552.3 102.8L545.6 105.5Z" fill="#00ff00" stroke="none"/><path d="M539.2 105.6L545.9 103.3L552.3 102.8"/><path d="M526.0 107.8L532.8 105.8L539.2 105.6L532.4 108.0Z" fill="#00ff16" stroke="none"/><path d="M526.0 107.8L532.8 105.8L539.2 105.6"/><path d="M512.9 109.5L519.6 107.7L526.0 107.8L519.3 109.9Z" fill="#00ff27" stroke="none"/><path d="M512.9 109.5L519.6 107.7L526.0 107.8"/><path d="M499.7 110.6L506.5 109.1L512.9 109.5L506.1 111.3Z" fill="#00ff34" stroke="none"/><path d="M499.7 110.6L506.5 109.1L512.9 109.5"/><path d="M486.6 111.1L493.3 109.9L499.7 110.6L493.0 112.1Z" fill="#00ff3b" stroke="none"/><path d="M486.6 111.1L493.3 109.9L499.7 110.6"/><path d="M473.5 111.1L480.2 110.1L486.6 111.1L479.9 112.3Z" fill="#00ff3d" stroke="none"/><path d="M473.5 111.1L480.2 110.1L486.6 111.1"/><path d="M460.3 110.4L467.1 109.8L473.5 111.1L466.7 112.0Z" fill="#00ff3b" stroke="none"/><path d="M460.3 110.4L467.1 109.8L473.5 111.1"/><path d="M447.2 109.2L453.9 108.9L460.3 110.4L453.6 111.0Z" fill="#00ff33" stroke="none"/><path d="M447.2 109.2L453.9 108.9L460.3 110.4"/><path d="M434.0 107.5L440.8 107.4L447.2 109.2L440.4 109.5Z" fill="#00ff27" stroke="none"/><path d="M434.0 107.5L440.8 107.4L447.2 109.2"/><path d="M420.9 105.1L427.6 105.4L434.0 107.5L427.3 107.5Z" fill="#00ff16" stroke="none"/><path d="M420.9 105.1L427.6 105.4L434.0 107.5"/><path d="M407.7 102.2L414.5 102.8L420.9 105.1L414.1 104.8Z" fill="#01ff00" stroke="none"/><path d="M407.7 102.2L414.5 102.8L420.9 105.1"/><path d="M394.5 98.8L401.3 99.7L407.7 102.2L400.9 101.6Z" fill="#1cff00" stroke="none"/><path d="M394.5 98.8L401.3 99.7L407.7 102.2"/><path d="M381.3 94.8L388.1 96.0L394.5 98.8L387.8 97.9Z" fill="#3cff00" stroke="none"/><path d="M381.3 94.8L388.1 96.0L394.5 98.8M387.8 97.9L381.3 94.8"/><path d="M651.0 65.1L657.8 60.4L664.2 57.6L657.4 62.6Z" fill="#ff8000" stroke="none"/><path d="M651.0 65.1L657.8 60.4L664.2 57.6L657.4 62.6"/><path d="M637.8 72.1L644.6 67.6L651.0 65.1L644.2 69.9Z" fill="#ffc100" stroke="none"/><path d="M637.8 72.1L644.6 67.6L651.0 65.1"/><path d="M624.6 78.5L631.4 74.3L637.8 72.1L631.0 76.6Z" fill="#fffc00" stroke="none"/><path d="M624.6 78.5L631.4 74.3L637.8 72.1"/><path d="M611.4 84.4L618.2 80.4L624.6 78.5L617.8 82.8Z" fill="#ccff00" stroke="none"/><path d="M611.4 84.4L618.2 80.4L624.6 78.5"/><path d="M598.2 89.8L605.0 86.0L611.4 84.4L604.6 88.4Z" fill="#9bff00" stroke="none"/><path d="M598.2 89.8L605.0 86.0L611.4 84.4"/><path d="M585.0 94.5L591.8 91.1L598.2 89.8L591.4 93.5Z" fill="#6eff00" stroke="none"/><path d="M585.0 94.5L591.8 91.1L598.2 89.8"/><path d="M571.9 98.7L578.6 95.6L585.0 94.5L578.3 98.0Z" fill="#47ff00" stroke="none"/><path d="M571.9 98.7L578.6 95.6L585.0 94.5"/><path d="M558.7 102.4L565.5 99.5L571.9 98.7L565.1 102.0Z" fill="#24ff00" stroke="none"/><path d="M558.7 102.4L565.5 99.5L571.9 98.7"/><path d="M545.6 105.5L552.3 102.8L558.7 102.4L552.0 105.3Z" fill="#07ff00" stroke="none"/><path d="M545.6 105.5L552.3 102.8L558.7 102.4"/><path d="M532.4 108.0L539.2 105.6L545.6 105.5L538.8 108.1Z" fill="#00ff12" stroke="none"/><path d="M532.4 108.0L539.2 105.6L545.6 105.5"/><path d="M519.3 109.9L526.0 107.8L532.4 108.0L525.7 110.4Z" fill="#00ff25" stroke="none"/><path d="M519.3 109.9L526.0 107.8L532.4 108.0"/><path d="M506.1 111.3L512.9 109.5L519.3 109.9L512.6 112.0Z" fill="#00ff34" stroke="none"/><path d="M506.1 111.3L512.9 109.5L519.3 109.9"/><path d="M493.0 112.1L499.7 110.6L506.1 111.3L499.4 113.1Z" fill="#00ff3e" stroke="none"/><path d="M493.0 112.1L499.7 110.6L506.1 111.3"/><path d="M479.9 112.3L486.6 111.1L493.0 112.1L486.3 113.6Z" fill="#00ff43" stroke="none"/><path d="M479.9 112.3L486.6 111.1L493.0 112.1"/><path d="M466.7 112.0L473.5 111.1L479.9 112.3L473.1 113.5Z" fill="#00ff43" stroke="none"/><path d="M466.7 112.0L473.5 111.1L479.9 112.3"/><path d="M453.6 111.0L460.3 110.4L466.7 112.0L460.0 112.9Z" fill="#00ff3d" stroke="none"/><path d="M453.6 111.0L460.3 110.4L466.7 112.0"/><path d="M440.4 109.5L447.2 109.2L453.6 111.0L446.8 111.6Z" fill="#00ff33" stroke="none"/><path d="M440.4 109.5L447.2 109.2L453.6 111.0"/><path d="M427.3 107.5L434.0 107.5L440.4 109.5L433.7 109.8Z" fill="#00ff24" stroke="none"/><path d="M427.3 107.5L434.0 107.5L440.4 109.5"/><path d="M414.1 104.8L420.9 105.1L427.3 107.5L420.5 107.4Z" fill="#00ff10" stroke="none"/><path d="M414.1 104.8L420.9 105.1L427.3 107.5"/><path d="M400.9 101.6L407.7 102.2L414.1 104.8L407.4 104.5Z" fill="#08ff00" stroke="none"/><path d="M400.9 101.6L407.7 102.2L414.1 104.8"/><path d="M387.8 97.9L394.5 98.8L400.9 101.6L394.2 101.0Z" fill="#26ff00" stroke="none"/><path d="M387.8 97.9L394.5 98.8L400.9 101.6M394.2 101.0L387.8 97.9"/><path d="M644.2 69.9L651.0 65.1L657.4 62.6L650.6 67.6Z" fill="#ffa900" stroke="none"/><path d="M644.2 69.9L651.0 65.1L657.4 62.6L650.6 67.6"/><path d="M631.0 76.6L637.8 72.1L644.2 69.9L637.4 74.7Z" fill="#ffe700" stroke="none"/><path d="M631.0 76.6L637.8 72.1L644.2 69.9"/><path d="M617.8 82.8L624.6 78.5L631.0 76.6L624.2 81.2Z" fill="#deff00" stroke="none"/><path d="M617.8 82.8L624.6 78.5L631.0 76.6"/><path d="M604.6 88.4L611.4 84.4L617.8 82.8L611.0 87.1Z" fill="#abff00" stroke="none"/><path d="M604.6 88.4L611.4 84.4L617.8 82.8"/><path d="M591.4 93.5L598.2 89.8L604.6 88.4L597.9 92.5Z" fill="#7cff00" stroke="none"/><path d="M591.4 93.5L598.2 89.8L604.6 88.4"/><path d="M578.3 98.0L585.0 94.5L591.4 93.5L584.7 97.3Z" fill="#52ff00" stroke="none"/><path d="M578.3 98.0L585.0 94.5L591.4 93.5"/><path d="M565.1 102.0L571.9 98.7L578.3 98.0L571.5 101.5Z" fill="#2dff00" stroke="none"/><path d="M565.1 102.0L571.9 98.7L578.3 98.0"/><path d="M552.0 105.3L558.7 102.4L565.1 102.0L558.4 105.2Z" fill="#0dff00" stroke="none"/><path d="M552.0 105.3L558.7 102.4L565.1 102.0"/><path d="M538.8 108.1L545.6 105.5L552.0 105.3L545.2 108.3Z" fill="#00ff0e" stroke="none"/><path d="M538.8 108.1L545.6 105.5L552.0 105.3"/><path d="M525.7 110.4L532.4 108.0L538.8 108.1L532.1 110.8Z" fill="#00ff24" stroke="none"/><path d="M525.7 110.4L532.4 108.0L538.8 108.1"/><path d="M512.6 112.0L519.3 109.9L525.7 110.4L519.0 112.7Z" fill="#00ff35" stroke="none"/><path d="M512.6 112.0L519.3 109.9L525.7 110.4"/><path d="M499.4 113.1L506.1 111.3L512.6 112.0L505.8 114.1Z" fill="#00ff41" stroke="none"/><path d="M499.4 113.1L506.1 111.3L512.6 112.0"/><path d="M486.3 113.6L493.0 112.1L499.4 113.1L492.7 114.9Z" fill="#00ff48" stroke="none"/><path d="M486.3 113.6L493.0 112.1L499.4 113.1"/><path d="M473.1 113.5L479.9 112.3L486.3 113.6L479.5 115.1Z" fill="#00ff4a" stroke="none"/><path d="M473.1 113.5L479.9 112.3L486.3 113.6"/><path d="M460.0 112.9L466.7 112.0L473.1 113.5L466.4 114.7Z" fill="#00ff47" stroke="none"/><path d="M460.0 112.9L466.7 112.0L473.1 113.5"/><path d="M446.8 111.6L453.6 111.0L460.0 112.9L453.3 113.7Z" fill="#00ff40" stroke="none"/><path d="M446.8 111.6L453.6 111.0L460.0 112.9"/><path d="M433.7 109.8L440.4 109.5L446.8 111.6L440.1 112.2Z" fill="#00ff33" stroke="none"/><path d="M433.7 109.8L440.4 109.5L446.8 111.6"/><path d="M420.5 107.4L427.3 107.5L433.7 109.8L427.0 110.1Z" fill="#00ff22" stroke="none"/><path d="M420.5 107.4L427.3 107.5L433.7 109.8"/><path d="M407.4 104.5L414.1 104.8L420.5 107.4L413.8 107.4Z" fill="#00ff0b" stroke="none"/><path d="M407.4 104.5L414.1 104.8L420.5 107.4"/><path d="M394.2 101.0L400.9 101.6L407.4 104.5L400.6 104.1Z" fill="#10ff00" stroke="none"/><path d="M394.2 101.0L400.9 101.6L407.4 104.5M400.6 104.1L394.2 101.0"/><path d="M637.4 74.7L644.2 69.9L650.6 67.6L643.8 72.7Z" fill="#ffd200" stroke="none"/><path d="M637.4 74.7L644.2 69.9L650.6 67.6L643.8 72.7"/><path d="M624.2 81.2L631.0 76.6L637.4 74.7L630.6 79.5Z" fill="#f1ff00" stroke="none"/><path d="M624.2 81.2L631.0 76.6L637.4 74.7"/><path d="M611.0 87.1L617.8 82.8L624.2 81.2L617.4 85.7Z" fill="#bbff00" stroke="none"/><path d="M611.0 87.1L617.8 82.8L624.2 81.2"/><path d="M597.9 92.5L604.6 88.4L611.0 87.1L604.3 91.4Z" fill="#8aff00" stroke="none"/><path d="M597.9 92.5L604.6 88.4L611.0 87.1"/><path d="M584.7 97.3L591.4 93.5L597.9 92.5L591.1 96.5Z" fill="#5eff00" stroke="none"/><path d="M584.7 97.3L591.4 93.5L597.9 92.5"/><path d="M571.5 101.5L578.3 98.0L584.7 97.3L577.9 101.1Z" fill="#36ff00" stroke="none"/><path d="M571.5 101.5L578.3 98.0L584.7 97.3"/><path d="M558.4 105.2L565.1 102.0L571.5 101.5L564.8 105.0Z" fill="#14ff00" stroke="none"/><path d="M558.4 105.2L565.1 102.0L571.5 101.5"/><path d="M545.2 108.3L552.0 105.3L558.4 105.2L551.6 108.4Z" fill="#00ff09" stroke="none"/><path d="M545.2 108.3L552.0 105.3L558.4 105.2"/><path d="M532.1 110.8L538.8 108.1L545.2 108.3L538.5 111.2Z" fill="#00ff22" stroke="none"/><path d="M532.1 110.8L538.8 108.1L545.2 108.3"/><path d="M519.0 112.7L525.7 110.4L532.1 110.8L525.4 113.5Z" fill="#00ff35" stroke="none"/><path d="M519.0 112.7L525.7 110.4L532.1 110.8"/><path d="M505.8 114.1L512.6 112.0L519.0 112.7L512.2 115.1Z" fill="#00ff44" stroke="none"/><path d="M505.8 114.1L512.6 112.0L519.0 112.7"/><path d="M492.7 114.9L499.4 113.1L505.8 114.1L499.1 116.2Z" fill="#00ff4d" stroke="none"/><path d="M492.7 114.9L499.4 113.1L505.8 114.1"/><path d="M479.5 115.1L486.3 113.6L492.7 114.9L485.9 116.7Z" fill="#00ff52" stroke="none"/><path d="M479.5 115.1L486.3 113.6L492.7 114.9"/><path d="M466.4 114.7L473.1 113.5L479.5 115.1L472.8 116.6Z" fill="#00ff51" stroke="none"/><path d="M466.4 114.7L473.1 113.5L479.5 115.1"/><path d="M453.3 113.7L460.0 112.9L466.4 114.7L459.7 115.9Z" fill="#00ff4c" stroke="none"/><path d="M453.3 113.7L460.0 112.9L466.4 114.7"/><path d="M440.1 112.2L446.8 111.6L453.3 113.7L446.5 114.6Z" fill="#00ff42" stroke="none"/><path d="M440.1 112.2L446.8 111.6L453.3 113.7"/><path d="M427.0 110.1L433.7 109.8L440.1 112.2L433.4 112.8Z" fill="#00ff33" stroke="none"/><path d="M427.0 110.1L433.7 109.8L440.1 112.2"/><path d="M413.8 107.4L420.5 107.4L427.0 110.1L420.2 110.3Z" fill="#00ff1f" stroke="none"/><path d="M413.8 107.4L420.5 107.4L427.0 110.1"/><path d="M400.6 104.1L407.4 104.5L413.8 107.4L407.0 107.3Z" fill="#00ff05" stroke="none"/><path d="M400.6 104.1L407.4 104.5L413.8 107.4M407.0 107.3L400.6 104.1"/><path d="M630.6 79.5L637.4 74.7L643.8 72.7L637.1 77.8Z" fill="#fffb00" stroke="none"/><path d="M630.6 79.5L637.4 74.7L643.8 72.7L637.1 77.8"/><path d="M617.4 85.7L624.2 81.2L630.6 79.5L623.9 84.4Z" fill="#cbff00" stroke="none"/><path d="M617.4 85.7L624.2 81.2L630.6 79.5"/><path d="M604.3 91.4L611.0 87.1L617.4 85.7L610.7 90.3Z" fill="#97ff00" stroke="none"/><path d="M604.3 91.4L611.0 87.1L617.4 85.7"/><path d="M591.1 96.5L597.9 92.5L604.3 91.4L597.5 95.7Z" fill="#69ff00" stroke="none"/><path d="M591.1 96.5L597.9 92.5L604.3 91.4"/><path d="M577.9 101.1L584.7 97.3L591.1 96.5L584.3 100.6Z" fill="#3fff00" stroke="none"/><path d="M577.9 101.1L584.7 97.3L591.1 96.5"/><path d="M564.8 105.0L571.5 101.5L577.9 101.1L571.2 104.9Z" fill="#1bff00" stroke="none"/><path d="M564.8 105.0L571.5 101.5L577.9 101.1"/><path d="M551.6 108.4L558.4 105.2L564.8 105.0L558.0 108.5Z" fill="#00ff05" stroke="none"/><path d="M551.6 108.4L558.4 105.2L564.8 105.0"/><path d="M538.5 111.2L545.2 108.3L551.6 108.4L544.9 111.7Z" fill="#00ff20" stroke="none"/><path d="M538.5 111.2L545.2 108.3L551.6 108.4"/><path d="M525.4 113.5L532.1 110.8L538.5 111.2L531.8 114.2Z" fill="#00ff36" stroke="none"/><path d="M525.4 113.5L532.1 110.8L538.5 111.2"/><path d="M512.2 115.1L519.0 112.7L525.4 113.5L518.6 116.1Z" fill="#00ff47" stroke="none"/><path d="M512.2 115.1L519.0 112.7L525.4 113.5"/><path d="M499.1 116.2L505.8 114.1L512.2 115.1L505.5 117.5Z" fill="#00ff52" stroke="none"/><path d="M499.1 116.2L505.8 114.1L512.2 115.1"/><path d="M485.9 116.7L492.7 114.9L499.1 116.2L492.3 118.2Z" fill="#00ff59" stroke="none"/><path d="M485.9 116.7L492.7 114.9L499.1 116.2"/><path d="M472.8 116.6L479.5 115.1L485.9 116.7L479.2 118.4Z" fill="#00ff5b" stroke="none"/><path d="M472.8 116.6L479.5 115.1L485.9 116.7"/><path d="M459.7 115.9L466.4 114.7L472.8 116.6L466.1 118.0Z" fill="#00ff59" stroke="none"/><path d="M459.7 115.9L466.4 114.7L472.8 116.6"/><path d="M446.5 114.6L453.3 113.7L459.7 115.9L452.9 117.0Z" fill="#00ff51" stroke="none"/><path d="M446.5 114.6L453.3 113.7L459.7 115.9"/><path d="M433.4 112.8L440.1 112.2L446.5 114.6L439.8 115.5Z" fill="#00ff44" stroke="none"/><path d="M433.4 112.8L440.1 112.2L446.5 114.6"/><path d="M420.2 110.3L427.0 110.1L433.4 112.8L426.6 113.3Z" fill="#00ff32" stroke="none"/><path d="M420.2 110.3L427.0 110.1L433.4 112.8"/><path d="M407.0 107.3L413.8 107.4L420.2 110.3L413.5 110.5Z" fill="#00ff1b" stroke="none"/><path d="M407.0 107.3L413.8 107.4L420.2 110.3M413.5 110.5L407.0 107.3"/><path d="M623.9 84.4L630.6 79.5L637.1 77.8L630.3 83.0Z" fill="#dbff00" stroke="none"/><path d="M623.9 84.4L630.6 79.5L637.1 77.8L630.3 83.0"/><path d="M610.7 90.3L617.4 85.7L623.9 84.4L617.1 89.2Z" fill="#a5ff00" stroke="none"/><path d="M610.7 90.3L617.4 85.7L623.9 84.4"/><path d="M597.5 95.7L604.3 91.4L610.7 90.3L603.9 95.0Z" fill="#74ff00" stroke="none"/><path d="M597.5 95.7L604.3 91.4L610.7 90.3"/><path d="M584.3 100.6L591.1 96.5L597.5 95.7L590.7 100.1Z" fill="#48ff00" stroke="none"/><path d="M584.3 100.6L591.1 96.5L597.5 95.7"/><path d="M571.2 104.9L577.9 101.1L584.3 100.6L577.6 104.7Z" fill="#21ff00" stroke="none"/><path d="M571.2 104.9L577.9 101.1L584.3 100.6"/><path d="M558.0 108.5L564.8 105.0L571.2 104.9L564.4 108.7Z" fill="#00ff01" stroke="none"/><path d="M558.0 108.5L564.8 105.0L571.2 104.9"/><path d="M544.9 111.7L551.6 108.4L558.0 108.5L551.3 112.1Z" fill="#00ff1e" stroke="none"/><path d="M544.9 111.7L551.6 108.4L558.0 108.5"/><path d="M531.8 114.2L538.5 111.2L544.9 111.7L538.2 114.9Z" fill="#00ff36" stroke="none"/><path d="M531.8 114.2L538.5 111.2L544.9 111.7"/><path d="M518.6 116.1L525.4 113.5L531.8 114.2L525.0 117.1Z" fill="#00ff49" stroke="none"/><path d="M518.6 116.1L525.4 113.5L531.8 114.2"/><path d="M505.5 117.5L512.2 115.1L518.6 116.1L511.9 118.8Z" fill="#00ff58" stroke="none"/><path d="M505.5 117.5L512.2 115.1L518.6 116.1"/><path d="M492.3 118.2L499.1 116.2L505.5 117.5L498.7 119.8Z" fill="#00ff61" stroke="none"/><path d="M492.3 118.2L499.1 116.2L505.5 117.5"/><path d="M479.2 118.4L485.9 116.7L492.3 118.2L485.6 120.3Z" fill="#00ff65" stroke="none"/><path d="M479.2 118.4L485.9 116.7L492.3 118.2"/><path d="M466.1 118.0L472.8 116.6L479.2 118.4L472.5 120.2Z" fill="#00ff65" stroke="none"/><path d="M466.1 118.0L472.8 116.6L479.2 118.4"/><path d="M452.9 117.0L459.7 115.9L466.1 118.0L459.3 119.5Z" fill="#00ff5f" stroke="none"/><path d="M452.9 117.0L459.7 115.9L466.1 118.0"/><path d="M439.8 115.5L446.5 114.6L452.9 117.0L446.2 118.2Z" fill="#00ff55" stroke="none"/><path d="M439.8 115.5L446.5 114.6L452.9 117.0"/><path d="M426.6 113.3L433.4 112.8L439.8 115.5L433.0 116.3Z" fill="#00ff46" stroke="none"/><path d="M426.6 113.3L433.4 112.8L439.8 115.5"/><path d="M413.5 110.5L420.2 110.3L426.6 113.3L419.9 113.8Z" fill="#00ff31" stroke="none"/><path d="M413.5 110.5L420.2 110.3L426.6 113.3M419.9 113.8L413.5 110.5"/><path d="M617.1 89.2L623.9 84.4L630.3 83.0L623.5 88.2Z" fill="#b3ff00" stroke="none"/><path d="M617.1 89.2L623.9 84.4L630.3 83.0L623.5 88.2"/><path d="M603.9 95.0L610.7 90.3L617.1 89.2L610.3 94.2Z" fill="#80ff00" stroke="none"/><path d="M603.9 95.0L610.7 90.3L617.1 89.2"/><path d="M590.7 100.1L597.5 95.7L603.9 95.0L597.2 99.6Z" fill="#51ff00" stroke="none"/><path d="M590.7 100.1L597.5 95.7L603.9 95.0"/><path d="M577.6 104.7L584.3 100.6L590.7 100.1L584.0 104.5Z" fill="#28ff00" stroke="none"/><path d="M577.6 104.7L584.3 100.6L590.7 100.1"/><path d="M564.4 108.7L571.2 104.9L577.6 104.7L570.8 108.8Z" fill="#03ff00" stroke="none"/><path d="M564.4 108.7L571.2 104.9L577.6 104.7"/><path d="M551.3 112.1L558.0 108.5L564.4 108.7L557.7 112.5Z" fill="#00ff1c" stroke="none"/><path d="M551.3 112.1L558.0 108.5L564.4 108.7"/><path d="M538.2 114.9L544.9 111.7L551.3 112.1L544.6 115.6Z" fill="#00ff37" stroke="none"/><path d="M538.2 114.9L544.9 111.7L551.3 112.1"/><path d="M525.0 117.1L531.8 114.2L538.2 114.9L531.4 118.2Z" fill="#00ff4c" stroke="none"/><path d="M525.0 117.1L531.8 114.2L538.2 114.9"/><path d="M511.9 118.8L518.6 116.1L525.0 117.1L518.3 120.1Z" fill="#00ff5d" stroke="none"/><path d="M511.9 118.8L518.6 116.1L525.0 117.1"/><path d="M498.7 119.8L505.5 117.5L511.9 118.8L505.1 121.5Z" fill="#00ff69" stroke="none"/><path d="M498.7 119.8L505.5 117.5L511.9 118.8"/><path d="M485.6 120.3L492.3 118.2L498.7 119.8L492.0 122.2Z" fill="#00ff70" stroke="none"/><path d="M485.6 120.3L492.3 118.2L498.7 119.8"/><path d="M472.5 120.2L479.2 118.4L485.6 120.3L478.9 122.4Z" fill="#00ff71" stroke="none"/><path d="M472.5 120.2L479.2 118.4L485.6 120.3"/><path d="M459.3 119.5L466.1 118.0L472.5 120.2L465.7 121.9Z" fill="#00ff6e" stroke="none"/><path d="M459.3 119.5L466.1 118.0L472.5 120.2"/><path d="M446.2 118.2L452.9 117.0L459.3 119.5L452.6 120.9Z" fill="#00ff66" stroke="none"/><path d="M446.2 118.2L452.9 117.0L459.3 119.5"/><path d="M433.0 116.3L439.8 115.5L446.2 118.2L439.5 119.3Z" fill="#00ff59" stroke="none"/><path d="M433.0 116.3L439.8 115.5L446.2 118.2"/><path d="M419.9 113.8L426.6 113.3L433.0 116.3L426.3 117.1Z" fill="#00ff47" stroke="none"/><path d="M419.9 113.8L426.6 113.3L433.0 116.3M426.3 117.1L419.9 113.8"/><path d="M610.3 94.2L617.1 89.2L623.5 88.2L616.7 93.4Z" fill="#8bff00" stroke="none"/><path d="M610.3 94.2L617.1 89.2L623.5 88.2L616.7 93.4"/><path d="M597.2 99.6L603.9 95.0L610.3 94.2L603.6 99.1Z" fill="#5aff00" stroke="none"/><path d="M597.2 99.6L603.9 95.0L610.3 94.2"/><path d="M584.0 104.5L590.7 100.1L597.2 99.6L590.4 104.3Z" fill="#2eff00" stroke="none"/><path d="M584.0 104.5L590.7 100.1L597.2 99.6"/><path d="M570.8 108.8L577.6 104.7L584.0 104.5L577.2 108.9Z" fill="#08ff00" stroke="none"/><path d="M570.8 108.8L577.6 104.7L584.0 104.5"/><path d="M557.7 112.5L564.4 108.7L570.8 108.8L564.1 113.0Z" fill="#00ff1a" stroke="none"/><path d="M557.7 112.5L564.4 108.7L570.8 108.8"/><path d="M544.6 115.6L551.3 112.1L557.7 112.5L551.0 116.4Z" fill="#00ff37" stroke="none"/><path d="M544.6 115.6L551.3 112.1L557.7 112.5"/><path d="M531.4 118.2L538.2 114.9L544.6 115.6L537.8 119.2Z" fill="#00ff4f" stroke="none"/><path d="M531.4 118.2L538.2 114.9L544.6 115.6"/><path d="M518.3 120.1L525.0 117.1L531.4 118.2L524.7 121.4Z" fill="#00ff62" stroke="none"/><path d="M518.3 120.1L525.0 117.1L531.4 118.2"/><path d="M505.1 121.5L511.9 118.8L518.3 120.1L511.6 123.1Z" fill="#00ff70" stroke="none"/><path d="M505.1 121.5L511.9 118.8L518.3 120.1"/><path d="M492.0 122.2L498.7 119.8L505.1 121.5L498.4 124.1Z" fill="#00ff7a" stroke="none"/><path d="M492.0 122.2L498.7 119.8L505.1 121.5"/><path d="M478.9 122.4L485.6 120.3L492.0 122.2L485.3 124.6Z" fill="#00ff7e" stroke="none"/><path d="M478.9 122.4L485.6 120.3L492.0 122.2"/><path d="M465.7 121.9L472.5 120.2L478.9 122.4L472.2 124.4Z" fill="#00ff7d" stroke="none"/><path d="M465.7 121.9L472.5 120.2L478.9 122.4"/><path d="M452.6 120.9L459.3 119.5L465.7 121.9L459.0 123.7Z" fill="#00ff77" stroke="none"/><path d="M452.6 120.9L459.3 119.5L465.7 121.9"/><path d="M439.5 119.3L446.2 118.2L452.6 120.9L445.9 122.3Z" fill="#00ff6d" stroke="none"/><path d="M439.5 119.3L446.2 118.2L452.6 120.9"/><path d="M426.3 117.1L433.0 116.3L439.5 119.3L432.7 120.4Z" fill="#00ff5d" stroke="none"/><path d="M426.3 117.1L433.0 116.3L439.5 119.3M432.7 120.4L426.3 117.1"/><path d="M603.6 99.1L610.3 94.2L616.7 93.4L610.0 98.7Z" fill="#63ff00" stroke="none"/><path d="M603.6 99.1L610.3 94.2L616.7 93.4L610.0 98.7"/><path d="M590.4 104.3L597.2 99.6L603.6 99.1L596.8 104.1Z" fill="#35ff00" stroke="none"/><path d="M590.4 104.3L597.2 99.6L603.6 99.1"/><path d="M577.2 108.9L584.0 104.5L590.4 104.3L583.6 109.1Z" fill="#0cff00" stroke="none"/><path d="M577.2 108.9L584.0 104.5L590.4 104.3"/><path d="M564.1 113.0L570.8 108.8L577.2 108.9L570.5 113.4Z" fill="#00ff19" stroke="none"/><path d="M564.1 113.0L570.8 108.8L577.2 108.9"/><path d="M551.0 116.4L557.7 112.5L564.1 113.0L557.4 117.1Z" fill="#00ff38" stroke="none"/><path d="M551.0 116.4L557.7 112.5L564.1 113.0"/><path d="M537.8 119.2L544.6 115.6L551.0 116.4L544.2 120.2Z" fill="#00ff52" stroke="none"/><path d="M537.8 119.2L544.6 115.6L551.0 116.4"/><path d="M524.7 121.4L531.4 118.2L537.8 119.2L531.1 122.8Z" fill="#00ff68" stroke="none"/><path d="M524.7 121.4L531.4 118.2L537.8 119.2"/><path d="M511.6 123.1L518.3 120.1L524.7 121.4L518.0 124.7Z" fill="#00ff78" stroke="none"/><path d="M511.6 123.1L518.3 120.1L524.7 121.4"/><path d="M498.4 124.1L505.1 121.5L511.6 123.1L504.8 126.1Z" fill="#00ff84" stroke="none"/><path d="M498.4 124.1L505.1 121.5L511.6 123.1"/><path d="M485.3 124.6L492.0 122.2L498.4 124.1L491.7 126.8Z" fill="#00ff8a" stroke="none"/><path d="M485.3 124.6L492.0 122.2L498.4 124.1"/><path d="M472.2 124.4L478.9 122.4L485.3 124.6L478.6 127.0Z" fill="#00ff8c" stroke="none"/><path d="M472.2 124.4L478.9 122.4L485.3 124.6"/><path d="M459.0 123.7L465.7 121.9L472.2 124.4L465.4 126.5Z" fill="#00ff89" stroke="none"/><path d="M459.0 123.7L465.7 121.9L472.2 124.4"/><path d="M445.9 122.3L452.6 120.9L459.0 123.7L452.3 125.4Z" fill="#00ff80" stroke="none"/><path d="M445.9 122.3L452.6 120.9L459.0 123.7"/><path d="M432.7 120.4L439.5 119.3L445.9 122.3L439.1 123.8Z" fill="#00ff73" stroke="none"/><path d="M432.7 120.4L439.5 119.3L445.9 122.3M439.1 123.8L432.7 120.4"/><path d="M596.8 104.1L603.6 99.1L610.0 98.7L603.2 104.0Z" fill="#3bff00" stroke="none"/><path d="M596.8 104.1L603.6 99.1L610.0 98.7L603.2 104.0"/><path d="M583.6 109.1L590.4 104.3L596.8 104.1L590.0 109.2Z" fill="#10ff00" stroke="none"/><path d="M583.6 109.1L590.4 104.3L596.8 104.1"/><path d="M570.5 113.4L577.2 108.9L583.6 109.1L576.9 113.8Z" fill="#00ff17" stroke="none"/><path d="M570.5 113.4L577.2 108.9L583.6 109.1"/><path d="M557.4 117.1L564.1 113.0L570.5 113.4L563.8 117.9Z" fill="#00ff38" stroke="none"/><path d="M557.4 117.1L564.1 113.0L570.5 113.4"/><path d="M544.2 120.2L551.0 116.4L557.4 117.1L550.6 121.3Z" fill="#00ff55" stroke="none"/><path d="M544.2 120.2L551.0 116.4L557.4 117.1"/><path d="M531.1 122.8L537.8 119.2L544.2 120.2L537.5 124.1Z" fill="#00ff6d" stroke="none"/><path d="M531.1 122.8L537.8 119.2L544.2 120.2"/><path d="M518.0 124.7L524.7 121.4L531.1 122.8L524.4 126.4Z" fill="#00ff80" stroke="none"/><path d="M518.0 124.7L524.7 121.4L531.1 122.8"/><path d="M504.8 126.1L511.6 123.1L518.0 124.7L511.2 128.0Z" fill="#00ff8e" stroke="none"/><path d="M504.8 126.1L511.6 123.1L518.0 124.7"/><path d="M491.7 126.8L498.4 124.1L504.8 126.1L498.1 129.1Z" fill="#00ff97" stroke="none"/><path d="M491.7 126.8L498.4 124.1L504.8 126.1"/><path d="M478.6 127.0L485.3 124.6L491.7 126.8L485.0 129.5Z" fill="#00ff9b" stroke="none"/><path d="M478.6 127.0L485.3 124.6L491.7 126.8"/><path d="M465.4 126.5L472.2 124.4L478.6 127.0L471.8 129.3Z" fill="#00ff9a" stroke="none"/><path d="M465.4 126.5L472.2 124.4L478.6 127.0"/><path d="M452.3 125.4L459.0 123.7L465.4 126.5L458.7 128.5Z" fill="#00ff94" stroke="none"/><path d="M452.3 125.4L459.0 123.7L465.4 126.5"/><path d="M439.1 123.8L445.9 122.3L452.3 125.4L445.6 127.2Z" fill="#00ff89" stroke="none"/><path d="M439.1 123.8L445.9 122.3L452.3 125.4M445.6 127.2L439.1 123.8"/><path d="M590.0 109.2L596.8 104.1L603.2 104.0L596.4 109.3Z" fill="#14ff00" stroke="none"/><path d="M590.0 109.2L596.8 104.1L603.2 104.0L596.4 109.3"/><path d="M576.9 113.8L583.6 109.1L590.0 109.2L583.3 114.3Z" fill="#00ff15" stroke="none"/><path d="M576.9 113.8L583.6 109.1L590.0 109.2"/><path d="M563.8 117.9L570.5 113.4L576.9 113.8L570.2 118.6Z" fill="#00ff39" stroke="none"/><path d="M563.8 117.9L570.5 113.4L576.9 113.8"/><path d="M550.6 121.3L557.4 117.1L563.8 117.9L557.0 122.4Z" fill="#00ff58" stroke="none"/><path d="M550.6 121.3L557.4 117.1L563.8 117.9"/><path d="M537.5 124.1L544.2 120.2L550.6 121.3L543.9 125.5Z" fill="#00ff72" stroke="none"/><path d="M537.5 124.1L544.2 120.2L550.6 121.3"/><path d="M524.4 126.4L531.1 122.8L537.5 124.1L530.8 128.0Z" fill="#00ff88" stroke="none"/><path d="M524.4 126.4L531.1 122.8L537.5 124.1"/><path d="M511.2 128.0L518.0 124.7L524.4 126.4L517.6 130.0Z" fill="#00ff98" stroke="none"/><path d="M511.2 128.0L518.0 124.7L524.4 126.4"/><path d="M498.1 129.1L504.8 126.1L511.2 128.0L504.5 131.3Z" fill="#00ffa3" stroke="none"/><path d="M498.1 129.1L504.8 126.1L511.2 128.0"/><path d="M485.0 129.5L491.7 126.8L498.1 129.1L491.4 132.0Z" fill="#00ffaa" stroke="none"/><path d="M485.0 129.5L491.7 126.8L498.1 129.1"/><path d="M471.8 129.3L478.6 127.0L485.0 129.5L478.2 132.2Z" fill="#00ffab" stroke="none"/><path d="M471.8 129.3L478.6 127.0L485.0 129.5"/><path d="M458.7 128.5L465.4 126.5L471.8 129.3L465.1 131.7Z" fill="#00ffa7" stroke="none"/><path d="M458.7 128.5L465.4 126.5L471.8 129.3"/><path d="M445.6 127.2L452.3 125.4L458.7 128.5L452.0 130.6Z" fill="#00ff9f" stroke="none"/><path d="M445.6 127.2L452.3 125.4L458.7 128.5M452.0 130.6L445.6 127.2"/><path d="M583.3 114.3L590.0 109.2L596.4 109.3L589.7 114.7Z" fill="#00ff13" stroke="none"/><path d="M583.3 114.3L590.0 109.2L596.4 109.3L589.7 114.7"/><path d="M570.2 118.6L576.9 113.8L583.3 114.3L576.6 119.3Z" fill="#00ff3a" stroke="none"/><path d="M570.2 118.6L576.9 113.8L583.3 114.3"/><path d="M557.0 122.4L563.8 117.9L570.2 118.6L563.4 123.4Z" fill="#00ff5b" stroke="none"/><path d="M557.0 122.4L563.8 117.9L570.2 118.6"/><path d="M543.9 125.5L550.6 121.3L557.0 122.4L550.3 126.9Z" fill="#00ff78" stroke="none"/><path d="M543.9 125.5L550.6 121.3L557.0 122.4"/><path d="M530.8 128.0L537.5 124.1L543.9 125.5L537.2 129.7Z" fill="#00ff8f" stroke="none"/><path d="M530.8 128.0L537.5 124.1L543.9 125.5"/><path d="M517.6 130.0L524.4 126.4L530.8 128.0L524.0 132.0Z" fill="#00ffa2" stroke="none"/><path d="M517.6 130.0L524.4 126.4L530.8 128.0"/><path d="M504.5 131.3L511.2 128.0L517.6 130.0L510.9 133.6Z" fill="#00ffb0" stroke="none"/><path d="M504.5 131.3L511.2 128.0L517.6 130.0"/><path d="M491.4 132.0L498.1 129.1L504.5 131.3L497.8 134.6Z" fill="#00ffb8" stroke="none"/><path d="M491.4 132.0L498.1 129.1L504.5 131.3"/><path d="M478.2 132.2L485.0 129.5L491.4 132.0L484.7 135.0Z" fill="#00ffbc" stroke="none"/><path d="M478.2 132.2L485.0 129.5L491.4 132.0"/><path d="M465.1 131.7L471.8 129.3L478.2 132.2L471.5 134.8Z" fill="#00ffbb" stroke="none"/><path d="M465.1 131.7L471.8 129.3L478.2 132.2"/><path d="M452.0 130.6L458.7 128.5L465.1 131.7L458.4 134.0Z" fill="#00ffb5" stroke="none"/><path d="M452.0 130.6L458.7 128.5L465.1 131.7M458.4 134.0L452.0 130.6"/><path d="M576.6 119.3L583.3 114.3L589.7 114.7L582.9 120.1Z" fill="#00ff3a" stroke="none"/><path d="M576.6 119.3L583.3 114.3L589.7 114.7L582.9 120.1"/><path d="M563.4 123.4L570.2 118.6L576.6 119.3L569.8 124.5Z" fill="#00ff5e" stroke="none"/><path d="M563.4 123.4L570.2 118.6L576.6 119.3"/><path d="M550.3 126.9L557.0 122.4L563.4 123.4L556.7 128.3Z" fill="#00ff7d" stroke="none"/><path d="M550.3 126.9L557.0 122.4L563.4 123.4"/><path d="M537.2 129.7L543.9 125.5L550.3 126.9L543.5 131.4Z" fill="#00ff97" stroke="none"/><path d="M537.2 129.7L543.9 125.5L550.3 126.9"/><path d="M524.0 132.0L530.8 128.0L537.2 129.7L530.4 134.0Z" fill="#00ffac" stroke="none"/><path d="M524.0 132.0L530.8 128.0L537.2 129.7"/><path d="M510.9 133.6L517.6 130.0L524.0 132.0L517.3 135.9Z" fill="#00ffbc" stroke="none"/><path d="M510.9 133.6L517.6 130.0L524.0 132.0"/><path d="M497.8 134.6L504.5 131.3L510.9 133.6L504.2 137.2Z" fill="#00ffc7" stroke="none"/><path d="M497.8 134.6L504.5 131.3L510.9 133.6"/><path d="M484.7 135.0L491.4 132.0L497.8 134.6L491.1 137.9Z" fill="#00ffcd" stroke="none"/><path d="M484.7 135.0L491.4 132.0L497.8 134.6"/><path d="M471.5 134.8L478.2 132.2L484.7 135.0L477.9 138.0Z" fill="#00ffcf" stroke="none"/><path d="M471.5 134.8L478.2 132.2L484.7 135.0"/><path d="M458.4 134.0L465.1 131.7L471.5 134.8L464.8 137.5Z" fill="#00ffcb" stroke="none"/><path d="M458.4 134.0L465.1 131.7L471.5 134.8M464.8 137.5L458.4 134.0"/><path d="M569.8 124.5L576.6 119.3L582.9 120.1L576.2 125.6Z" fill="#00ff61" stroke="none"/><path d="M569.8 124.5L576.6 119.3L582.9 120.1L576.2 125.6"/><path d="M556.7 128.3L563.4 123.4L569.8 124.5L563.1 129.6Z" fill="#00ff82" stroke="none"/><path d="M556.7 128.3L563.4 123.4L569.8 124.5"/><path d="M543.5 131.4L550.3 126.9L556.7 128.3L549.9 133.1Z" fill="#00ff9f" stroke="none"/><path d="M543.5 131.4L550.3 126.9L556.7 128.3"/><path d="M530.4 134.0L537.2 129.7L543.5 131.4L536.8 136.0Z" fill="#00ffb6" stroke="none"/><path d="M530.4 134.0L537.2 129.7L543.5 131.4"/><path d="M517.3 135.9L524.0 132.0L530.4 134.0L523.7 138.2Z" fill="#00ffc9" stroke="none"/><path d="M517.3 135.9L524.0 132.0L530.4 134.0"/><path d="M504.2 137.2L510.9 133.6L517.3 135.9L510.6 139.9Z" fill="#00ffd6" stroke="none"/><path d="M504.2 137.2L510.9 133.6L517.3 135.9"/><path d="M491.1 137.9L497.8 134.6L504.2 137.2L497.5 140.9Z" fill="#00ffdf" stroke="none"/><path d="M491.1 137.9L497.8 134.6L504.2 137.2"/><path d="M477.9 138.0L484.7 135.0L491.1 137.9L484.3 141.3Z" fill="#00ffe2" stroke="none"/><path d="M477.9 138.0L484.7 135.0L491.1 137.9"/><path d="M464.8 137.5L471.5 134.8L477.9 138.0L471.2 141.0Z" fill="#00ffe1" stroke="none"/><path d="M464.8 137.5L471.5 134.8L477.9 138.0M471.2 141.0L464.8 137.5"/><path d="M563.1 129.6L569.8 124.5L576.2 125.6L569.5 131.0Z" fill="#00ff88" stroke="none"/><path d="M563.1 129.6L569.8 124.5L576.2 125.6L569.5 131.0"/><path d="M549.9 133.1L556.7 128.3L563.1 129.6L556.3 134.8Z" fill="#00ffa7" stroke="none"/><path d="M549.9 133.1L556.7 128.3L563.1 129.6"/><path d="M536.8 136.0L543.5 131.4L549.9 133.1L543.2 138.0Z" fill="#00ffc0" stroke="none"/><path d="M536.8 136.0L543.5 131.4L549.9 133.1"/><path d="M523.7 138.2L530.4 134.0L536.8 136.0L530.1 140.6Z" fill="#00ffd5" stroke="none"/><path d="M523.7 138.2L530.4 134.0L536.8 136.0"/><path d="M510.6 139.9L517.3 135.9L523.7 138.2L517.0 142.5Z" fill="#00ffe5" stroke="none"/><path d="M510.6 139.9L517.3 135.9L523.7 138.2"/><path d="M497.5 140.9L504.2 137.2L510.6 139.9L503.9 143.8Z" fill="#00fff0" stroke="none"/><path d="M497.5 140.9L504.2 137.2L510.6 139.9"/><path d="M484.3 141.3L491.1 137.9L497.5 140.9L490.7 144.5Z" fill="#00fff6" stroke="none"/><path d="M484.3 141.3L491.1 137.9L497.5 140.9"/><path d="M471.2 141.0L477.9 138.0L484.3 141.3L477.6 144.6Z" fill="#00fff7" stroke="none"/><path d="M471.2 141.0L477.9 138.0L484.3 141.3M477.6 144.6L471.2 141.0"/><path d="M556.3 134.8L563.1 129.6L569.5 131.0L562.7 136.6Z" fill="#00ffae" stroke="none"/><path d="M556.3 134.8L563.1 129.6L569.5 131.0L562.7 136.6"/><path d="M543.2 138.0L549.9 133.1L556.3 134.8L549.6 140.1Z" fill="#00ffca" stroke="none"/><path d="M543.2 138.0L549.9 133.1L556.3 134.8"/><path d="M530.1 140.6L536.8 136.0L543.2 138.0L536.5 142.9Z" fill="#00ffe2" stroke="none"/><path d="M530.1 140.6L536.8 136.0L543.2 138.0"/><path d="M517.0 142.5L523.7 138.2L530.1 140.6L523.4 145.2Z" fill="#00fff4" stroke="none"/><path d="M517.0 142.5L523.7 138.2L530.1 140.6"/><path d="M503.9 143.8L510.6 139.9L517.0 142.5L510.3 146.8Z" fill="#00fdff" stroke="none"/><path d="M503.9 143.8L510.6 139.9L517.0 142.5"/><path d="M490.7 144.5L497.5 140.9L503.9 143.8L497.2 147.8Z" fill="#00f4ff" stroke="none"/><path d="M490.7 144.5L497.5 140.9L503.9 143.8"/><path d="M477.6 144.6L484.3 141.3L490.7 144.5L484.0 148.2Z" fill="#00f1ff" stroke="none"/><path d="M477.6 144.6L484.3 141.3L490.7 144.5M484.0 148.2L477.6 144.6"/><path d="M549.6 140.1L556.3 134.8L562.7 136.6L556.0 142.1Z" fill="#00ffd5" stroke="none"/><path d="M549.6 140.1L556.3 134.8L562.7 136.6L556.0 142.1"/><path d="M536.5 142.9L543.2 138.0L549.6 140.1L542.9 145.3Z" fill="#00ffee" stroke="none"/><path d="M536.5 142.9L543.2 138.0L549.6 140.1"/><path d="M523.4 145.2L530.1 140.6L536.5 142.9L529.8 147.9Z" fill="#00fbff" stroke="none"/><path d="M523.4 145.2L530.1 140.6L536.5 142.9"/><path d="M510.3 146.8L517.0 142.5L523.4 145.2L516.7 149.8Z" fill="#00ecff" stroke="none"/><path d="M510.3 146.8L517.0 142.5L523.4 145.2"/><path d="M497.2 147.8L503.9 143.8L510.3 146.8L503.6 151.1Z" fill="#00e1ff" stroke="none"/><path d="M497.2 147.8L503.9 143.8L510.3 146.8"/><path d="M484.0 148.2L490.7 144.5L497.2 147.8L490.4 151.8Z" fill="#00dbff" stroke="none"/><path d="M484.0 148.2L490.7 144.5L497.2 147.8M490.4 151.8L484.0 148.2"/><path d="M542.9 145.3L549.6 140.1L556.0 142.1L549.3 147.7Z" fill="#00fffb" stroke="none"/><path d="M542.9 145.3L549.6 140.1L556.0 142.1L549.3 147.7"/><path d="M529.8 147.9L536.5 142.9L542.9 145.3L536.2 150.6Z" fill="#00ecff" stroke="none"/><path d="M529.8 147.9L536.5 142.9L542.9 145.3"/><path d="M516.7 149.8L523.4 145.2L529.8 147.9L523.1 152.9Z" fill="#00daff" stroke="none"/><path d="M516.7 149.8L523.4 145.2L529.8 147.9"/><path d="M503.6 151.1L510.3 146.8L516.7 149.8L510.0 154.5Z" fill="#00cdff" stroke="none"/><path d="M503.6 151.1L510.3 146.8L516.7 149.8"/><path d="M490.4 151.8L497.2 147.8L503.6 151.1L496.9 155.5Z" fill="#00c5ff" stroke="none"/><path d="M490.4 151.8L497.2 147.8L503.6 151.1M496.9 155.5L490.4 151.8"/><path d="M536.2 150.6L542.9 145.3L549.3 147.7L542.6 153.3Z" fill="#00ddff" stroke="none"/><path d="M536.2 150.6L542.9 145.3L549.3 147.7L542.6 153.3"/><path d="M523.1 152.9L529.8 147.9L536.2 150.6L529.5 155.9Z" fill="#00c9ff" stroke="none"/><path d="M523.1 152.9L529.8 147.9L536.2 150.6"/><path d="M510.0 154.5L516.7 149.8L523.1 152.9L516.4 157.9Z" fill="#00b9ff" stroke="none"/><path d="M510.0 154.5L516.7 149.8L523.1 152.9"/><path d="M496.9 155.5L503.6 151.1L510.0 154.5L503.3 159.2Z" fill="#00afff" stroke="none"/><path d="M496.9 155.5L503.6 151.1L510.0 154.5M503.3 159.2L496.9 155.5"/><path d="M529.5 155.9L536.2 150.6L542.6 153.3L535.9 159.0Z" fill="#00b8ff" stroke="none"/><path d="M529.5 155.9L536.2 150.6L542.6 153.3L535.9 159.0"/><path d="M516.4 157.9L523.1 152.9L529.5 155.9L522.8 161.3Z" fill="#00a6ff" stroke="none"/><path d="M516.4 157.9L523.1 152.9L529.5 155.9"/><path d="M503.3 159.2L510.0 154.5L516.4 157.9L509.7 162.9Z" fill="#0099ff" stroke="none"/><path d="M503.3 159.2L510.0 154.5L516.4 157.9M509.7 162.9L503.3 159.2"/><path d="M522.8 161.3L529.5 155.9L535.9 159.0L529.2 164.7Z" fill="#0092ff" stroke="none"/><path d="M522.8 161.3L529.5 155.9L535.9 159.0L529.2 164.7"/><path d="M509.7 162.9L516.4 157.9L522.8 161.3L516.1 166.6Z" fill="#0083ff" stroke="none"/><path d="M509.7 162.9L516.4 157.9L522.8 161.3M516.1 166.6L509.7 162.9"/><path d="M516.1 166.6L522.8 161.3L529.2 164.7L522.5 170.4Z" fill="#006dff" stroke="none"/><path d="M516.1 166.6L522.8 161.3L529.2 164.7L522.5 170.4Z"/></g>
<circle cx="463.2" cy="92.0" r="2.6" fill="#c00008" stroke="#5a0a0a" stroke-width="0.6"/>
<circle cx="463.2" cy="89.2" r="2.6" fill="#c00008" stroke="#5a0a0a" stroke-width="0.6"/>
<circle cx="534.0" cy="92.3" r="3.0" fill="#c00008" stroke="#5a0a0a" stroke-width="0.6"/>
<line x1="598.5" y1="96.0" x2="598.5" y2="110.0" stroke="#2a2a2a" stroke-width="1"/>
<circle cx="598.6" cy="97.0" r="3.0" fill="#c00008" stroke="#5a0a0a" stroke-width="0.6"/>
<circle cx="598.6" cy="94.5" r="3.0" fill="#c00008" stroke="#5a0a0a" stroke-width="0.6"/>
<line x1="523.5" y1="150.0" x2="523.5" y2="169.0" stroke="#2a2a2a" stroke-width="1"/>
<circle cx="523.0" cy="150.1" r="3.0" fill="#c00008" stroke="#5a0a0a" stroke-width="0.6"/>
<text x="350.3" y="9.8" style="font-family:'Liberation Serif',serif" font-weight="bold" font-size="13.3" fill="#000">B</text>
<text x="377.0" y="8.8" font-size="6.9" text-anchor="end" fill="#222" >24</text>
<text x="377.0" y="47.0" font-size="6.9" text-anchor="end" fill="#222" >23</text>
<text x="377.0" y="85.0" font-size="6.9" text-anchor="end" fill="#222" >22</text>
<text x="377.0" y="123.0" font-size="6.9" text-anchor="end" fill="#222" >21</text>
<text x="377.0" y="161.2" font-size="6.9" text-anchor="end" fill="#222" >20</text>
<text transform="translate(357.4,112.8) rotate(-90)" font-size="6.6" text-anchor="middle" fill="#222" textLength="52.0" lengthAdjust="spacingAndGlyphs">TPC (mg GAE/g)</text>
<text x="375.5" y="220.9" font-size="6.9" text-anchor="middle" fill="#222" >50</text>
<text x="402.9" y="226.2" font-size="6.9" text-anchor="middle" fill="#222" >44</text>
<text x="431.0" y="232.1" font-size="6.9" text-anchor="middle" fill="#222" >38</text>
<text x="459.0" y="237.9" font-size="6.9" text-anchor="middle" fill="#222" >32</text>
<text x="487.1" y="243.4" font-size="6.9" text-anchor="middle" fill="#222" >26</text>
<text x="515.3" y="248.6" font-size="6.9" text-anchor="middle" fill="#222" >20</text>
<text x="530.4" y="248.6" font-size="6.9" text-anchor="middle" fill="#222" >20</text>
<text x="366.9" y="242.5" font-size="6.6" text-anchor="start" fill="#222" textLength="61.6" lengthAdjust="spacingAndGlyphs" >B: Temperature (°C)</text>
<text x="565.6" y="241.5" font-size="6.9" text-anchor="middle" fill="#222" >30</text>
<text x="600.3" y="234.6" font-size="6.9" text-anchor="middle" fill="#222" >40</text>
<text x="635.5" y="227.6" font-size="6.9" text-anchor="middle" fill="#222" >50</text>
<text x="670.7" y="220.9" font-size="6.9" text-anchor="middle" fill="#222" >60</text>
<text x="627.5" y="242.5" font-size="6.6" text-anchor="start" fill="#222" textLength="41.5" lengthAdjust="spacingAndGlyphs" >A: Time (min)</text>
<g><line x1="236.80" y1="479.30" x2="235.30" y2="273.40" stroke="#161616" stroke-width="1.00"/><line x1="267.45" y1="423.82" x2="266.60" y2="273.95" stroke="#161616" stroke-width="1.00"/><line x1="298.46" y1="419.42" x2="297.90" y2="274.50" stroke="#161616" stroke-width="1.00"/><line x1="329.48" y1="415.03" x2="329.20" y2="275.05" stroke="#161616" stroke-width="1.00"/><line x1="360.50" y1="455.20" x2="360.50" y2="275.60" stroke="#161616" stroke-width="1.00"/><line x1="391.46" y1="413.11" x2="391.70" y2="275.20" stroke="#161616" stroke-width="1.00"/><line x1="422.42" y1="415.58" x2="422.90" y2="274.80" stroke="#161616" stroke-width="1.00"/><line x1="453.38" y1="418.05" x2="454.10" y2="274.40" stroke="#161616" stroke-width="1.00"/><line x1="484.34" y1="420.53" x2="485.30" y2="274.00" stroke="#161616" stroke-width="1.00"/><line x1="514.90" y1="472.30" x2="516.50" y2="273.60" stroke="#161616" stroke-width="1.00"/><line x1="236.43" y1="428.21" x2="360.50" y2="410.64" stroke="#161616" stroke-width="1.00"/><line x1="360.50" y1="410.64" x2="515.30" y2="423.00" stroke="#161616" stroke-width="1.00"/><line x1="236.20" y1="397.25" x2="360.50" y2="383.63" stroke="#161616" stroke-width="1.00"/><line x1="360.50" y1="383.63" x2="515.54" y2="393.12" stroke="#161616" stroke-width="1.00"/><line x1="235.98" y1="366.29" x2="360.50" y2="356.62" stroke="#161616" stroke-width="1.00"/><line x1="360.50" y1="356.62" x2="515.78" y2="363.24" stroke="#161616" stroke-width="1.00"/><line x1="235.75" y1="335.32" x2="360.50" y2="329.62" stroke="#161616" stroke-width="1.00"/><line x1="360.50" y1="329.62" x2="516.02" y2="333.36" stroke="#161616" stroke-width="1.00"/><line x1="235.53" y1="304.36" x2="360.50" y2="302.61" stroke="#161616" stroke-width="1.00"/><line x1="360.50" y1="302.61" x2="516.26" y2="303.48" stroke="#161616" stroke-width="1.00"/><line x1="235.30" y1="273.40" x2="360.50" y2="275.60" stroke="#161616" stroke-width="1.00"/><line x1="360.50" y1="275.60" x2="516.50" y2="273.60" stroke="#161616" stroke-width="1.00"/></g>
<polygon points="236.80,479.30 360.50,455.20 514.90,472.30 402.30,503.20" fill="#5f5f5f" stroke="#222" stroke-width="0.7"/>
<polyline points="440.83,492.63 438.32,492.70 436.32,492.76 433.81,492.86 431.60,492.95 429.53,493.05 426.64,493.20 425.47,493.26 421.58,493.50 421.40,493.51 417.86,493.76 415.83,493.91 414.27,494.03 410.81,494.32 409.85,494.40 407.46,494.62 404.21,494.94 403.38,495.02 401.05,495.26 397.96,495.60 396.29,495.79 394.96,495.95 392.02,496.30 389.14,496.66 388.42,496.75 386.32,497.03 383.55,497.40 380.83,497.78 379.50,497.97 378.15,498.17 375.51,498.56 372.91,498.96" fill="none" stroke="#00ff7f" stroke-width="1.50" stroke-linecap="round"/>
<polyline points="360.13,455.27 361.82,455.35" fill="none" stroke="#00ff7f" stroke-width="1.50" stroke-linecap="round"/>
<polyline points="477.22,482.64 474.49,482.34 471.73,482.05 468.95,481.77 466.15,481.49 463.31,481.22 460.44,480.96 457.53,480.71 454.57,480.47 453.09,480.36 451.54,480.25 448.45,480.04 445.25,479.86 441.94,479.70 441.83,479.70 438.48,479.59 434.81,479.52 434.50,479.52 430.86,479.52 428.95,479.56 426.51,479.62 424.40,479.71 421.55,479.87 420.48,479.94 416.98,480.23 415.59,480.36 413.78,480.55 410.82,480.90 408.01,481.27 407.79,481.30 405.35,481.65 402.80,482.05 400.32,482.46 397.92,482.88 395.64,483.29 395.58,483.30 393.29,483.73 391.04,484.17 388.83,484.61 386.65,485.05 384.50,485.50 382.37,485.95 380.27,486.41 378.18,486.86 376.11,487.32 374.05,487.78 372.01,488.24 369.98,488.71 367.96,489.17 365.95,489.64 363.95,490.10 361.96,490.57 359.97,491.04 358.00,491.51 356.02,491.98 355.92,492.01 354.06,492.46 352.10,492.93 350.15,493.40 348.20,493.88 346.25,494.35 344.31,494.83" fill="none" stroke="#2bff00" stroke-width="1.50" stroke-linecap="round"/>
<polyline points="334.42,460.28 337.01,460.59 339.61,460.91 342.21,461.22 344.82,461.53 347.44,461.83 350.07,462.14 352.70,462.44 355.35,462.75 358.01,463.05 360.67,463.34 363.35,463.64 366.05,463.93 368.76,464.22 371.49,464.50 374.24,464.78 377.02,465.05 379.83,465.32 382.67,465.57 383.53,465.65 385.55,465.82 388.48,466.06 391.46,466.29 394.51,466.49 397.65,466.68 398.41,466.72 400.89,466.85 404.27,466.98 407.00,467.05 407.82,467.06 411.62,467.10 413.18,467.09 415.76,467.04 418.11,466.97 420.40,466.87 422.27,466.77 425.81,466.52 425.94,466.51 429.25,466.20 432.32,465.87 432.59,465.83 435.19,465.51 437.91,465.13 440.52,464.74 442.16,464.48 443.03,464.34" fill="none" stroke="#2bff00" stroke-width="1.50" stroke-linecap="round"/>
<polyline points="309.26,465.18 310.08,465.38 311.19,465.66 313.09,466.14 314.95,466.63 315.16,466.68 316.77,467.13 318.56,467.64 319.40,467.89 320.29,468.16 321.98,468.69 322.93,469.01 323.61,469.24 325.18,469.80 325.86,470.06 326.68,470.38 328.11,470.98 328.26,471.05 329.46,471.60 330.23,471.98 330.71,472.24 331.80,472.87 331.86,472.91 332.88,473.60 333.05,473.72 333.78,474.33 334.00,474.54 334.52,475.10 334.70,475.33 335.09,475.91 335.18,476.09 335.45,476.77 335.47,476.83 335.58,477.55 335.58,477.68 335.54,478.25 335.44,478.67 335.36,478.93 335.05,479.60 334.98,479.73 334.64,480.26 334.15,480.88 334.13,480.90 333.53,481.53 332.86,482.14 332.85,482.16 332.09,482.78 331.27,483.38 331.05,483.54 330.39,483.98 329.45,484.58 328.58,485.09 328.45,485.17 327.42,485.75 326.34,486.33 325.33,486.84 325.21,486.90 324.06,487.47 322.86,488.03 321.64,488.59 321.13,488.82 320.38,489.15 319.10,489.70 317.79,490.26 316.46,490.80" fill="none" stroke="#d5ff00" stroke-width="1.50" stroke-linecap="round"/>
<polyline points="509.29,471.68 509.47,471.81 510.58,472.49 510.68,472.55 511.79,473.15" fill="none" stroke="#d5ff00" stroke-width="1.50" stroke-linecap="round"/>
<polyline points="284.63,469.98 285.03,470.17 285.93,470.61 286.88,471.09 287.18,471.25 288.35,471.91 288.48,471.98 289.45,472.58 289.84,472.85 290.46,473.28 291.00,473.69 291.38,474.00 291.95,474.50 292.21,474.75 292.74,475.30 292.93,475.52 293.36,476.08 293.52,476.32 293.83,476.84 293.99,477.15 294.17,477.58 294.31,478.02 294.38,478.31 294.48,478.93 294.48,479.03 294.48,479.73 294.46,479.88 294.37,480.42 294.25,480.88 294.18,481.11 293.90,481.78 293.82,481.94 293.55,482.44 293.15,483.05 293.12,483.10 292.62,483.74 292.20,484.23 292.07,484.38 291.45,485.02 290.94,485.49 290.78,485.64 290.06,486.26 289.33,486.84 289.28,486.88" fill="none" stroke="#ff7e00" stroke-width="1.50" stroke-linecap="round"/>
<polyline points="260.48,474.69 260.86,475.07 261.21,475.45 261.55,475.86 261.84,476.25 262.11,476.63 262.37,477.06 262.55,477.38 262.80,477.91 262.89,478.13 263.10,478.78 263.12,478.86 263.26,479.58 263.28,479.68 263.32,480.29 263.31,480.62 263.29,480.99 263.19,481.60 263.18,481.69 263.00,482.37 262.91,482.62 262.75,483.05" fill="none" stroke="#ff0000" stroke-width="1.50" stroke-linecap="round"/>
<g fill="#111"><circle cx="236.80" cy="479.30" r="1.3"/><circle cx="269.90" cy="484.08" r="1.3"/><circle cx="303.00" cy="488.86" r="1.3"/><circle cx="336.10" cy="493.64" r="1.3"/><circle cx="369.20" cy="498.42" r="1.3"/><circle cx="402.30" cy="503.20" r="1.3"/><circle cx="402.30" cy="503.20" r="1.3"/><circle cx="430.45" cy="495.47" r="1.3"/><circle cx="458.60" cy="487.75" r="1.3"/><circle cx="486.75" cy="480.03" r="1.3"/><circle cx="514.90" cy="472.30" r="1.3"/><circle cx="236.43" cy="428.21" r="1.3"/><circle cx="236.20" cy="397.25" r="1.3"/><circle cx="235.98" cy="366.29" r="1.3"/><circle cx="235.75" cy="335.32" r="1.3"/><circle cx="235.53" cy="304.36" r="1.3"/><circle cx="235.30" cy="273.40" r="1.3"/></g>
<line x1="433.5" y1="395.0" x2="433.5" y2="431.0" stroke="#2a2a2a" stroke-width="1"/>
<circle cx="433.7" cy="431.0" r="3.0" fill="#ffd6d6" stroke="#3a2020" stroke-width="0.7"/>
<circle cx="270.5" cy="330.7" r="3.0" fill="#ffd6d6" stroke="#3a2020" stroke-width="0.7"/>
<g fill="none" stroke="#000" stroke-width="0.68" stroke-linejoin="round" stroke-linecap="round"><path d="M354.3 368.0L360.5 370.8L367.0 370.1L360.8 367.5Z" fill="#00ff3e" stroke="none"/><path d="M354.3 368.0L360.5 370.8L367.0 370.1"/><path d="M360.8 367.5L367.0 370.1L373.4 369.4L367.3 367.1Z" fill="#00ff32" stroke="none"/><path d="M360.8 367.5L367.0 370.1L373.4 369.4"/><path d="M348.1 365.1L354.3 368.0L360.8 367.5L354.6 364.9Z" fill="#00ff11" stroke="none"/><path d="M348.1 365.1L354.3 368.0L360.8 367.5"/><path d="M367.3 367.1L373.4 369.4L379.9 368.7L373.7 366.6Z" fill="#00ff25" stroke="none"/><path d="M367.3 367.1L373.4 369.4L379.9 368.7"/><path d="M354.6 364.9L360.8 367.5L367.3 367.1L361.1 364.7Z" fill="#00ff08" stroke="none"/><path d="M354.6 364.9L360.8 367.5L367.3 367.1"/><path d="M341.8 362.1L348.1 365.1L354.6 364.9L348.4 362.2Z" fill="#1cff00" stroke="none"/><path d="M341.8 362.1L348.1 365.1L354.6 364.9"/><path d="M373.7 366.6L379.9 368.7L386.4 368.0L380.2 366.1Z" fill="#00ff19" stroke="none"/><path d="M373.7 366.6L379.9 368.7L386.4 368.0"/><path d="M361.1 364.7L367.3 367.1L373.7 366.6L367.6 364.4Z" fill="#01ff00" stroke="none"/><path d="M361.1 364.7L367.3 367.1L373.7 366.6"/><path d="M348.4 362.2L354.6 364.9L361.1 364.7L354.9 362.2Z" fill="#21ff00" stroke="none"/><path d="M348.4 362.2L354.6 364.9L361.1 364.7"/><path d="M335.6 359.1L341.8 362.1L348.4 362.2L342.2 359.4Z" fill="#49ff00" stroke="none"/><path d="M335.6 359.1L341.8 362.1L348.4 362.2"/><path d="M380.2 366.1L386.4 368.0L392.8 367.2L386.7 365.5Z" fill="#00ff0c" stroke="none"/><path d="M380.2 366.1L386.4 368.0L392.8 367.2"/><path d="M367.6 364.4L373.7 366.6L380.2 366.1L374.1 364.1Z" fill="#0aff00" stroke="none"/><path d="M367.6 364.4L373.7 366.6L380.2 366.1"/><path d="M354.9 362.2L361.1 364.7L367.6 364.4L361.4 362.1Z" fill="#27ff00" stroke="none"/><path d="M354.9 362.2L361.1 364.7L367.6 364.4"/><path d="M342.2 359.4L348.4 362.2L354.9 362.2L348.7 359.6Z" fill="#4bff00" stroke="none"/><path d="M342.2 359.4L348.4 362.2L354.9 362.2"/><path d="M329.4 356.0L335.6 359.1L342.2 359.4L336.0 356.5Z" fill="#71ff00" stroke="none"/><path d="M329.4 356.0L335.6 359.1L342.2 359.4"/><path d="M386.7 365.5L392.8 367.2L399.3 366.4L393.2 364.9Z" fill="#01ff00" stroke="none"/><path d="M386.7 365.5L392.8 367.2L399.3 366.4"/><path d="M374.1 364.1L380.2 366.1L386.7 365.5L380.6 363.8Z" fill="#14ff00" stroke="none"/><path d="M374.1 364.1L380.2 366.1L386.7 365.5"/><path d="M361.4 362.1L367.6 364.4L374.1 364.1L368.0 362.1Z" fill="#2dff00" stroke="none"/><path d="M361.4 362.1L367.6 364.4L374.1 364.1"/><path d="M348.7 359.6L354.9 362.2L361.4 362.1L355.3 359.8Z" fill="#4dff00" stroke="none"/><path d="M348.7 359.6L354.9 362.2L361.4 362.1"/><path d="M336.0 356.5L342.2 359.4L348.7 359.6L342.5 357.0Z" fill="#71ff00" stroke="none"/><path d="M336.0 356.5L342.2 359.4L348.7 359.6"/><path d="M323.1 352.8L329.4 356.0L336.0 356.5L329.7 353.6Z" fill="#92ff00" stroke="none"/><path d="M323.1 352.8L329.4 356.0L336.0 356.5"/><path d="M393.2 364.9L399.3 366.4L405.8 365.5L399.7 364.3Z" fill="#0fff00" stroke="none"/><path d="M393.2 364.9L399.3 366.4L405.8 365.5"/><path d="M380.6 363.8L386.7 365.5L393.2 364.9L387.1 363.5Z" fill="#1dff00" stroke="none"/><path d="M380.6 363.8L386.7 365.5L393.2 364.9"/><path d="M368.0 362.1L374.1 364.1L380.6 363.8L374.5 362.0Z" fill="#33ff00" stroke="none"/><path d="M368.0 362.1L374.1 364.1L380.6 363.8"/><path d="M355.3 359.8L361.4 362.1L368.0 362.1L361.8 360.0Z" fill="#50ff00" stroke="none"/><path d="M355.3 359.8L361.4 362.1L368.0 362.1"/><path d="M342.5 357.0L348.7 359.6L355.3 359.8L349.1 357.5Z" fill="#70ff00" stroke="none"/><path d="M342.5 357.0L348.7 359.6L355.3 359.8"/><path d="M329.7 353.6L336.0 356.5L342.5 357.0L336.4 354.3Z" fill="#8fff00" stroke="none"/><path d="M329.7 353.6L336.0 356.5L342.5 357.0"/><path d="M399.7 364.3L405.8 365.5L412.2 364.6L406.2 363.7Z" fill="#1dff00" stroke="none"/><path d="M399.7 364.3L405.8 365.5L412.2 364.6"/><path d="M316.9 349.6L323.1 352.8L329.7 353.6L323.5 350.6Z" fill="#b3ff00" stroke="none"/><path d="M316.9 349.6L323.1 352.8L329.7 353.6"/><path d="M387.1 363.5L393.2 364.9L399.7 364.3L393.7 363.1Z" fill="#28ff00" stroke="none"/><path d="M387.1 363.5L393.2 364.9L399.7 364.3"/><path d="M374.5 362.0L380.6 363.8L387.1 363.5L381.1 361.9Z" fill="#3aff00" stroke="none"/><path d="M374.5 362.0L380.6 363.8L387.1 363.5"/><path d="M361.8 360.0L368.0 362.1L374.5 362.0L368.4 360.2Z" fill="#53ff00" stroke="none"/><path d="M361.8 360.0L368.0 362.1L374.5 362.0"/><path d="M349.1 357.5L355.3 359.8L361.8 360.0L355.7 357.9Z" fill="#70ff00" stroke="none"/><path d="M349.1 357.5L355.3 359.8L361.8 360.0"/><path d="M336.4 354.3L342.5 357.0L349.1 357.5L343.0 355.0Z" fill="#8cff00" stroke="none"/><path d="M336.4 354.3L342.5 357.0L349.1 357.5"/><path d="M406.2 363.7L412.2 364.6L418.7 363.7L412.7 363.0Z" fill="#2bff00" stroke="none"/><path d="M406.2 363.7L412.2 364.6L418.7 363.7"/><path d="M323.5 350.6L329.7 353.6L336.4 354.3L330.2 351.6Z" fill="#aeff00" stroke="none"/><path d="M323.5 350.6L329.7 353.6L336.4 354.3"/><path d="M393.7 363.1L399.7 364.3L406.2 363.7L400.2 362.7Z" fill="#32ff00" stroke="none"/><path d="M393.7 363.1L399.7 364.3L406.2 363.7"/><path d="M310.6 346.3L316.9 349.6L323.5 350.6L317.3 347.5Z" fill="#d5ff00" stroke="none"/><path d="M310.6 346.3L316.9 349.6L323.5 350.6"/><path d="M381.1 361.9L387.1 363.5L393.7 363.1L387.6 361.8Z" fill="#41ff00" stroke="none"/><path d="M381.1 361.9L387.1 363.5L393.7 363.1"/><path d="M368.4 360.2L374.5 362.0L381.1 361.9L375.0 360.4Z" fill="#57ff00" stroke="none"/><path d="M368.4 360.2L374.5 362.0L381.1 361.9"/><path d="M355.7 357.9L361.8 360.0L368.4 360.2L362.3 358.3Z" fill="#70ff00" stroke="none"/><path d="M355.7 357.9L361.8 360.0L368.4 360.2"/><path d="M343.0 355.0L349.1 357.5L355.7 357.9L349.6 355.7Z" fill="#8aff00" stroke="none"/><path d="M343.0 355.0L349.1 357.5L355.7 357.9"/><path d="M412.7 363.0L418.7 363.7L425.2 362.8L419.2 362.3Z" fill="#39ff00" stroke="none"/><path d="M412.7 363.0L418.7 363.7L425.2 362.8"/><path d="M330.2 351.6L336.4 354.3L343.0 355.0L336.8 352.5Z" fill="#a9ff00" stroke="none"/><path d="M330.2 351.6L336.4 354.3L343.0 355.0"/><path d="M400.2 362.7L406.2 363.7L412.7 363.0L406.7 362.3Z" fill="#3dff00" stroke="none"/><path d="M400.2 362.7L406.2 363.7L412.7 363.0"/><path d="M317.3 347.5L323.5 350.6L330.2 351.6L324.0 348.8Z" fill="#cdff00" stroke="none"/><path d="M317.3 347.5L323.5 350.6L330.2 351.6"/><path d="M387.6 361.8L393.7 363.1L400.2 362.7L394.1 361.7Z" fill="#48ff00" stroke="none"/><path d="M387.6 361.8L393.7 363.1L400.2 362.7"/><path d="M304.4 342.9L310.6 346.3L317.3 347.5L311.1 344.4Z" fill="#f5ff00" stroke="none"/><path d="M304.4 342.9L310.6 346.3L317.3 347.5"/><path d="M375.0 360.4L381.1 361.9L387.6 361.8L381.5 360.5Z" fill="#5aff00" stroke="none"/><path d="M375.0 360.4L381.1 361.9L387.6 361.8"/><path d="M362.3 358.3L368.4 360.2L375.0 360.4L368.9 358.7Z" fill="#70ff00" stroke="none"/><path d="M362.3 358.3L368.4 360.2L375.0 360.4"/><path d="M349.6 355.7L355.7 357.9L362.3 358.3L356.2 356.4Z" fill="#87ff00" stroke="none"/><path d="M349.6 355.7L355.7 357.9L362.3 358.3"/><path d="M419.2 362.3L425.2 362.8L431.7 361.8L425.7 361.6Z" fill="#48ff00" stroke="none"/><path d="M419.2 362.3L425.2 362.8L431.7 361.8" stroke-width="0.61"/><path d="M336.8 352.5L343.0 355.0L349.6 355.7L343.4 353.5Z" fill="#a4ff00" stroke="none"/><path d="M336.8 352.5L343.0 355.0L349.6 355.7"/><path d="M406.7 362.3L412.7 363.0L419.2 362.3L413.2 361.8Z" fill="#48ff00" stroke="none"/><path d="M406.7 362.3L412.7 363.0L419.2 362.3" stroke-width="0.62"/><path d="M324.0 348.8L330.2 351.6L336.8 352.5L330.6 350.0Z" fill="#c5ff00" stroke="none"/><path d="M324.0 348.8L330.2 351.6L336.8 352.5"/><path d="M394.1 361.7L400.2 362.7L406.7 362.3L400.7 361.5Z" fill="#50ff00" stroke="none"/><path d="M394.1 361.7L400.2 362.7L406.7 362.3" stroke-width="0.63"/><path d="M311.1 344.4L317.3 347.5L324.0 348.8L317.8 345.9Z" fill="#ecff00" stroke="none"/><path d="M311.1 344.4L317.3 347.5L324.0 348.8"/><path d="M381.5 360.5L387.6 361.8L394.1 361.7L388.1 360.6Z" fill="#5eff00" stroke="none"/><path d="M381.5 360.5L387.6 361.8L394.1 361.7" stroke-width="0.64"/><path d="M298.2 339.5L304.4 342.9L311.1 344.4L304.9 341.2Z" fill="#ffea00" stroke="none"/><path d="M298.2 339.5L304.4 342.9L311.1 344.4"/><path d="M368.9 358.7L375.0 360.4L381.5 360.5L375.5 359.1Z" fill="#70ff00" stroke="none"/><path d="M368.9 358.7L375.0 360.4L381.5 360.5"/><path d="M425.7 361.6L431.7 361.8L438.1 360.8L432.2 360.8Z" fill="#57ff00" stroke="none"/><path d="M425.7 361.6L431.7 361.8L438.1 360.8" stroke-width="0.55"/><path d="M356.2 356.4L362.3 358.3L368.9 358.7L362.8 357.1Z" fill="#85ff00" stroke="none"/><path d="M356.2 356.4L362.3 358.3L368.9 358.7"/><path d="M343.4 353.5L349.6 355.7L356.2 356.4L350.1 354.4Z" fill="#9fff00" stroke="none"/><path d="M343.4 353.5L349.6 355.7L356.2 356.4"/><path d="M413.2 361.8L419.2 362.3L425.7 361.6L419.7 361.3Z" fill="#54ff00" stroke="none"/><path d="M413.2 361.8L419.2 362.3L425.7 361.6" stroke-width="0.56"/><path d="M330.6 350.0L336.8 352.5L343.4 353.5L337.3 351.2Z" fill="#beff00" stroke="none"/><path d="M330.6 350.0L336.8 352.5L343.4 353.5"/><path d="M400.7 361.5L406.7 362.3L413.2 361.8L407.2 361.3Z" fill="#58ff00" stroke="none"/><path d="M400.7 361.5L406.7 362.3L413.2 361.8" stroke-width="0.57"/><path d="M317.8 345.9L324.0 348.8L330.6 350.0L324.5 347.4Z" fill="#e2ff00" stroke="none"/><path d="M317.8 345.9L324.0 348.8L330.6 350.0"/><path d="M388.1 360.6L394.1 361.7L400.7 361.5L394.7 360.7Z" fill="#63ff00" stroke="none"/><path d="M388.1 360.6L394.1 361.7L400.7 361.5" stroke-width="0.58"/><path d="M304.9 341.2L311.1 344.4L317.8 345.9L311.6 343.0Z" fill="#fff600" stroke="none"/><path d="M304.9 341.2L311.1 344.4L317.8 345.9"/><path d="M375.5 359.1L381.5 360.5L388.1 360.6L382.1 359.5Z" fill="#71ff00" stroke="none"/><path d="M375.5 359.1L381.5 360.5L388.1 360.6" stroke-width="0.59"/><path d="M432.2 360.8L438.1 360.8L444.6 359.7L438.7 360.0Z" fill="#66ff00" stroke="none"/><path d="M432.2 360.8L438.1 360.8L444.6 359.7" stroke-width="0.48"/><path d="M291.9 335.9L298.2 339.5L304.9 341.2L298.6 337.9Z" fill="#ffcb00" stroke="none"/><path d="M291.9 335.9L298.2 339.5L304.9 341.2"/><path d="M362.8 357.1L368.9 358.7L375.5 359.1L369.4 357.7Z" fill="#83ff00" stroke="none"/><path d="M362.8 357.1L368.9 358.7L375.5 359.1" stroke-width="0.61"/><path d="M419.7 361.3L425.7 361.6L432.2 360.8L426.2 360.8Z" fill="#5fff00" stroke="none"/><path d="M419.7 361.3L425.7 361.6L432.2 360.8" stroke-width="0.49"/><path d="M350.1 354.4L356.2 356.4L362.8 357.1L356.7 355.3Z" fill="#9aff00" stroke="none"/><path d="M350.1 354.4L356.2 356.4L362.8 357.1" stroke-width="0.62"/><path d="M337.3 351.2L343.4 353.5L350.1 354.4L344.0 352.4Z" fill="#b7ff00" stroke="none"/><path d="M337.3 351.2L343.4 353.5L350.1 354.4" stroke-width="0.64"/><path d="M407.2 361.3L413.2 361.8L419.7 361.3L413.8 361.1Z" fill="#60ff00" stroke="none"/><path d="M407.2 361.3L413.2 361.8L419.7 361.3" stroke-width="0.50"/><path d="M324.5 347.4L330.6 350.0L337.3 351.2L331.1 348.8Z" fill="#d8ff00" stroke="none"/><path d="M324.5 347.4L330.6 350.0L337.3 351.2"/><path d="M394.7 360.7L400.7 361.5L407.2 361.3L401.2 360.7Z" fill="#67ff00" stroke="none"/><path d="M394.7 360.7L400.7 361.5L407.2 361.3" stroke-width="0.51"/><path d="M311.6 343.0L317.8 345.9L324.5 347.4L318.3 344.7Z" fill="#fdff00" stroke="none"/><path d="M311.6 343.0L317.8 345.9L324.5 347.4"/><path d="M382.1 359.5L388.1 360.6L394.7 360.7L388.6 359.8Z" fill="#71ff00" stroke="none"/><path d="M382.1 359.5L388.1 360.6L394.7 360.7" stroke-width="0.52"/><path d="M298.6 337.9L304.9 341.2L311.6 343.0L305.4 339.9Z" fill="#ffd900" stroke="none"/><path d="M298.6 337.9L304.9 341.2L311.6 343.0"/><path d="M369.4 357.7L375.5 359.1L382.1 359.5L376.0 358.3Z" fill="#81ff00" stroke="none"/><path d="M369.4 357.7L375.5 359.1L382.1 359.5" stroke-width="0.54"/><path d="M438.7 360.0L444.6 359.7L451.1 358.6L445.2 359.2Z" fill="#71ff00" stroke="none"/><path d="M438.7 360.0L444.6 359.7L451.1 358.6" stroke-width="0.39"/><path d="M426.2 360.8L432.2 360.8L438.7 360.0L432.8 360.3Z" fill="#6aff00" stroke="none"/><path d="M426.2 360.8L432.2 360.8L438.7 360.0" stroke-width="0.40"/><path d="M285.6 332.3L291.9 335.9L298.6 337.9L292.4 334.6Z" fill="#ffab00" stroke="none"/><path d="M285.6 332.3L291.9 335.9L298.6 337.9"/><path d="M356.7 355.3L362.8 357.1L369.4 357.7L363.3 356.2Z" fill="#96ff00" stroke="none"/><path d="M356.7 355.3L362.8 357.1L369.4 357.7" stroke-width="0.55"/><path d="M413.8 361.1L419.7 361.3L426.2 360.8L420.3 360.8Z" fill="#68ff00" stroke="none"/><path d="M413.8 361.1L419.7 361.3L426.2 360.8" stroke-width="0.41"/><path d="M344.0 352.4L350.1 354.4L356.7 355.3L350.6 353.6Z" fill="#b0ff00" stroke="none"/><path d="M344.0 352.4L350.1 354.4L356.7 355.3" stroke-width="0.57"/><path d="M331.1 348.8L337.3 351.2L344.0 352.4L337.8 350.3Z" fill="#cfff00" stroke="none"/><path d="M331.1 348.8L337.3 351.2L344.0 352.4" stroke-width="0.59"/><path d="M401.2 360.7L407.2 361.3L413.8 361.1L407.8 360.7Z" fill="#6bff00" stroke="none"/><path d="M401.2 360.7L407.2 361.3L413.8 361.1" stroke-width="0.42"/><path d="M318.3 344.7L324.5 347.4L331.1 348.8L325.0 346.4Z" fill="#f2ff00" stroke="none"/><path d="M318.3 344.7L324.5 347.4L331.1 348.8" stroke-width="0.61"/><path d="M388.6 359.8L394.7 360.7L401.2 360.7L395.2 360.1Z" fill="#72ff00" stroke="none"/><path d="M388.6 359.8L394.7 360.7L401.2 360.7" stroke-width="0.44"/><path d="M305.4 339.9L311.6 343.0L318.3 344.7L312.1 341.9Z" fill="#ffe600" stroke="none"/><path d="M305.4 339.9L311.6 343.0L318.3 344.7" stroke-width="0.63"/><path d="M376.0 358.3L382.1 359.5L388.6 359.8L382.6 358.9Z" fill="#80ff00" stroke="none"/><path d="M376.0 358.3L382.1 359.5L388.6 359.8" stroke-width="0.46"/><path d="M445.2 359.2L451.1 358.6L457.6 357.5L451.7 358.3Z" fill="#7dff00" stroke="none"/><path d="M445.2 359.2L451.1 358.6L457.6 357.5" stroke-width="0.28"/><path d="M292.4 334.6L298.6 337.9L305.4 339.9L299.2 336.9Z" fill="#ffbb00" stroke="none"/><path d="M292.4 334.6L298.6 337.9L305.4 339.9"/><path d="M363.3 356.2L369.4 357.7L376.0 358.3L370.0 357.1Z" fill="#92ff00" stroke="none"/><path d="M363.3 356.2L369.4 357.7L376.0 358.3" stroke-width="0.47"/><path d="M432.8 360.3L438.7 360.0L445.2 359.2L439.3 359.7Z" fill="#73ff00" stroke="none"/><path d="M432.8 360.3L438.7 360.0L445.2 359.2" stroke-width="0.29"/><path d="M420.3 360.8L426.2 360.8L432.8 360.3L426.8 360.5Z" fill="#6eff00" stroke="none"/><path d="M420.3 360.8L426.2 360.8L432.8 360.3" stroke-width="0.30"/><path d="M279.4 328.7L285.6 332.3L292.4 334.6L286.2 331.2Z" fill="#ff8d00" stroke="none"/><path d="M279.4 328.7L285.6 332.3L292.4 334.6"/><path d="M350.6 353.6L356.7 355.3L363.3 356.2L357.3 354.7Z" fill="#a9ff00" stroke="none"/><path d="M350.6 353.6L356.7 355.3L363.3 356.2" stroke-width="0.49"/><path d="M407.8 360.7L413.8 361.1L420.3 360.8L414.3 360.7Z" fill="#6eff00" stroke="none"/><path d="M407.8 360.7L413.8 361.1L420.3 360.8" stroke-width="0.32"/><path d="M337.8 350.3L344.0 352.4L350.6 353.6L344.5 351.7Z" fill="#c5ff00" stroke="none"/><path d="M337.8 350.3L344.0 352.4L350.6 353.6" stroke-width="0.51"/><path d="M325.0 346.4L331.1 348.8L337.8 350.3L331.7 348.1Z" fill="#e7ff00" stroke="none"/><path d="M325.0 346.4L331.1 348.8L337.8 350.3" stroke-width="0.54"/><path d="M395.2 360.1L401.2 360.7L407.8 360.7L401.8 360.4Z" fill="#74ff00" stroke="none"/><path d="M395.2 360.1L401.2 360.7L407.8 360.7" stroke-width="0.34"/><path d="M451.7 358.3L457.6 357.5L464.0 356.4L458.2 357.4Z" fill="#89ff00" stroke="none"/><path d="M451.7 358.3L457.6 357.5L464.0 356.4" stroke-width="0.20"/><path d="M312.1 341.9L318.3 344.7L325.0 346.4L318.9 343.9Z" fill="#fff300" stroke="none"/><path d="M312.1 341.9L318.3 344.7L325.0 346.4" stroke-width="0.56"/><path d="M382.6 358.9L388.6 359.8L395.2 360.1L389.2 359.5Z" fill="#7eff00" stroke="none"/><path d="M382.6 358.9L388.6 359.8L395.2 360.1" stroke-width="0.36"/><path d="M299.2 336.9L305.4 339.9L312.1 341.9L305.9 339.1Z" fill="#ffcb00" stroke="none"/><path d="M299.2 336.9L305.4 339.9L312.1 341.9" stroke-width="0.58"/><path d="M370.0 357.1L376.0 358.3L382.6 358.9L376.6 358.0Z" fill="#8eff00" stroke="none"/><path d="M370.0 357.1L376.0 358.3L382.6 358.9" stroke-width="0.38"/><path d="M439.3 359.7L445.2 359.2L451.7 358.3L445.8 359.1Z" fill="#7cff00" stroke="none"/><path d="M439.3 359.7L445.2 359.2L451.7 358.3" stroke-width="0.20"/><path d="M286.2 331.2L292.4 334.6L299.2 336.9L293.0 333.7Z" fill="#ff9e00" stroke="none"/><path d="M286.2 331.2L292.4 334.6L299.2 336.9" stroke-width="0.61"/><path d="M357.3 354.7L363.3 356.2L370.0 357.1L363.9 355.8Z" fill="#a2ff00" stroke="none"/><path d="M357.3 354.7L363.3 356.2L370.0 357.1" stroke-width="0.40"/><path d="M426.8 360.5L432.8 360.3L439.3 359.7L433.4 360.2Z" fill="#75ff00" stroke="none"/><path d="M426.8 360.5L432.8 360.3L439.3 359.7" stroke-width="0.20"/><path d="M414.3 360.7L420.3 360.8L426.8 360.5L420.9 360.7Z" fill="#72ff00" stroke="none"/><path d="M414.3 360.7L420.3 360.8L426.8 360.5" stroke-width="0.20"/><path d="M273.1 324.9L279.4 328.7L286.2 331.2L279.9 327.7Z" fill="#ff7000" stroke="none"/><path d="M273.1 324.9L279.4 328.7L286.2 331.2" stroke-width="0.64"/><path d="M344.5 351.7L350.6 353.6L357.3 354.7L351.2 353.1Z" fill="#bcff00" stroke="none"/><path d="M344.5 351.7L350.6 353.6L357.3 354.7" stroke-width="0.42"/><path d="M401.8 360.4L407.8 360.7L414.3 360.7L408.4 360.7Z" fill="#75ff00" stroke="none"/><path d="M401.8 360.4L407.8 360.7L414.3 360.7" stroke-width="0.20"/><path d="M331.7 348.1L337.8 350.3L344.5 351.7L338.4 349.8Z" fill="#dbff00" stroke="none"/><path d="M331.7 348.1L337.8 350.3L344.5 351.7" stroke-width="0.45"/><path d="M318.9 343.9L325.0 346.4L331.7 348.1L325.6 345.9Z" fill="#feff00" stroke="none"/><path d="M318.9 343.9L325.0 346.4L331.7 348.1" stroke-width="0.48"/><path d="M389.2 359.5L395.2 360.1L401.8 360.4L395.8 360.0Z" fill="#7dff00" stroke="none"/><path d="M389.2 359.5L395.2 360.1L401.8 360.4" stroke-width="0.21"/><path d="M458.2 357.4L464.0 356.4L470.5 355.2L464.7 356.5Z" fill="#94ff00" stroke="none"/><path d="M458.2 357.4L464.0 356.4L470.5 355.2" stroke-width="0.27"/><path d="M445.8 359.1L451.7 358.3L458.2 357.4L452.3 358.4Z" fill="#85ff00" stroke="none"/><path d="M445.8 359.1L451.7 358.3L458.2 357.4" stroke-width="0.26"/><path d="M305.9 339.1L312.1 341.9L318.9 343.9L312.7 341.4Z" fill="#ffdb00" stroke="none"/><path d="M305.9 339.1L312.1 341.9L318.9 343.9" stroke-width="0.50"/><path d="M376.6 358.0L382.6 358.9L389.2 359.5L383.2 358.8Z" fill="#8aff00" stroke="none"/><path d="M376.6 358.0L382.6 358.9L389.2 359.5" stroke-width="0.24"/><path d="M293.0 333.7L299.2 336.9L305.9 339.1L299.8 336.3Z" fill="#ffb000" stroke="none"/><path d="M293.0 333.7L299.2 336.9L305.9 339.1" stroke-width="0.53"/><path d="M363.9 355.8L370.0 357.1L376.6 358.0L370.6 357.0Z" fill="#9cff00" stroke="none"/><path d="M363.9 355.8L370.0 357.1L376.6 358.0" stroke-width="0.27"/><path d="M433.4 360.2L439.3 359.7L445.8 359.1L439.9 359.8Z" fill="#7bff00" stroke="none"/><path d="M433.4 360.2L439.3 359.7L445.8 359.1" stroke-width="0.25"/><path d="M279.9 327.7L286.2 331.2L293.0 333.7L286.8 330.5Z" fill="#ff8300" stroke="none"/><path d="M279.9 327.7L286.2 331.2L293.0 333.7" stroke-width="0.56"/><path d="M351.2 353.1L357.3 354.7L363.9 355.8L357.9 354.5Z" fill="#b3ff00" stroke="none"/><path d="M351.2 353.1L357.3 354.7L363.9 355.8" stroke-width="0.31"/><path d="M420.9 360.7L426.8 360.5L433.4 360.2L427.5 360.7Z" fill="#77ff00" stroke="none"/><path d="M420.9 360.7L426.8 360.5L433.4 360.2" stroke-width="0.24"/><path d="M408.4 360.7L414.3 360.7L420.9 360.7L415.0 360.9Z" fill="#77ff00" stroke="none"/><path d="M408.4 360.7L414.3 360.7L420.9 360.7" stroke-width="0.22"/><path d="M266.9 321.1L273.1 324.9L279.9 327.7L273.7 324.2Z" fill="#ff5300" stroke="none"/><path d="M266.9 321.1L273.1 324.9L279.9 327.7" stroke-width="0.59"/><path d="M338.4 349.8L344.5 351.7L351.2 353.1L345.1 351.5Z" fill="#d0ff00" stroke="none"/><path d="M338.4 349.8L344.5 351.7L351.2 353.1" stroke-width="0.34"/><path d="M395.8 360.0L401.8 360.4L408.4 360.7L402.5 360.6Z" fill="#7cff00" stroke="none"/><path d="M395.8 360.0L401.8 360.4L408.4 360.7" stroke-width="0.20"/><path d="M325.6 345.9L331.7 348.1L338.4 349.8L332.3 347.9Z" fill="#f1ff00" stroke="none"/><path d="M325.6 345.9L331.7 348.1L338.4 349.8" stroke-width="0.37"/><path d="M464.7 356.5L470.5 355.2L477.0 354.0L471.2 355.5Z" fill="#a1ff00" stroke="none"/><path d="M464.7 356.5L470.5 355.2L477.0 354.0" stroke-width="0.38"/><path d="M312.7 341.4L318.9 343.9L325.6 345.9L319.5 343.7Z" fill="#ffea00" stroke="none"/><path d="M312.7 341.4L318.9 343.9L325.6 345.9" stroke-width="0.41"/><path d="M383.2 358.8L389.2 359.5L395.8 360.0L389.9 359.6Z" fill="#87ff00" stroke="none"/><path d="M383.2 358.8L389.2 359.5L395.8 360.0" stroke-width="0.20"/><path d="M452.3 358.4L458.2 357.4L464.7 356.5L458.8 357.8Z" fill="#8fff00" stroke="none"/><path d="M452.3 358.4L458.2 357.4L464.7 356.5" stroke-width="0.38"/><path d="M439.9 359.8L445.8 359.1L452.3 358.4L446.5 359.5Z" fill="#82ff00" stroke="none"/><path d="M439.9 359.8L445.8 359.1L452.3 358.4" stroke-width="0.38"/><path d="M299.8 336.3L305.9 339.1L312.7 341.4L306.6 338.8Z" fill="#ffc200" stroke="none"/><path d="M299.8 336.3L305.9 339.1L312.7 341.4" stroke-width="0.44"/><path d="M370.6 357.0L376.6 358.0L383.2 358.8L377.2 358.1Z" fill="#96ff00" stroke="none"/><path d="M370.6 357.0L376.6 358.0L383.2 358.8" stroke-width="0.20"/><path d="M357.9 354.5L363.9 355.8L370.6 357.0L364.6 355.9Z" fill="#abff00" stroke="none"/><path d="M357.9 354.5L363.9 355.8L370.6 357.0" stroke-width="0.20"/><path d="M286.8 330.5L293.0 333.7L299.8 336.3L293.6 333.3Z" fill="#ff9500" stroke="none"/><path d="M286.8 330.5L293.0 333.7L299.8 336.3" stroke-width="0.47"/><path d="M427.5 360.7L433.4 360.2L439.9 359.8L434.0 360.6Z" fill="#7bff00" stroke="none"/><path d="M427.5 360.7L433.4 360.2L439.9 359.8" stroke-width="0.37"/><path d="M273.7 324.2L279.9 327.7L286.8 330.5L280.6 327.3Z" fill="#ff6700" stroke="none"/><path d="M273.7 324.2L279.9 327.7L286.8 330.5" stroke-width="0.51"/><path d="M345.1 351.5L351.2 353.1L357.9 354.5L351.8 353.2Z" fill="#c4ff00" stroke="none"/><path d="M345.1 351.5L351.2 353.1L357.9 354.5" stroke-width="0.20"/><path d="M415.0 360.9L420.9 360.7L427.5 360.7L421.6 361.1Z" fill="#79ff00" stroke="none"/><path d="M415.0 360.9L420.9 360.7L427.5 360.7" stroke-width="0.36"/><path d="M402.5 360.6L408.4 360.7L415.0 360.9L409.1 361.1Z" fill="#7bff00" stroke="none"/><path d="M402.5 360.6L408.4 360.7L415.0 360.9" stroke-width="0.35"/><path d="M471.2 355.5L477.0 354.0L483.5 352.7L477.7 354.5Z" fill="#adff00" stroke="none"/><path d="M471.2 355.5L477.0 354.0L483.5 352.7" stroke-width="0.47"/><path d="M260.6 317.2L266.9 321.1L273.7 324.2L267.5 320.6Z" fill="#ff3600" stroke="none"/><path d="M260.6 317.2L266.9 321.1L273.7 324.2" stroke-width="0.54"/><path d="M332.3 347.9L338.4 349.8L345.1 351.5L339.1 349.9Z" fill="#e3ff00" stroke="none"/><path d="M332.3 347.9L338.4 349.8L345.1 351.5" stroke-width="0.23"/><path d="M389.9 359.6L395.8 360.0L402.5 360.6L396.5 360.4Z" fill="#83ff00" stroke="none"/><path d="M389.9 359.6L395.8 360.0L402.5 360.6" stroke-width="0.33"/><path d="M319.5 343.7L325.6 345.9L332.3 347.9L326.2 345.9Z" fill="#fff900" stroke="none"/><path d="M319.5 343.7L325.6 345.9L332.3 347.9" stroke-width="0.28"/><path d="M458.8 357.8L464.7 356.5L471.2 355.5L465.4 357.1Z" fill="#99ff00" stroke="none"/><path d="M458.8 357.8L464.7 356.5L471.2 355.5" stroke-width="0.48"/><path d="M306.6 338.8L312.7 341.4L319.5 343.7L313.3 341.3Z" fill="#ffd300" stroke="none"/><path d="M306.6 338.8L312.7 341.4L319.5 343.7" stroke-width="0.32"/><path d="M377.2 358.1L383.2 358.8L389.9 359.6L383.9 359.2Z" fill="#90ff00" stroke="none"/><path d="M377.2 358.1L383.2 358.8L389.9 359.6" stroke-width="0.31"/><path d="M446.5 359.5L452.3 358.4L458.8 357.8L453.0 359.1Z" fill="#8aff00" stroke="none"/><path d="M446.5 359.5L452.3 358.4L458.8 357.8" stroke-width="0.47"/><path d="M434.0 360.6L439.9 359.8L446.5 359.5L440.6 360.5Z" fill="#80ff00" stroke="none"/><path d="M434.0 360.6L439.9 359.8L446.5 359.5" stroke-width="0.47"/><path d="M293.6 333.3L299.8 336.3L306.6 338.8L300.4 336.1Z" fill="#ffa800" stroke="none"/><path d="M293.6 333.3L299.8 336.3L306.6 338.8" stroke-width="0.36"/><path d="M364.6 355.9L370.6 357.0L377.2 358.1L371.2 357.3Z" fill="#a2ff00" stroke="none"/><path d="M364.6 355.9L370.6 357.0L377.2 358.1" stroke-width="0.28"/><path d="M351.8 353.2L357.9 354.5L364.6 355.9L358.5 354.9Z" fill="#b9ff00" stroke="none"/><path d="M351.8 353.2L357.9 354.5L364.6 355.9" stroke-width="0.24"/><path d="M280.6 327.3L286.8 330.5L293.6 333.3L287.4 330.3Z" fill="#ff7c00" stroke="none"/><path d="M280.6 327.3L286.8 330.5L293.6 333.3" stroke-width="0.40"/><path d="M421.6 361.1L427.5 360.7L434.0 360.6L428.2 361.3Z" fill="#7bff00" stroke="none"/><path d="M421.6 361.1L427.5 360.7L434.0 360.6" stroke-width="0.46"/><path d="M267.5 320.6L273.7 324.2L280.6 327.3L274.3 323.9Z" fill="#ff4c00" stroke="none"/><path d="M267.5 320.6L273.7 324.2L280.6 327.3" stroke-width="0.45"/><path d="M339.1 349.9L345.1 351.5L351.8 353.2L345.8 351.8Z" fill="#d6ff00" stroke="none"/><path d="M339.1 349.9L345.1 351.5L351.8 353.2" stroke-width="0.20"/><path d="M409.1 361.1L415.0 360.9L421.6 361.1L415.7 361.5Z" fill="#7bff00" stroke="none"/><path d="M409.1 361.1L415.0 360.9L421.6 361.1" stroke-width="0.45"/><path d="M477.7 354.5L483.5 352.7L490.0 351.4L484.2 353.5Z" fill="#baff00" stroke="none"/><path d="M477.7 354.5L483.5 352.7L490.0 351.4" stroke-width="0.55"/><path d="M396.5 360.4L402.5 360.6L409.1 361.1L403.1 361.2Z" fill="#80ff00" stroke="none"/><path d="M396.5 360.4L402.5 360.6L409.1 361.1" stroke-width="0.44"/><path d="M465.4 357.1L471.2 355.5L477.7 354.5L471.9 356.3Z" fill="#a3ff00" stroke="none"/><path d="M465.4 357.1L471.2 355.5L477.7 354.5" stroke-width="0.55"/><path d="M326.2 345.9L332.3 347.9L339.1 349.9L333.0 348.1Z" fill="#f6ff00" stroke="none"/><path d="M326.2 345.9L332.3 347.9L339.1 349.9" stroke-width="0.20"/><path d="M254.3 313.3L260.6 317.2L267.5 320.6L261.2 316.9Z" fill="#ff2400" stroke="none"/><path d="M254.3 313.3L260.6 317.2L267.5 320.6" stroke-width="0.48"/><path d="M383.9 359.2L389.9 359.6L396.5 360.4L390.6 360.2Z" fill="#8bff00" stroke="none"/><path d="M383.9 359.2L389.9 359.6L396.5 360.4" stroke-width="0.43"/><path d="M313.3 341.3L319.5 343.7L326.2 345.9L320.1 343.9Z" fill="#ffe400" stroke="none"/><path d="M313.3 341.3L319.5 343.7L326.2 345.9" stroke-width="0.20"/><path d="M453.0 359.1L458.8 357.8L465.4 357.1L459.6 358.6Z" fill="#91ff00" stroke="none"/><path d="M453.0 359.1L458.8 357.8L465.4 357.1" stroke-width="0.55"/><path d="M300.4 336.1L306.6 338.8L313.3 341.3L307.2 338.9Z" fill="#ffbc00" stroke="none"/><path d="M300.4 336.1L306.6 338.8L313.3 341.3" stroke-width="0.20"/><path d="M371.2 357.3L377.2 358.1L383.9 359.2L377.9 358.7Z" fill="#9aff00" stroke="none"/><path d="M371.2 357.3L377.2 358.1L383.9 359.2" stroke-width="0.41"/><path d="M440.6 360.5L446.5 359.5L453.0 359.1L447.2 360.3Z" fill="#84ff00" stroke="none"/><path d="M440.6 360.5L446.5 359.5L453.0 359.1" stroke-width="0.55"/><path d="M428.2 361.3L434.0 360.6L440.6 360.5L434.7 361.5Z" fill="#7dff00" stroke="none"/><path d="M428.2 361.3L434.0 360.6L440.6 360.5" stroke-width="0.54"/><path d="M287.4 330.3L293.6 333.3L300.4 336.1L294.2 333.4Z" fill="#ff9000" stroke="none"/><path d="M287.4 330.3L293.6 333.3L300.4 336.1" stroke-width="0.26"/><path d="M358.5 354.9L364.6 355.9L371.2 357.3L365.2 356.5Z" fill="#afff00" stroke="none"/><path d="M358.5 354.9L364.6 355.9L371.2 357.3" stroke-width="0.38"/><path d="M274.3 323.9L280.6 327.3L287.4 330.3L281.2 327.3Z" fill="#ff6200" stroke="none"/><path d="M274.3 323.9L280.6 327.3L287.4 330.3" stroke-width="0.32"/><path d="M345.8 351.8L351.8 353.2L358.5 354.9L352.5 353.8Z" fill="#c8ff00" stroke="none"/><path d="M345.8 351.8L351.8 353.2L358.5 354.9" stroke-width="0.36"/><path d="M415.7 361.5L421.6 361.1L428.2 361.3L422.3 362.0Z" fill="#7bff00" stroke="none"/><path d="M415.7 361.5L421.6 361.1L428.2 361.3" stroke-width="0.54"/><path d="M484.2 353.5L490.0 351.4L496.5 350.1L490.7 352.4Z" fill="#c6ff00" stroke="none"/><path d="M484.2 353.5L490.0 351.4L496.5 350.1" stroke-width="0.62"/><path d="M333.0 348.1L339.1 349.9L345.8 351.8L339.7 350.4Z" fill="#e7ff00" stroke="none"/><path d="M333.0 348.1L339.1 349.9L345.8 351.8" stroke-width="0.33"/><path d="M403.1 361.2L409.1 361.1L415.7 361.5L409.8 361.9Z" fill="#7dff00" stroke="none"/><path d="M403.1 361.2L409.1 361.1L415.7 361.5" stroke-width="0.53"/><path d="M471.9 356.3L477.7 354.5L484.2 353.5L478.4 355.6Z" fill="#adff00" stroke="none"/><path d="M471.9 356.3L477.7 354.5L484.2 353.5" stroke-width="0.62"/><path d="M261.2 316.9L267.5 320.6L274.3 323.9L268.1 320.5Z" fill="#ff3100" stroke="none"/><path d="M261.2 316.9L267.5 320.6L274.3 323.9" stroke-width="0.37"/><path d="M390.6 360.2L396.5 360.4L403.1 361.2L397.2 361.3Z" fill="#85ff00" stroke="none"/><path d="M390.6 360.2L396.5 360.4L403.1 361.2" stroke-width="0.52"/><path d="M459.6 358.6L465.4 357.1L471.9 356.3L466.1 358.2Z" fill="#99ff00" stroke="none"/><path d="M459.6 358.6L465.4 357.1L471.9 356.3" stroke-width="0.62"/><path d="M248.1 309.2L254.3 313.3L261.2 316.9L255.0 313.1Z" fill="#ff1b00" stroke="none"/><path d="M248.1 309.2L254.3 313.3L261.2 316.9" stroke-width="0.42"/><path d="M320.1 343.9L326.2 345.9L333.0 348.1L326.9 346.4Z" fill="#fff500" stroke="none"/><path d="M320.1 343.9L326.2 345.9L333.0 348.1" stroke-width="0.28"/><path d="M377.9 358.7L383.9 359.2L390.6 360.2L384.6 360.0Z" fill="#92ff00" stroke="none"/><path d="M377.9 358.7L383.9 359.2L390.6 360.2" stroke-width="0.50"/><path d="M307.2 338.9L313.3 341.3L320.1 343.9L314.0 341.7Z" fill="#ffd000" stroke="none"/><path d="M307.2 338.9L313.3 341.3L320.1 343.9" stroke-width="0.23"/><path d="M447.2 360.3L453.0 359.1L459.6 358.6L453.7 360.2Z" fill="#8aff00" stroke="none"/><path d="M447.2 360.3L453.0 359.1L459.6 358.6" stroke-width="0.62"/><path d="M294.2 333.4L300.4 336.1L307.2 338.9L301.1 336.5Z" fill="#ffa500" stroke="none"/><path d="M294.2 333.4L300.4 336.1L307.2 338.9" stroke-width="0.20"/><path d="M365.2 356.5L371.2 357.3L377.9 358.7L372.0 358.2Z" fill="#a4ff00" stroke="none"/><path d="M365.2 356.5L371.2 357.3L377.9 358.7" stroke-width="0.49"/><path d="M434.7 361.5L440.6 360.5L447.2 360.3L441.3 361.6Z" fill="#7fff00" stroke="none"/><path d="M434.7 361.5L440.6 360.5L447.2 360.3" stroke-width="0.62"/><path d="M422.3 362.0L428.2 361.3L434.7 361.5L428.9 362.4Z" fill="#7bff00" stroke="none"/><path d="M422.3 362.0L428.2 361.3L434.7 361.5" stroke-width="0.61"/><path d="M490.7 352.4L496.5 350.1L502.9 348.7L497.2 351.3Z" fill="#d3ff00" stroke="none"/><path d="M490.7 352.4L496.5 350.1L502.9 348.7"/><path d="M281.2 327.3L287.4 330.3L294.2 333.4L288.1 330.6Z" fill="#ff7900" stroke="none"/><path d="M281.2 327.3L287.4 330.3L294.2 333.4" stroke-width="0.20"/><path d="M352.5 353.8L358.5 354.9L365.2 356.5L359.2 355.7Z" fill="#bbff00" stroke="none"/><path d="M352.5 353.8L358.5 354.9L365.2 356.5" stroke-width="0.47"/><path d="M339.7 350.4L345.8 351.8L352.5 353.8L346.5 352.6Z" fill="#d7ff00" stroke="none"/><path d="M339.7 350.4L345.8 351.8L352.5 353.8" stroke-width="0.44"/><path d="M268.1 320.5L274.3 323.9L281.2 327.3L275.0 324.2Z" fill="#ff4900" stroke="none"/><path d="M268.1 320.5L274.3 323.9L281.2 327.3" stroke-width="0.20"/><path d="M409.8 361.9L415.7 361.5L422.3 362.0L416.4 362.7Z" fill="#7bff00" stroke="none"/><path d="M409.8 361.9L415.7 361.5L422.3 362.0" stroke-width="0.61"/><path d="M478.4 355.6L484.2 353.5L490.7 352.4L484.9 354.8Z" fill="#b7ff00" stroke="none"/><path d="M478.4 355.6L484.2 353.5L490.7 352.4"/><path d="M255.0 313.1L261.2 316.9L268.1 320.5L261.9 317.0Z" fill="#ff2300" stroke="none"/><path d="M255.0 313.1L261.2 316.9L268.1 320.5" stroke-width="0.28"/><path d="M326.9 346.4L333.0 348.1L339.7 350.4L333.7 348.9Z" fill="#f8ff00" stroke="none"/><path d="M326.9 346.4L333.0 348.1L339.7 350.4" stroke-width="0.42"/><path d="M397.2 361.3L403.1 361.2L409.8 361.9L403.9 362.3Z" fill="#80ff00" stroke="none"/><path d="M397.2 361.3L403.1 361.2L409.8 361.9" stroke-width="0.60"/><path d="M466.1 358.2L471.9 356.3L478.4 355.6L472.6 357.7Z" fill="#a1ff00" stroke="none"/><path d="M466.1 358.2L471.9 356.3L478.4 355.6"/><path d="M384.6 360.0L390.6 360.2L397.2 361.3L391.3 361.4Z" fill="#8aff00" stroke="none"/><path d="M384.6 360.0L390.6 360.2L397.2 361.3" stroke-width="0.59"/><path d="M453.7 360.2L459.6 358.6L466.1 358.2L460.3 360.0Z" fill="#8fff00" stroke="none"/><path d="M453.7 360.2L459.6 358.6L466.1 358.2"/><path d="M241.8 305.1L248.1 309.2L255.0 313.1L248.7 309.3Z" fill="#ff1200" stroke="none"/><path d="M241.8 305.1L248.1 309.2L255.0 313.1" stroke-width="0.34"/><path d="M314.0 341.7L320.1 343.9L326.9 346.4L320.8 344.6Z" fill="#ffe300" stroke="none"/><path d="M314.0 341.7L320.1 343.9L326.9 346.4" stroke-width="0.38"/><path d="M372.0 358.2L377.9 358.7L384.6 360.0L378.7 359.8Z" fill="#9aff00" stroke="none"/><path d="M372.0 358.2L377.9 358.7L384.6 360.0" stroke-width="0.57"/><path d="M301.1 336.5L307.2 338.9L314.0 341.7L307.9 339.6Z" fill="#ffbb00" stroke="none"/><path d="M301.1 336.5L307.2 338.9L314.0 341.7" stroke-width="0.35"/><path d="M441.3 361.6L447.2 360.3L453.7 360.2L447.9 361.7Z" fill="#82ff00" stroke="none"/><path d="M441.3 361.6L447.2 360.3L453.7 360.2"/><path d="M288.1 330.6L294.2 333.4L301.1 336.5L294.9 334.0Z" fill="#ff8f00" stroke="none"/><path d="M288.1 330.6L294.2 333.4L301.1 336.5" stroke-width="0.30"/><path d="M359.2 355.7L365.2 356.5L372.0 358.2L366.0 357.6Z" fill="#aeff00" stroke="none"/><path d="M359.2 355.7L365.2 356.5L372.0 358.2" stroke-width="0.56"/><path d="M428.9 362.4L434.7 361.5L441.3 361.6L435.5 362.9Z" fill="#7bff00" stroke="none"/><path d="M428.9 362.4L434.7 361.5L441.3 361.6"/><path d="M497.2 351.3L502.9 348.7L509.4 347.3L503.7 350.2Z" fill="#e1ff00" stroke="none"/><path d="M497.2 351.3L502.9 348.7L509.4 347.3"/><path d="M416.4 362.7L422.3 362.0L428.9 362.4L423.0 363.4Z" fill="#78ff00" stroke="none"/><path d="M416.4 362.7L422.3 362.0L428.9 362.4"/><path d="M484.9 354.8L490.7 352.4L497.2 351.3L491.5 353.9Z" fill="#c2ff00" stroke="none"/><path d="M484.9 354.8L490.7 352.4L497.2 351.3"/><path d="M275.0 324.2L281.2 327.3L288.1 330.6L281.9 327.8Z" fill="#ff6100" stroke="none"/><path d="M275.0 324.2L281.2 327.3L288.1 330.6" stroke-width="0.24"/><path d="M346.5 352.6L352.5 353.8L359.2 355.7L353.2 354.8Z" fill="#c8ff00" stroke="none"/><path d="M346.5 352.6L352.5 353.8L359.2 355.7" stroke-width="0.54"/><path d="M333.7 348.9L339.7 350.4L346.5 352.6L340.5 351.4Z" fill="#e7ff00" stroke="none"/><path d="M333.7 348.9L339.7 350.4L346.5 352.6" stroke-width="0.52"/><path d="M261.9 317.0L268.1 320.5L275.0 324.2L268.8 321.0Z" fill="#ff2f00" stroke="none"/><path d="M261.9 317.0L268.1 320.5L275.0 324.2" stroke-width="0.20"/><path d="M403.9 362.3L409.8 361.9L416.4 362.7L410.5 363.4Z" fill="#7bff00" stroke="none"/><path d="M403.9 362.3L409.8 361.9L416.4 362.7"/><path d="M472.6 357.7L478.4 355.6L484.9 354.8L479.2 357.1Z" fill="#a9ff00" stroke="none"/><path d="M472.6 357.7L478.4 355.6L484.9 354.8"/><path d="M248.7 309.3L255.0 313.1L261.9 317.0L255.7 313.5Z" fill="#ff1a00" stroke="none"/><path d="M248.7 309.3L255.0 313.1L261.9 317.0" stroke-width="0.20"/><path d="M320.8 344.6L326.9 346.4L333.7 348.9L327.6 347.4Z" fill="#fff600" stroke="none"/><path d="M320.8 344.6L326.9 346.4L333.7 348.9" stroke-width="0.49"/><path d="M391.3 361.4L397.2 361.3L403.9 362.3L398.0 362.7Z" fill="#83ff00" stroke="none"/><path d="M391.3 361.4L397.2 361.3L403.9 362.3"/><path d="M460.3 360.0L466.1 358.2L472.6 357.7L466.9 359.7Z" fill="#94ff00" stroke="none"/><path d="M460.3 360.0L466.1 358.2L472.6 357.7"/><path d="M378.7 359.8L384.6 360.0L391.3 361.4L385.4 361.4Z" fill="#90ff00" stroke="none"/><path d="M378.7 359.8L384.6 360.0L391.3 361.4"/><path d="M447.9 361.7L453.7 360.2L460.3 360.0L454.5 361.8Z" fill="#85ff00" stroke="none"/><path d="M447.9 361.7L453.7 360.2L460.3 360.0"/><path d="M235.5 300.9L241.8 305.1L248.7 309.3L242.5 305.4Z" fill="#ff0900" stroke="none"/><path d="M235.5 300.9L241.8 305.1L248.7 309.3M242.5 305.4L235.5 300.9" stroke-width="0.24"/><path d="M307.9 339.6L314.0 341.7L320.8 344.6L314.7 342.7Z" fill="#ffd000" stroke="none"/><path d="M307.9 339.6L314.0 341.7L320.8 344.6" stroke-width="0.46"/><path d="M366.0 357.6L372.0 358.2L378.7 359.8L372.7 359.5Z" fill="#a2ff00" stroke="none"/><path d="M366.0 357.6L372.0 358.2L378.7 359.8" stroke-width="0.63"/><path d="M294.9 334.0L301.1 336.5L307.9 339.6L301.8 337.4Z" fill="#ffa500" stroke="none"/><path d="M294.9 334.0L301.1 336.5L307.9 339.6" stroke-width="0.43"/><path d="M435.5 362.9L441.3 361.6L447.9 361.7L442.1 363.2Z" fill="#7bff00" stroke="none"/><path d="M435.5 362.9L441.3 361.6L447.9 361.7"/><path d="M503.7 350.2L509.4 347.3L515.9 345.8L510.2 349.0Z" fill="#eeff00" stroke="none"/><path d="M503.7 350.2L509.4 347.3L515.9 345.8L510.2 349.0"/><path d="M353.2 354.8L359.2 355.7L366.0 357.6L360.0 357.0Z" fill="#b9ff00" stroke="none"/><path d="M353.2 354.8L359.2 355.7L366.0 357.6" stroke-width="0.62"/><path d="M423.0 363.4L428.9 362.4L435.5 362.9L429.7 364.1Z" fill="#76ff00" stroke="none"/><path d="M423.0 363.4L428.9 362.4L435.5 362.9"/><path d="M491.5 353.9L497.2 351.3L503.7 350.2L498.0 353.1Z" fill="#cdff00" stroke="none"/><path d="M491.5 353.9L497.2 351.3L503.7 350.2"/><path d="M281.9 327.8L288.1 330.6L294.9 334.0L288.8 331.4Z" fill="#ff7900" stroke="none"/><path d="M281.9 327.8L288.1 330.6L294.9 334.0" stroke-width="0.39"/><path d="M410.5 363.4L416.4 362.7L423.0 363.4L417.2 364.3Z" fill="#76ff00" stroke="none"/><path d="M410.5 363.4L416.4 362.7L423.0 363.4"/><path d="M479.2 357.1L484.9 354.8L491.5 353.9L485.7 356.6Z" fill="#b1ff00" stroke="none"/><path d="M479.2 357.1L484.9 354.8L491.5 353.9"/><path d="M268.8 321.0L275.0 324.2L281.9 327.8L275.8 324.9Z" fill="#ff4900" stroke="none"/><path d="M268.8 321.0L275.0 324.2L281.9 327.8" stroke-width="0.35"/><path d="M340.5 351.4L346.5 352.6L353.2 354.8L347.2 353.9Z" fill="#d5ff00" stroke="none"/><path d="M340.5 351.4L346.5 352.6L353.2 354.8" stroke-width="0.60"/><path d="M255.7 313.5L261.9 317.0L268.8 321.0L262.6 317.7Z" fill="#ff2300" stroke="none"/><path d="M255.7 313.5L261.9 317.0L268.8 321.0" stroke-width="0.29"/><path d="M327.6 347.4L333.7 348.9L340.5 351.4L334.4 350.2Z" fill="#f5ff00" stroke="none"/><path d="M327.6 347.4L333.7 348.9L340.5 351.4" stroke-width="0.58"/><path d="M398.0 362.7L403.9 362.3L410.5 363.4L404.6 364.0Z" fill="#7bff00" stroke="none"/><path d="M398.0 362.7L403.9 362.3L410.5 363.4"/><path d="M466.9 359.7L472.6 357.7L479.2 357.1L473.4 359.5Z" fill="#9aff00" stroke="none"/><path d="M466.9 359.7L472.6 357.7L479.2 357.1"/><path d="M314.7 342.7L320.8 344.6L327.6 347.4L321.6 345.8Z" fill="#ffe500" stroke="none"/><path d="M314.7 342.7L320.8 344.6L327.6 347.4" stroke-width="0.56"/><path d="M385.4 361.4L391.3 361.4L398.0 362.7L392.1 363.0Z" fill="#86ff00" stroke="none"/><path d="M385.4 361.4L391.3 361.4L398.0 362.7"/><path d="M454.5 361.8L460.3 360.0L466.9 359.7L461.1 361.8Z" fill="#88ff00" stroke="none"/><path d="M454.5 361.8L460.3 360.0L466.9 359.7"/><path d="M242.5 305.4L248.7 309.3L255.7 313.5L249.5 309.9Z" fill="#ff1200" stroke="none"/><path d="M242.5 305.4L248.7 309.3L255.7 313.5M249.5 309.9L242.5 305.4" stroke-width="0.21"/><path d="M372.7 359.5L378.7 359.8L385.4 361.4L379.4 361.4Z" fill="#95ff00" stroke="none"/><path d="M372.7 359.5L378.7 359.8L385.4 361.4"/><path d="M442.1 363.2L447.9 361.7L454.5 361.8L448.7 363.6Z" fill="#7cff00" stroke="none"/><path d="M442.1 363.2L447.9 361.7L454.5 361.8"/><path d="M301.8 337.4L307.9 339.6L314.7 342.7L308.7 340.8Z" fill="#ffbd00" stroke="none"/><path d="M301.8 337.4L307.9 339.6L314.7 342.7" stroke-width="0.53"/><path d="M360.0 357.0L366.0 357.6L372.7 359.5L366.8 359.2Z" fill="#aaff00" stroke="none"/><path d="M360.0 357.0L366.0 357.6L372.7 359.5"/><path d="M288.8 331.4L294.9 334.0L301.8 337.4L295.7 335.1Z" fill="#ff9100" stroke="none"/><path d="M288.8 331.4L294.9 334.0L301.8 337.4" stroke-width="0.50"/><path d="M429.7 364.1L435.5 362.9L442.1 363.2L436.3 364.8Z" fill="#74ff00" stroke="none"/><path d="M429.7 364.1L435.5 362.9L442.1 363.2"/><path d="M498.0 353.1L503.7 350.2L510.2 349.0L504.5 352.1Z" fill="#d8ff00" stroke="none"/><path d="M498.0 353.1L503.7 350.2L510.2 349.0L504.5 352.1"/><path d="M275.8 324.9L281.9 327.8L288.8 331.4L282.7 328.8Z" fill="#ff6300" stroke="none"/><path d="M275.8 324.9L281.9 327.8L288.8 331.4" stroke-width="0.47"/><path d="M347.2 353.9L353.2 354.8L360.0 357.0L354.0 356.4Z" fill="#c3ff00" stroke="none"/><path d="M347.2 353.9L353.2 354.8L360.0 357.0"/><path d="M417.2 364.3L423.0 363.4L429.7 364.1L423.8 365.3Z" fill="#72ff00" stroke="none"/><path d="M417.2 364.3L423.0 363.4L429.7 364.1"/><path d="M485.7 356.6L491.5 353.9L498.0 353.1L492.3 356.0Z" fill="#b9ff00" stroke="none"/><path d="M485.7 356.6L491.5 353.9L498.0 353.1"/><path d="M262.6 317.7L268.8 321.0L275.8 324.9L269.6 321.9Z" fill="#ff3200" stroke="none"/><path d="M262.6 317.7L268.8 321.0L275.8 324.9" stroke-width="0.43"/><path d="M404.6 364.0L410.5 363.4L417.2 364.3L411.3 365.3Z" fill="#74ff00" stroke="none"/><path d="M404.6 364.0L410.5 363.4L417.2 364.3"/><path d="M473.4 359.5L479.2 357.1L485.7 356.6L480.0 359.2Z" fill="#a0ff00" stroke="none"/><path d="M473.4 359.5L479.2 357.1L485.7 356.6"/><path d="M334.4 350.2L340.5 351.4L347.2 353.9L341.2 353.0Z" fill="#e2ff00" stroke="none"/><path d="M334.4 350.2L340.5 351.4L347.2 353.9"/><path d="M321.6 345.8L327.6 347.4L334.4 350.2L328.4 348.9Z" fill="#fffa00" stroke="none"/><path d="M321.6 345.8L327.6 347.4L334.4 350.2" stroke-width="0.64"/><path d="M249.5 309.9L255.7 313.5L262.6 317.7L256.4 314.4Z" fill="#ff1b00" stroke="none"/><path d="M249.5 309.9L255.7 313.5L262.6 317.7M256.4 314.4L249.5 309.9" stroke-width="0.38"/><path d="M392.1 363.0L398.0 362.7L404.6 364.0L398.8 364.6Z" fill="#7cff00" stroke="none"/><path d="M392.1 363.0L398.0 362.7L404.6 364.0"/><path d="M461.1 361.8L466.9 359.7L473.4 359.5L467.7 361.9Z" fill="#8cff00" stroke="none"/><path d="M461.1 361.8L466.9 359.7L473.4 359.5"/><path d="M308.7 340.8L314.7 342.7L321.6 345.8L315.5 344.1Z" fill="#ffd400" stroke="none"/><path d="M308.7 340.8L314.7 342.7L321.6 345.8" stroke-width="0.62"/><path d="M379.4 361.4L385.4 361.4L392.1 363.0L386.2 363.3Z" fill="#89ff00" stroke="none"/><path d="M379.4 361.4L385.4 361.4L392.1 363.0"/><path d="M448.7 363.6L454.5 361.8L461.1 361.8L455.3 363.9Z" fill="#7cff00" stroke="none"/><path d="M448.7 363.6L454.5 361.8L461.1 361.8"/><path d="M366.8 359.2L372.7 359.5L379.4 361.4L373.5 361.4Z" fill="#9bff00" stroke="none"/><path d="M366.8 359.2L372.7 359.5L379.4 361.4"/><path d="M436.3 364.8L442.1 363.2L448.7 363.6L442.9 365.4Z" fill="#72ff00" stroke="none"/><path d="M436.3 364.8L442.1 363.2L448.7 363.6"/><path d="M295.7 335.1L301.8 337.4L308.7 340.8L302.6 338.8Z" fill="#ffaa00" stroke="none"/><path d="M295.7 335.1L301.8 337.4L308.7 340.8" stroke-width="0.60"/><path d="M354.0 356.4L360.0 357.0L366.8 359.2L360.8 358.9Z" fill="#b2ff00" stroke="none"/><path d="M354.0 356.4L360.0 357.0L366.8 359.2"/><path d="M282.7 328.8L288.8 331.4L295.7 335.1L289.6 332.8Z" fill="#ff7d00" stroke="none"/><path d="M282.7 328.8L288.8 331.4L295.7 335.1" stroke-width="0.57"/><path d="M423.8 365.3L429.7 364.1L436.3 364.8L430.5 366.3Z" fill="#6dff00" stroke="none"/><path d="M423.8 365.3L429.7 364.1L436.3 364.8"/><path d="M492.3 356.0L498.0 353.1L504.5 352.1L498.8 355.3Z" fill="#c2ff00" stroke="none"/><path d="M492.3 356.0L498.0 353.1L504.5 352.1L498.8 355.3"/><path d="M269.6 321.9L275.8 324.9L282.7 328.8L276.5 326.2Z" fill="#ff4e00" stroke="none"/><path d="M269.6 321.9L275.8 324.9L282.7 328.8" stroke-width="0.54"/><path d="M341.2 353.0L347.2 353.9L354.0 356.4L348.0 355.7Z" fill="#ceff00" stroke="none"/><path d="M341.2 353.0L347.2 353.9L354.0 356.4"/><path d="M411.3 365.3L417.2 364.3L423.8 365.3L418.0 366.5Z" fill="#6dff00" stroke="none"/><path d="M411.3 365.3L417.2 364.3L423.8 365.3"/><path d="M480.0 359.2L485.7 356.6L492.3 356.0L486.6 358.9Z" fill="#a6ff00" stroke="none"/><path d="M480.0 359.2L485.7 356.6L492.3 356.0"/><path d="M398.8 364.6L404.6 364.0L411.3 365.3L405.5 366.2Z" fill="#73ff00" stroke="none"/><path d="M398.8 364.6L404.6 364.0L411.3 365.3"/><path d="M467.7 361.9L473.4 359.5L480.0 359.2L474.3 361.9Z" fill="#8fff00" stroke="none"/><path d="M467.7 361.9L473.4 359.5L480.0 359.2"/><path d="M256.4 314.4L262.6 317.7L269.6 321.9L263.4 318.9Z" fill="#ff2400" stroke="none"/><path d="M256.4 314.4L262.6 317.7L269.6 321.9M263.4 318.9L256.4 314.4" stroke-width="0.50"/><path d="M328.4 348.9L334.4 350.2L341.2 353.0L335.2 352.0Z" fill="#efff00" stroke="none"/><path d="M328.4 348.9L334.4 350.2L341.2 353.0"/><path d="M315.5 344.1L321.6 345.8L328.4 348.9L322.4 347.5Z" fill="#ffec00" stroke="none"/><path d="M315.5 344.1L321.6 345.8L328.4 348.9"/><path d="M386.2 363.3L392.1 363.0L398.8 364.6L392.9 365.2Z" fill="#7dff00" stroke="none"/><path d="M386.2 363.3L392.1 363.0L398.8 364.6"/><path d="M455.3 363.9L461.1 361.8L467.7 361.9L461.9 364.3Z" fill="#7dff00" stroke="none"/><path d="M455.3 363.9L461.1 361.8L467.7 361.9"/><path d="M373.5 361.4L379.4 361.4L386.2 363.3L380.3 363.6Z" fill="#8cff00" stroke="none"/><path d="M373.5 361.4L379.4 361.4L386.2 363.3"/><path d="M442.9 365.4L448.7 363.6L455.3 363.9L449.6 366.0Z" fill="#71ff00" stroke="none"/><path d="M442.9 365.4L448.7 363.6L455.3 363.9"/><path d="M302.6 338.8L308.7 340.8L315.5 344.1L309.5 342.5Z" fill="#ffc300" stroke="none"/><path d="M302.6 338.8L308.7 340.8L315.5 344.1"/><path d="M360.8 358.9L366.8 359.2L373.5 361.4L367.6 361.4Z" fill="#a1ff00" stroke="none"/><path d="M360.8 358.9L366.8 359.2L373.5 361.4"/><path d="M430.5 366.3L436.3 364.8L442.9 365.4L437.1 367.2Z" fill="#69ff00" stroke="none"/><path d="M430.5 366.3L436.3 364.8L442.9 365.4"/><path d="M289.6 332.8L295.7 335.1L302.6 338.8L296.5 336.8Z" fill="#ff9700" stroke="none"/><path d="M289.6 332.8L295.7 335.1L302.6 338.8"/><path d="M276.5 326.2L282.7 328.8L289.6 332.8L283.5 330.4Z" fill="#ff6900" stroke="none"/><path d="M276.5 326.2L282.7 328.8L289.6 332.8" stroke-width="0.63"/><path d="M348.0 355.7L354.0 356.4L360.8 358.9L354.8 358.5Z" fill="#baff00" stroke="none"/><path d="M348.0 355.7L354.0 356.4L360.8 358.9"/><path d="M418.0 366.5L423.8 365.3L430.5 366.3L424.7 367.8Z" fill="#67ff00" stroke="none"/><path d="M418.0 366.5L423.8 365.3L430.5 366.3"/><path d="M486.6 358.9L492.3 356.0L498.8 355.3L493.1 358.6Z" fill="#adff00" stroke="none"/><path d="M486.6 358.9L492.3 356.0L498.8 355.3L493.1 358.6"/><path d="M335.2 352.0L341.2 353.0L348.0 355.7L342.1 355.0Z" fill="#d9ff00" stroke="none"/><path d="M335.2 352.0L341.2 353.0L348.0 355.7"/><path d="M405.5 366.2L411.3 365.3L418.0 366.5L412.2 367.8Z" fill="#69ff00" stroke="none"/><path d="M405.5 366.2L411.3 365.3L418.0 366.5"/><path d="M474.3 361.9L480.0 359.2L486.6 358.9L480.9 361.8Z" fill="#93ff00" stroke="none"/><path d="M474.3 361.9L480.0 359.2L486.6 358.9"/><path d="M263.4 318.9L269.6 321.9L276.5 326.2L270.4 323.4Z" fill="#ff3800" stroke="none"/><path d="M263.4 318.9L269.6 321.9L276.5 326.2M270.4 323.4L263.4 318.9" stroke-width="0.60"/><path d="M392.9 365.2L398.8 364.6L405.5 366.2L399.6 367.1Z" fill="#71ff00" stroke="none"/><path d="M392.9 365.2L398.8 364.6L405.5 366.2"/><path d="M461.9 364.3L467.7 361.9L474.3 361.9L468.5 364.5Z" fill="#7fff00" stroke="none"/><path d="M461.9 364.3L467.7 361.9L474.3 361.9"/><path d="M322.4 347.5L328.4 348.9L335.2 352.0L329.2 350.9Z" fill="#fbff00" stroke="none"/><path d="M322.4 347.5L328.4 348.9L335.2 352.0"/><path d="M309.5 342.5L315.5 344.1L322.4 347.5L316.4 346.1Z" fill="#ffdd00" stroke="none"/><path d="M309.5 342.5L315.5 344.1L322.4 347.5"/><path d="M380.3 363.6L386.2 363.3L392.9 365.2L387.0 365.8Z" fill="#7eff00" stroke="none"/><path d="M380.3 363.6L386.2 363.3L392.9 365.2"/><path d="M449.6 366.0L455.3 363.9L461.9 364.3L456.2 366.6Z" fill="#6fff00" stroke="none"/><path d="M449.6 366.0L455.3 363.9L461.9 364.3"/><path d="M296.5 336.8L302.6 338.8L309.5 342.5L303.4 340.7Z" fill="#ffb200" stroke="none"/><path d="M296.5 336.8L302.6 338.8L309.5 342.5"/><path d="M367.6 361.4L373.5 361.4L380.3 363.6L374.3 363.9Z" fill="#90ff00" stroke="none"/><path d="M367.6 361.4L373.5 361.4L380.3 363.6"/><path d="M437.1 367.2L442.9 365.4L449.6 366.0L443.8 368.1Z" fill="#65ff00" stroke="none"/><path d="M437.1 367.2L442.9 365.4L449.6 366.0"/><path d="M354.8 358.5L360.8 358.9L367.6 361.4L361.6 361.3Z" fill="#a7ff00" stroke="none"/><path d="M354.8 358.5L360.8 358.9L367.6 361.4"/><path d="M424.7 367.8L430.5 366.3L437.1 367.2L431.3 369.0Z" fill="#5eff00" stroke="none"/><path d="M424.7 367.8L430.5 366.3L437.1 367.2"/><path d="M283.5 330.4L289.6 332.8L296.5 336.8L290.4 334.7Z" fill="#ff8500" stroke="none"/><path d="M283.5 330.4L289.6 332.8L296.5 336.8"/><path d="M342.1 355.0L348.0 355.7L354.8 358.5L348.9 358.1Z" fill="#c3ff00" stroke="none"/><path d="M342.1 355.0L348.0 355.7L354.8 358.5"/><path d="M270.4 323.4L276.5 326.2L283.5 330.4L277.4 328.0Z" fill="#ff5500" stroke="none"/><path d="M270.4 323.4L276.5 326.2L283.5 330.4M277.4 328.0L270.4 323.4"/><path d="M412.2 367.8L418.0 366.5L424.7 367.8L418.9 369.3Z" fill="#5eff00" stroke="none"/><path d="M412.2 367.8L418.0 366.5L424.7 367.8"/><path d="M480.9 361.8L486.6 358.9L493.1 358.6L487.5 361.8Z" fill="#97ff00" stroke="none"/><path d="M480.9 361.8L486.6 358.9L493.1 358.6L487.5 361.8"/><path d="M329.2 350.9L335.2 352.0L342.1 355.0L336.1 354.3Z" fill="#e4ff00" stroke="none"/><path d="M329.2 350.9L335.2 352.0L342.1 355.0"/><path d="M399.6 367.1L405.5 366.2L412.2 367.8L406.3 369.0Z" fill="#65ff00" stroke="none"/><path d="M399.6 367.1L405.5 366.2L412.2 367.8"/><path d="M468.5 364.5L474.3 361.9L480.9 361.8L475.2 364.8Z" fill="#80ff00" stroke="none"/><path d="M468.5 364.5L474.3 361.9L480.9 361.8"/><path d="M387.0 365.8L392.9 365.2L399.6 367.1L393.7 368.0Z" fill="#70ff00" stroke="none"/><path d="M387.0 365.8L392.9 365.2L399.6 367.1"/><path d="M456.2 366.6L461.9 364.3L468.5 364.5L462.8 367.2Z" fill="#6eff00" stroke="none"/><path d="M456.2 366.6L461.9 364.3L468.5 364.5"/><path d="M316.4 346.1L322.4 347.5L329.2 350.9L323.2 349.8Z" fill="#fff600" stroke="none"/><path d="M316.4 346.1L322.4 347.5L329.2 350.9"/><path d="M303.4 340.7L309.5 342.5L316.4 346.1L310.3 344.7Z" fill="#ffce00" stroke="none"/><path d="M303.4 340.7L309.5 342.5L316.4 346.1"/><path d="M374.3 363.9L380.3 363.6L387.0 365.8L381.1 366.4Z" fill="#7fff00" stroke="none"/><path d="M374.3 363.9L380.3 363.6L387.0 365.8"/><path d="M443.8 368.1L449.6 366.0L456.2 366.6L450.4 369.0Z" fill="#60ff00" stroke="none"/><path d="M443.8 368.1L449.6 366.0L456.2 366.6"/><path d="M290.4 334.7L296.5 336.8L303.4 340.7L297.4 339.0Z" fill="#ffa100" stroke="none"/><path d="M290.4 334.7L296.5 336.8L303.4 340.7"/><path d="M361.6 361.3L367.6 361.4L374.3 363.9L368.4 364.1Z" fill="#93ff00" stroke="none"/><path d="M361.6 361.3L367.6 361.4L374.3 363.9"/><path d="M431.3 369.0L437.1 367.2L443.8 368.1L438.0 370.2Z" fill="#55ff00" stroke="none"/><path d="M431.3 369.0L437.1 367.2L443.8 368.1"/><path d="M348.9 358.1L354.8 358.5L361.6 361.3L355.7 361.2Z" fill="#adff00" stroke="none"/><path d="M348.9 358.1L354.8 358.5L361.6 361.3"/><path d="M418.9 369.3L424.7 367.8L431.3 369.0L425.6 370.8Z" fill="#52ff00" stroke="none"/><path d="M418.9 369.3L424.7 367.8L431.3 369.0"/><path d="M277.4 328.0L283.5 330.4L290.4 334.7L284.3 332.5Z" fill="#ff7300" stroke="none"/><path d="M277.4 328.0L283.5 330.4L290.4 334.7M284.3 332.5L277.4 328.0"/><path d="M336.1 354.3L342.1 355.0L348.9 358.1L342.9 357.7Z" fill="#ccff00" stroke="none"/><path d="M336.1 354.3L342.1 355.0L348.9 358.1"/><path d="M406.3 369.0L412.2 367.8L418.9 369.3L413.0 370.8Z" fill="#55ff00" stroke="none"/><path d="M406.3 369.0L412.2 367.8L418.9 369.3"/><path d="M475.2 364.8L480.9 361.8L487.5 361.8L481.8 365.0Z" fill="#82ff00" stroke="none"/><path d="M475.2 364.8L480.9 361.8L487.5 361.8L481.8 365.0"/><path d="M393.7 368.0L399.6 367.1L406.3 369.0L400.5 370.1Z" fill="#60ff00" stroke="none"/><path d="M393.7 368.0L399.6 367.1L406.3 369.0"/><path d="M462.8 367.2L468.5 364.5L475.2 364.8L469.4 367.8Z" fill="#6dff00" stroke="none"/><path d="M462.8 367.2L468.5 364.5L475.2 364.8"/><path d="M323.2 349.8L329.2 350.9L336.1 354.3L330.1 353.5Z" fill="#efff00" stroke="none"/><path d="M323.2 349.8L329.2 350.9L336.1 354.3"/><path d="M381.1 366.4L387.0 365.8L393.7 368.0L387.9 368.8Z" fill="#6eff00" stroke="none"/><path d="M381.1 366.4L387.0 365.8L393.7 368.0"/><path d="M450.4 369.0L456.2 366.6L462.8 367.2L457.1 369.9Z" fill="#5bff00" stroke="none"/><path d="M450.4 369.0L456.2 366.6L462.8 367.2"/><path d="M310.3 344.7L316.4 346.1L323.2 349.8L317.2 348.7Z" fill="#ffe900" stroke="none"/><path d="M310.3 344.7L316.4 346.1L323.2 349.8"/><path d="M297.4 339.0L303.4 340.7L310.3 344.7L304.3 343.2Z" fill="#ffbf00" stroke="none"/><path d="M297.4 339.0L303.4 340.7L310.3 344.7"/><path d="M368.4 364.1L374.3 363.9L381.1 366.4L375.2 366.9Z" fill="#80ff00" stroke="none"/><path d="M368.4 364.1L374.3 363.9L381.1 366.4"/><path d="M438.0 370.2L443.8 368.1L450.4 369.0L444.7 371.4Z" fill="#4dff00" stroke="none"/><path d="M438.0 370.2L443.8 368.1L450.4 369.0"/><path d="M284.3 332.5L290.4 334.7L297.4 339.0L291.3 337.1Z" fill="#ff9000" stroke="none"/><path d="M284.3 332.5L290.4 334.7L297.4 339.0M291.3 337.1L284.3 332.5"/><path d="M355.7 361.2L361.6 361.3L368.4 364.1L362.5 364.3Z" fill="#97ff00" stroke="none"/><path d="M355.7 361.2L361.6 361.3L368.4 364.1"/><path d="M425.6 370.8L431.3 369.0L438.0 370.2L432.3 372.4Z" fill="#46ff00" stroke="none"/><path d="M425.6 370.8L431.3 369.0L438.0 370.2"/><path d="M342.9 357.7L348.9 358.1L355.7 361.2L349.8 361.1Z" fill="#b3ff00" stroke="none"/><path d="M342.9 357.7L348.9 358.1L355.7 361.2"/><path d="M413.0 370.8L418.9 369.3L425.6 370.8L419.8 372.6Z" fill="#46ff00" stroke="none"/><path d="M413.0 370.8L418.9 369.3L425.6 370.8"/><path d="M330.1 353.5L336.1 354.3L342.9 357.7L337.0 357.2Z" fill="#d5ff00" stroke="none"/><path d="M330.1 353.5L336.1 354.3L342.9 357.7"/><path d="M400.5 370.1L406.3 369.0L413.0 370.8L407.2 372.3Z" fill="#4dff00" stroke="none"/><path d="M400.5 370.1L406.3 369.0L413.0 370.8"/><path d="M469.4 367.8L475.2 364.8L481.8 365.0L476.1 368.3Z" fill="#6dff00" stroke="none"/><path d="M469.4 367.8L475.2 364.8L481.8 365.0L476.1 368.3"/><path d="M317.2 348.7L323.2 349.8L330.1 353.5L324.1 352.7Z" fill="#faff00" stroke="none"/><path d="M317.2 348.7L323.2 349.8L330.1 353.5"/><path d="M387.9 368.8L393.7 368.0L400.5 370.1L394.7 371.3Z" fill="#5bff00" stroke="none"/><path d="M387.9 368.8L393.7 368.0L400.5 370.1"/><path d="M457.1 369.9L462.8 367.2L469.4 367.8L463.7 370.8Z" fill="#57ff00" stroke="none"/><path d="M457.1 369.9L462.8 367.2L469.4 367.8"/><path d="M375.2 366.9L381.1 366.4L387.9 368.8L382.0 369.7Z" fill="#6dff00" stroke="none"/><path d="M375.2 366.9L381.1 366.4L387.9 368.8"/><path d="M444.7 371.4L450.4 369.0L457.1 369.9L451.4 372.6Z" fill="#45ff00" stroke="none"/><path d="M444.7 371.4L450.4 369.0L457.1 369.9"/><path d="M304.3 343.2L310.3 344.7L317.2 348.7L311.2 347.5Z" fill="#ffdc00" stroke="none"/><path d="M304.3 343.2L310.3 344.7L317.2 348.7"/><path d="M291.3 337.1L297.4 339.0L304.3 343.2L298.3 341.7Z" fill="#ffaf00" stroke="none"/><path d="M291.3 337.1L297.4 339.0L304.3 343.2M298.3 341.7L291.3 337.1"/><path d="M362.5 364.3L368.4 364.1L375.2 366.9L369.4 367.4Z" fill="#82ff00" stroke="none"/><path d="M362.5 364.3L368.4 364.1L375.2 366.9"/><path d="M432.3 372.4L438.0 370.2L444.7 371.4L438.9 373.9Z" fill="#3aff00" stroke="none"/><path d="M432.3 372.4L438.0 370.2L444.7 371.4"/><path d="M349.8 361.1L355.7 361.2L362.5 364.3L356.6 364.5Z" fill="#9bff00" stroke="none"/><path d="M349.8 361.1L355.7 361.2L362.5 364.3"/><path d="M419.8 372.6L425.6 370.8L432.3 372.4L426.5 374.5Z" fill="#37ff00" stroke="none"/><path d="M419.8 372.6L425.6 370.8L432.3 372.4"/><path d="M407.2 372.3L413.0 370.8L419.8 372.6L414.0 374.4Z" fill="#3aff00" stroke="none"/><path d="M407.2 372.3L413.0 370.8L419.8 372.6"/><path d="M337.0 357.2L342.9 357.7L349.8 361.1L343.9 361.0Z" fill="#baff00" stroke="none"/><path d="M337.0 357.2L342.9 357.7L349.8 361.1"/><path d="M324.1 352.7L330.1 353.5L337.0 357.2L331.0 356.7Z" fill="#deff00" stroke="none"/><path d="M324.1 352.7L330.1 353.5L337.0 357.2"/><path d="M394.7 371.3L400.5 370.1L407.2 372.3L401.4 373.8Z" fill="#45ff00" stroke="none"/><path d="M394.7 371.3L400.5 370.1L407.2 372.3"/><path d="M463.7 370.8L469.4 367.8L476.1 368.3L470.4 371.6Z" fill="#52ff00" stroke="none"/><path d="M463.7 370.8L469.4 367.8L476.1 368.3L470.4 371.6"/><path d="M311.2 347.5L317.2 348.7L324.1 352.7L318.1 351.9Z" fill="#fffa00" stroke="none"/><path d="M311.2 347.5L317.2 348.7L324.1 352.7"/><path d="M382.0 369.7L387.9 368.8L394.7 371.3L388.8 372.5Z" fill="#56ff00" stroke="none"/><path d="M382.0 369.7L387.9 368.8L394.7 371.3"/><path d="M451.4 372.6L457.1 369.9L463.7 370.8L458.0 373.8Z" fill="#3dff00" stroke="none"/><path d="M451.4 372.6L457.1 369.9L463.7 370.8"/><path d="M369.4 367.4L375.2 366.9L382.0 369.7L376.2 370.5Z" fill="#6dff00" stroke="none"/><path d="M369.4 367.4L375.2 366.9L382.0 369.7"/><path d="M438.9 373.9L444.7 371.4L451.4 372.6L445.6 375.3Z" fill="#2fff00" stroke="none"/><path d="M438.9 373.9L444.7 371.4L451.4 372.6"/><path d="M298.3 341.7L304.3 343.2L311.2 347.5L305.2 346.3Z" fill="#ffcf00" stroke="none"/><path d="M298.3 341.7L304.3 343.2L311.2 347.5M305.2 346.3L298.3 341.7"/><path d="M356.6 364.5L362.5 364.3L369.4 367.4L363.5 367.9Z" fill="#84ff00" stroke="none"/><path d="M356.6 364.5L362.5 364.3L369.4 367.4"/><path d="M426.5 374.5L432.3 372.4L438.9 373.9L433.2 376.3Z" fill="#28ff00" stroke="none"/><path d="M426.5 374.5L432.3 372.4L438.9 373.9"/><path d="M414.0 374.4L419.8 372.6L426.5 374.5L420.7 376.6Z" fill="#28ff00" stroke="none"/><path d="M414.0 374.4L419.8 372.6L426.5 374.5"/><path d="M343.9 361.0L349.8 361.1L356.6 364.5L350.7 364.7Z" fill="#a0ff00" stroke="none"/><path d="M343.9 361.0L349.8 361.1L356.6 364.5"/><path d="M331.0 356.7L337.0 357.2L343.9 361.0L337.9 360.8Z" fill="#c1ff00" stroke="none"/><path d="M331.0 356.7L337.0 357.2L343.9 361.0"/><path d="M401.4 373.8L407.2 372.3L414.0 374.4L408.2 376.2Z" fill="#2fff00" stroke="none"/><path d="M401.4 373.8L407.2 372.3L414.0 374.4"/><path d="M318.1 351.9L324.1 352.7L331.0 356.7L325.1 356.2Z" fill="#e7ff00" stroke="none"/><path d="M318.1 351.9L324.1 352.7L331.0 356.7"/><path d="M388.8 372.5L394.7 371.3L401.4 373.8L395.6 375.2Z" fill="#3dff00" stroke="none"/><path d="M388.8 372.5L394.7 371.3L401.4 373.8"/><path d="M458.0 373.8L463.7 370.8L470.4 371.6L464.7 374.9Z" fill="#36ff00" stroke="none"/><path d="M458.0 373.8L463.7 370.8L470.4 371.6L464.7 374.9"/><path d="M305.2 346.3L311.2 347.5L318.1 351.9L312.2 351.0Z" fill="#ffef00" stroke="none"/><path d="M305.2 346.3L311.2 347.5L318.1 351.9M312.2 351.0L305.2 346.3"/><path d="M376.2 370.5L382.0 369.7L388.8 372.5L383.0 373.6Z" fill="#52ff00" stroke="none"/><path d="M376.2 370.5L382.0 369.7L388.8 372.5"/><path d="M445.6 375.3L451.4 372.6L458.0 373.8L452.3 376.8Z" fill="#24ff00" stroke="none"/><path d="M445.6 375.3L451.4 372.6L458.0 373.8"/><path d="M363.5 367.9L369.4 367.4L376.2 370.5L370.3 371.3Z" fill="#6cff00" stroke="none"/><path d="M363.5 367.9L369.4 367.4L376.2 370.5"/><path d="M433.2 376.3L438.9 373.9L445.6 375.3L439.9 378.1Z" fill="#19ff00" stroke="none"/><path d="M433.2 376.3L438.9 373.9L445.6 375.3"/><path d="M420.7 376.6L426.5 374.5L433.2 376.3L427.5 378.7Z" fill="#16ff00" stroke="none"/><path d="M420.7 376.6L426.5 374.5L433.2 376.3"/><path d="M350.7 364.7L356.6 364.5L363.5 367.9L357.6 368.4Z" fill="#85ff00" stroke="none"/><path d="M350.7 364.7L356.6 364.5L363.5 367.9"/><path d="M337.9 360.8L343.9 361.0L350.7 364.7L344.8 364.8Z" fill="#a4ff00" stroke="none"/><path d="M337.9 360.8L343.9 361.0L350.7 364.7"/><path d="M408.2 376.2L414.0 374.4L420.7 376.6L415.0 378.7Z" fill="#19ff00" stroke="none"/><path d="M408.2 376.2L414.0 374.4L420.7 376.6"/><path d="M325.1 356.2L331.0 356.7L337.9 360.8L332.0 360.5Z" fill="#c8ff00" stroke="none"/><path d="M325.1 356.2L331.0 356.7L337.9 360.8"/><path d="M395.6 375.2L401.4 373.8L408.2 376.2L402.4 378.0Z" fill="#24ff00" stroke="none"/><path d="M395.6 375.2L401.4 373.8L408.2 376.2"/><path d="M312.2 351.0L318.1 351.9L325.1 356.2L319.1 355.6Z" fill="#f0ff00" stroke="none"/><path d="M312.2 351.0L318.1 351.9L325.1 356.2M319.1 355.6L312.2 351.0"/><path d="M383.0 373.6L388.8 372.5L395.6 375.2L389.8 376.7Z" fill="#35ff00" stroke="none"/><path d="M383.0 373.6L388.8 372.5L395.6 375.2"/><path d="M452.3 376.8L458.0 373.8L464.7 374.9L459.0 378.3Z" fill="#19ff00" stroke="none"/><path d="M452.3 376.8L458.0 373.8L464.7 374.9L459.0 378.3"/><path d="M370.3 371.3L376.2 370.5L383.0 373.6L377.2 374.7Z" fill="#4eff00" stroke="none"/><path d="M370.3 371.3L376.2 370.5L383.0 373.6"/><path d="M439.9 378.1L445.6 375.3L452.3 376.8L446.6 379.8Z" fill="#0bff00" stroke="none"/><path d="M439.9 378.1L445.6 375.3L452.3 376.8"/><path d="M427.5 378.7L433.2 376.3L439.9 378.1L434.2 380.8Z" fill="#04ff00" stroke="none"/><path d="M427.5 378.7L433.2 376.3L439.9 378.1"/><path d="M357.6 368.4L363.5 367.9L370.3 371.3L364.5 372.1Z" fill="#6cff00" stroke="none"/><path d="M357.6 368.4L363.5 367.9L370.3 371.3"/><path d="M344.8 364.8L350.7 364.7L357.6 368.4L351.7 368.8Z" fill="#88ff00" stroke="none"/><path d="M344.8 364.8L350.7 364.7L357.6 368.4"/><path d="M415.0 378.7L420.7 376.6L427.5 378.7L421.7 381.1Z" fill="#04ff00" stroke="none"/><path d="M415.0 378.7L420.7 376.6L427.5 378.7"/><path d="M332.0 360.5L337.9 360.8L344.8 364.8L338.9 364.9Z" fill="#a9ff00" stroke="none"/><path d="M332.0 360.5L337.9 360.8L344.8 364.8"/><path d="M402.4 378.0L408.2 376.2L415.0 378.7L409.2 380.8Z" fill="#0bff00" stroke="none"/><path d="M402.4 378.0L408.2 376.2L415.0 378.7"/><path d="M319.1 355.6L325.1 356.2L332.0 360.5L326.1 360.3Z" fill="#cfff00" stroke="none"/><path d="M319.1 355.6L325.1 356.2L332.0 360.5M326.1 360.3L319.1 355.6"/><path d="M389.8 376.7L395.6 375.2L402.4 378.0L396.6 379.8Z" fill="#19ff00" stroke="none"/><path d="M389.8 376.7L395.6 375.2L402.4 378.0"/><path d="M377.2 374.7L383.0 373.6L389.8 376.7L384.0 378.1Z" fill="#2eff00" stroke="none"/><path d="M377.2 374.7L383.0 373.6L389.8 376.7"/><path d="M446.6 379.8L452.3 376.8L459.0 378.3L453.4 381.6Z" fill="#00ff03" stroke="none"/><path d="M446.6 379.8L452.3 376.8L459.0 378.3L453.4 381.6"/><path d="M364.5 372.1L370.3 371.3L377.2 374.7L371.3 375.8Z" fill="#4aff00" stroke="none"/><path d="M364.5 372.1L370.3 371.3L377.2 374.7"/><path d="M434.2 380.8L439.9 378.1L446.6 379.8L440.9 382.9Z" fill="#00ff0e" stroke="none"/><path d="M434.2 380.8L439.9 378.1L446.6 379.8"/><path d="M351.7 368.8L357.6 368.4L364.5 372.1L358.6 372.9Z" fill="#6bff00" stroke="none"/><path d="M351.7 368.8L357.6 368.4L364.5 372.1"/><path d="M421.7 381.1L427.5 378.7L434.2 380.8L428.5 383.5Z" fill="#00ff11" stroke="none"/><path d="M421.7 381.1L427.5 378.7L434.2 380.8"/><path d="M338.9 364.9L344.8 364.8L351.7 368.8L345.8 369.3Z" fill="#8aff00" stroke="none"/><path d="M338.9 364.9L344.8 364.8L351.7 368.8"/><path d="M409.2 380.8L415.0 378.7L421.7 381.1L416.0 383.5Z" fill="#00ff0e" stroke="none"/><path d="M409.2 380.8L415.0 378.7L421.7 381.1"/><path d="M326.1 360.3L332.0 360.5L338.9 364.9L333.0 365.0Z" fill="#adff00" stroke="none"/><path d="M326.1 360.3L332.0 360.5L338.9 364.9M333.0 365.0L326.1 360.3"/><path d="M396.6 379.8L402.4 378.0L409.2 380.8L403.4 382.9Z" fill="#00ff03" stroke="none"/><path d="M396.6 379.8L402.4 378.0L409.2 380.8"/><path d="M384.0 378.1L389.8 376.7L396.6 379.8L390.8 381.6Z" fill="#0eff00" stroke="none"/><path d="M384.0 378.1L389.8 376.7L396.6 379.8"/><path d="M371.3 375.8L377.2 374.7L384.0 378.1L378.2 379.6Z" fill="#27ff00" stroke="none"/><path d="M371.3 375.8L377.2 374.7L384.0 378.1"/><path d="M440.9 382.9L446.6 379.8L453.4 381.6L447.7 385.0Z" fill="#00ff1f" stroke="none"/><path d="M440.9 382.9L446.6 379.8L453.4 381.6L447.7 385.0"/><path d="M358.6 372.9L364.5 372.1L371.3 375.8L365.5 376.9Z" fill="#46ff00" stroke="none"/><path d="M358.6 372.9L364.5 372.1L371.3 375.8"/><path d="M428.5 383.5L434.2 380.8L440.9 382.9L435.2 385.9Z" fill="#00ff26" stroke="none"/><path d="M428.5 383.5L434.2 380.8L440.9 382.9"/><path d="M345.8 369.3L351.7 368.8L358.6 372.9L352.8 373.6Z" fill="#6bff00" stroke="none"/><path d="M345.8 369.3L351.7 368.8L358.6 372.9"/><path d="M416.0 383.5L421.7 381.1L428.5 383.5L422.8 386.3Z" fill="#00ff26" stroke="none"/><path d="M416.0 383.5L421.7 381.1L428.5 383.5"/><path d="M333.0 365.0L338.9 364.9L345.8 369.3L340.0 369.7Z" fill="#8cff00" stroke="none"/><path d="M333.0 365.0L338.9 364.9L345.8 369.3M340.0 369.7L333.0 365.0"/><path d="M403.4 382.9L409.2 380.8L416.0 383.5L410.2 385.9Z" fill="#00ff1f" stroke="none"/><path d="M403.4 382.9L409.2 380.8L416.0 383.5"/><path d="M390.8 381.6L396.6 379.8L403.4 382.9L397.7 385.0Z" fill="#00ff11" stroke="none"/><path d="M390.8 381.6L396.6 379.8L403.4 382.9"/><path d="M378.2 379.6L384.0 378.1L390.8 381.6L385.1 383.3Z" fill="#04ff00" stroke="none"/><path d="M378.2 379.6L384.0 378.1L390.8 381.6"/><path d="M365.5 376.9L371.3 375.8L378.2 379.6L372.4 381.0Z" fill="#20ff00" stroke="none"/><path d="M365.5 376.9L371.3 375.8L378.2 379.6"/><path d="M435.2 385.9L440.9 382.9L447.7 385.0L442.0 388.4Z" fill="#00ff3b" stroke="none"/><path d="M435.2 385.9L440.9 382.9L447.7 385.0L442.0 388.4"/><path d="M352.8 373.6L358.6 372.9L365.5 376.9L359.7 378.0Z" fill="#43ff00" stroke="none"/><path d="M352.8 373.6L358.6 372.9L365.5 376.9"/><path d="M422.8 386.3L428.5 383.5L435.2 385.9L429.6 389.0Z" fill="#00ff3e" stroke="none"/><path d="M422.8 386.3L428.5 383.5L435.2 385.9"/><path d="M340.0 369.7L345.8 369.3L352.8 373.6L346.9 374.4Z" fill="#6bff00" stroke="none"/><path d="M340.0 369.7L345.8 369.3L352.8 373.6M346.9 374.4L340.0 369.7"/><path d="M410.2 385.9L416.0 383.5L422.8 386.3L417.1 389.0Z" fill="#00ff3b" stroke="none"/><path d="M410.2 385.9L416.0 383.5L422.8 386.3"/><path d="M397.7 385.0L403.4 382.9L410.2 385.9L404.5 388.4Z" fill="#00ff31" stroke="none"/><path d="M397.7 385.0L403.4 382.9L410.2 385.9"/><path d="M385.1 383.3L390.8 381.6L397.7 385.0L391.9 387.1Z" fill="#00ff1f" stroke="none"/><path d="M385.1 383.3L390.8 381.6L397.7 385.0"/><path d="M372.4 381.0L378.2 379.6L385.1 383.3L379.3 385.1Z" fill="#00ff06" stroke="none"/><path d="M372.4 381.0L378.2 379.6L385.1 383.3"/><path d="M359.7 378.0L365.5 376.9L372.4 381.0L366.6 382.4Z" fill="#19ff00" stroke="none"/><path d="M359.7 378.0L365.5 376.9L372.4 381.0"/><path d="M429.6 389.0L435.2 385.9L442.0 388.4L436.3 391.8Z" fill="#00ff56" stroke="none"/><path d="M429.6 389.0L435.2 385.9L442.0 388.4L436.3 391.8"/><path d="M346.9 374.4L352.8 373.6L359.7 378.0L353.8 379.1Z" fill="#40ff00" stroke="none"/><path d="M346.9 374.4L352.8 373.6L359.7 378.0M353.8 379.1L346.9 374.4"/><path d="M417.1 389.0L422.8 386.3L429.6 389.0L423.9 392.1Z" fill="#00ff56" stroke="none"/><path d="M417.1 389.0L422.8 386.3L429.6 389.0"/><path d="M404.5 388.4L410.2 385.9L417.1 389.0L411.3 391.8Z" fill="#00ff4f" stroke="none"/><path d="M404.5 388.4L410.2 385.9L417.1 389.0"/><path d="M391.9 387.1L397.7 385.0L404.5 388.4L398.8 390.8Z" fill="#00ff41" stroke="none"/><path d="M391.9 387.1L397.7 385.0L404.5 388.4"/><path d="M379.3 385.1L385.1 383.3L391.9 387.1L386.2 389.1Z" fill="#00ff2c" stroke="none"/><path d="M379.3 385.1L385.1 383.3L391.9 387.1"/><path d="M366.6 382.4L372.4 381.0L379.3 385.1L373.5 386.8Z" fill="#00ff10" stroke="none"/><path d="M366.6 382.4L372.4 381.0L379.3 385.1"/><path d="M353.8 379.1L359.7 378.0L366.6 382.4L360.8 383.8Z" fill="#13ff00" stroke="none"/><path d="M353.8 379.1L359.7 378.0L366.6 382.4M360.8 383.8L353.8 379.1"/><path d="M423.9 392.1L429.6 389.0L436.3 391.8L430.7 395.2Z" fill="#00ff71" stroke="none"/><path d="M423.9 392.1L429.6 389.0L436.3 391.8L430.7 395.2"/><path d="M411.3 391.8L417.1 389.0L423.9 392.1L418.2 395.2Z" fill="#00ff6e" stroke="none"/><path d="M411.3 391.8L417.1 389.0L423.9 392.1"/><path d="M398.8 390.8L404.5 388.4L411.3 391.8L405.6 394.5Z" fill="#00ff64" stroke="none"/><path d="M398.8 390.8L404.5 388.4L411.3 391.8"/><path d="M386.2 389.1L391.9 387.1L398.8 390.8L393.0 393.2Z" fill="#00ff52" stroke="none"/><path d="M386.2 389.1L391.9 387.1L398.8 390.8"/><path d="M373.5 386.8L379.3 385.1L386.2 389.1L380.4 391.2Z" fill="#00ff3a" stroke="none"/><path d="M373.5 386.8L379.3 385.1L386.2 389.1"/><path d="M360.8 383.8L366.6 382.4L373.5 386.8L367.7 388.6Z" fill="#00ff1a" stroke="none"/><path d="M360.8 383.8L366.6 382.4L373.5 386.8M367.7 388.6L360.8 383.8"/><path d="M418.2 395.2L423.9 392.1L430.7 395.2L425.0 398.6Z" fill="#00ff8c" stroke="none"/><path d="M418.2 395.2L423.9 392.1L430.7 395.2L425.0 398.6"/><path d="M405.6 394.5L411.3 391.8L418.2 395.2L412.5 398.3Z" fill="#00ff85" stroke="none"/><path d="M405.6 394.5L411.3 391.8L418.2 395.2"/><path d="M393.0 393.2L398.8 390.8L405.6 394.5L399.9 397.3Z" fill="#00ff78" stroke="none"/><path d="M393.0 393.2L398.8 390.8L405.6 394.5"/><path d="M380.4 391.2L386.2 389.1L393.0 393.2L387.3 395.7Z" fill="#00ff63" stroke="none"/><path d="M380.4 391.2L386.2 389.1L393.0 393.2"/><path d="M367.7 388.6L373.5 386.8L380.4 391.2L374.6 393.3Z" fill="#00ff47" stroke="none"/><path d="M367.7 388.6L373.5 386.8L380.4 391.2M374.6 393.3L367.7 388.6"/><path d="M412.5 398.3L418.2 395.2L425.0 398.6L419.3 402.0Z" fill="#00ffa7" stroke="none"/><path d="M412.5 398.3L418.2 395.2L425.0 398.6L419.3 402.0"/><path d="M399.9 397.3L405.6 394.5L412.5 398.3L406.8 401.4Z" fill="#00ff9d" stroke="none"/><path d="M399.9 397.3L405.6 394.5L412.5 398.3"/><path d="M387.3 395.7L393.0 393.2L399.9 397.3L394.2 400.1Z" fill="#00ff8b" stroke="none"/><path d="M387.3 395.7L393.0 393.2L399.9 397.3"/><path d="M374.6 393.3L380.4 391.2L387.3 395.7L381.6 398.1Z" fill="#00ff73" stroke="none"/><path d="M374.6 393.3L380.4 391.2L387.3 395.7M381.6 398.1L374.6 393.3"/><path d="M406.8 401.4L412.5 398.3L419.3 402.0L413.7 405.5Z" fill="#00ffc1" stroke="none"/><path d="M406.8 401.4L412.5 398.3L419.3 402.0L413.7 405.5"/><path d="M394.2 400.1L399.9 397.3L406.8 401.4L401.1 404.5Z" fill="#00ffb4" stroke="none"/><path d="M394.2 400.1L399.9 397.3L406.8 401.4"/><path d="M381.6 398.1L387.3 395.7L394.2 400.1L388.5 402.9Z" fill="#00ff9f" stroke="none"/><path d="M381.6 398.1L387.3 395.7L394.2 400.1M388.5 402.9L381.6 398.1"/><path d="M401.1 404.5L406.8 401.4L413.7 405.5L408.0 409.0Z" fill="#00ffdc" stroke="none"/><path d="M401.1 404.5L406.8 401.4L413.7 405.5L408.0 409.0"/><path d="M388.5 402.9L394.2 400.1L401.1 404.5L395.4 407.7Z" fill="#00ffca" stroke="none"/><path d="M388.5 402.9L394.2 400.1L401.1 404.5M395.4 407.7L388.5 402.9"/><path d="M395.4 407.7L401.1 404.5L408.0 409.0L402.3 412.5Z" fill="#00fff6" stroke="none"/><path d="M395.4 407.7L401.1 404.5L408.0 409.0L402.3 412.5Z"/></g>
<circle cx="270.5" cy="320.9" r="3.0" fill="#c00008" stroke="#5a0a0a" stroke-width="0.6"/>
<circle cx="302.4" cy="334.7" r="3.0" fill="#c00008" stroke="#5a0a0a" stroke-width="0.6"/>
<circle cx="456.6" cy="354.8" r="3.0" fill="#c00008" stroke="#5a0a0a" stroke-width="0.6"/>
<circle cx="482.5" cy="350.6" r="3.0" fill="#c00008" stroke="#5a0a0a" stroke-width="0.6"/>
<circle cx="482.5" cy="349.0" r="3.0" fill="#c00008" stroke="#5a0a0a" stroke-width="0.6"/>
<circle cx="365.5" cy="387.0" r="3.0" fill="#c00008" stroke="#5a0a0a" stroke-width="0.6"/>
<line x1="402.5" y1="391.0" x2="402.5" y2="413.0" stroke="#2a2a2a" stroke-width="1"/>
<circle cx="402.3" cy="391.0" r="3.0" fill="#c00008" stroke="#5a0a0a" stroke-width="0.6"/>
<text x="204.8" y="273.4" style="font-family:'Liberation Serif',serif" font-weight="bold" font-size="13.3" fill="#000">C</text>
<text x="231.3" y="271.0" font-size="6.9" text-anchor="end" fill="#222" >36</text>
<text x="231.3" y="301.9" font-size="6.9" text-anchor="end" fill="#222" >34</text>
<text x="231.3" y="332.8" font-size="6.9" text-anchor="end" fill="#222" >32</text>
<text x="231.3" y="363.8" font-size="6.9" text-anchor="end" fill="#222" >30</text>
<text x="231.3" y="394.9" font-size="6.9" text-anchor="end" fill="#222" >28</text>
<text x="231.3" y="425.9" font-size="6.9" text-anchor="end" fill="#222" >26</text>
<text transform="translate(211.5,377.0) rotate(-90)" font-size="6.6" text-anchor="middle" fill="#222" textLength="49.8" lengthAdjust="spacingAndGlyphs">TPC (mgGAE/g)</text>
<text x="230.9" y="486.3" font-size="6.9" text-anchor="middle" fill="#222" >3</text>
<text x="261.4" y="491.3" font-size="6.9" text-anchor="middle" fill="#222" >2.5</text>
<text x="297.0" y="496.4" font-size="6.9" text-anchor="middle" fill="#222" >2</text>
<text x="328.1" y="501.9" font-size="6.9" text-anchor="middle" fill="#222" >1.5</text>
<text x="362.5" y="507.1" font-size="6.9" text-anchor="middle" fill="#222" >1</text>
<text x="393.0" y="510.9" font-size="6.9" text-anchor="middle" fill="#222" >0.5</text>
<text x="409.6" y="510.9" font-size="6.9" text-anchor="middle" fill="#222" >20</text>
<text x="250.4" y="508.6" font-size="6.6" text-anchor="start" fill="#222" textLength="41.5" lengthAdjust="spacingAndGlyphs" >B: Time (min)</text>
<text x="437.5" y="502.8" font-size="6.9" text-anchor="middle" fill="#222" >40</text>
<text x="465.9" y="495.1" font-size="6.9" text-anchor="middle" fill="#222" >60</text>
<text x="494.1" y="487.6" font-size="6.9" text-anchor="middle" fill="#222" >80</text>
<text x="525.5" y="480.0" font-size="6.9" text-anchor="middle" fill="#222" >100</text>
<text x="498.8" y="501.6" font-size="6.6" text-anchor="start" fill="#222" textLength="39.8" lengthAdjust="spacingAndGlyphs" >A: Power (%)</text>
</svg>
</body></html>
